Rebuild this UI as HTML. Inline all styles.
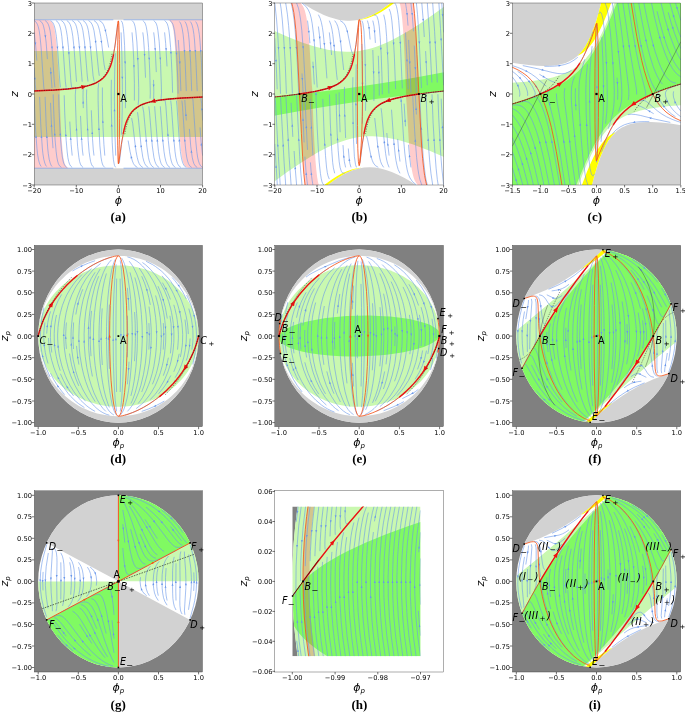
<!DOCTYPE html>
<html><head><meta charset="utf-8"><title>Phase portraits</title>
<style>html,body{margin:0;padding:0;background:#fff}svg{display:block}text{font-family:"DejaVu Sans","Liberation Sans",sans-serif;fill:#000}</style>
</head><body>
<svg width="685" height="713" viewBox="0 0 685 713">
<rect width="685" height="713" fill="#fff"/>
<g id="panel_a">
<clipPath id="clip_a"><rect x="34.2" y="3" width="168.4" height="182"/></clipPath>
<rect x="34.2" y="3" width="168.4" height="182" fill="#fff"/>
<g clip-path="url(#clip_a)">
<path d="M32.9 186.8L204.3 186.8 204.3 168.3 32.5 168.3 32.5 186.8 32.9 186.8ZM32.9 19.7L204.3 19.7 204.3 1.2 32.5 1.2 32.5 19.7 32.9 19.7Z" fill="#d2d2d2" fill-rule="evenodd"/>
<path d="M32.9 136.9L204.3 136.9 204.3 51.1 32.5 51.1 32.5 136.9 32.9 136.9Z" fill="#c9f8b0" fill-rule="evenodd"/>
<path d="M197.1 168.3L189.4 168.1 187.5 167.7 186.1 167.1 184.8 165.8 183.8 164 182.9 161.5 182.1 158 181.1 151.5 180.2 142.6 177.6 105.6 177.3 101.4 176.9 99.3 177 90.9 176.4 71.9 175.4 52.2 174.3 38.3 173.4 30.3 172.2 25.1 171.6 23.4 170.9 22.1 169.9 21 168.6 20.3 168.6 19.7 206.8 19.7 206.8 168.3Z" fill="#ff0000" fill-opacity="0.2"/>
<path d="M39.7 19.7L47.4 19.9 49.3 20.3 50.7 20.9 52 22.2 53 24 53.9 26.5 54.7 30 55.7 36.5 56.6 45.4 59.2 82.4 59.5 86.6 59.9 88.7 59.8 97.1 60.4 116.1 61.4 135.8 62.5 149.7 63.4 157.7 64.6 162.9 65.2 164.6 65.9 165.9 66.9 167 68.2 167.7 68.2 168.3 30 168.3 30 19.7Z" fill="#ff0000" fill-opacity="0.2"/>
<path d="M202.6 167.4L200.6 165.8 199.4 163.7 198.5 161.1 197.6 157.2 196.8 151.6 195.7 140.3 193 100.5 192.8 99.1 192.3 98.2 191.3 97.8 183.9 97.9 180.5 98.5 176.4 98.5 171.4 99.1 167.8 99.2 165.3 99.7 162.4 99.8 160.5 100.3 158 100.5 153.6 101.3 147.9 102.6 144 103.9 142.7 104.5 141 105.1 137.2 107.4 133.7 110 131.2 113 128.7 116.8 126.2 122.6 125.1 125.9 124.1 130 122 140.9 119.3 163.4M202.6 155.6L201.3 144.4 200 127.4M202.6 120.4L201.6 103.4 200.9 97.9 200.7 97.4 199.9 97.2 194.9 97.4M195.6 21.5L196.6 23 197.4 24.9 198.4 28.7 199.3 34.3 199.9 40 201.5 62.7 202.6 91.1M34.2 20.6L36.2 22.2 37.4 24.3 38.3 26.9 39.2 30.8 40 36.4 41.1 47.7 43.8 87.5 44 88.9 44.5 89.8 45.5 90.2 52.9 90.1 56.3 89.5 60.4 89.5 65.4 88.9 69 88.8 71.5 88.3 74.4 88.2 76.3 87.7 78.8 87.5 83.2 86.7 88.9 85.4 92.8 84.1 94.1 83.5 95.8 82.9 99.6 80.6 103.1 78 105.6 75 108.1 71.2 110.6 65.4 111.7 62.1 112.7 58 114.8 47.1 117.5 24.6M34.2 32.4L35.5 43.6 36.8 60.6M34.2 67.6L35.2 84.6 35.9 90.1 36.1 90.6 36.9 90.8 41.9 90.6M41.2 166.5L40.2 165 39.4 163.1 38.4 159.3 37.5 153.7 36.9 148 35.3 125.3 34.2 96.9M197.2 167.4L195.1 165.8 193.9 163.7 193.1 161.1 192.2 157.2 190.7 145.9 189.4 128.9M190.2 21.5L191.2 22.9 192 24.9 193 28.7 193.9 34.3 194.5 40 196 62.7 197.2 91.1M39.6 20.6L41.7 22.2 42.9 24.3 43.7 26.9 44.6 30.8 46.1 42.1 47.4 59.1M46.6 166.5L45.6 165.1 44.8 163.1 43.8 159.3 42.9 153.7 42.3 148 40.8 125.3 39.6 96.9M191.7 167.4L189.7 165.8 188.5 163.7 187.6 161.1 186.7 157.2 185.9 151.6 184.8 140.3 182.5 106.2 181.9 100.6M184.8 21.5L185.8 22.9 186.6 24.9 187.6 28.7 188.5 34.3 189.1 40 190.6 62.7 191.7 91.1M45.1 20.6L47.1 22.2 48.3 24.3 49.2 26.9 50.1 30.8 50.9 36.4 52 47.7 54.3 81.8 54.9 87.4M52 166.5L51 165.1 50.2 163.1 49.2 159.3 48.3 153.7 47.7 148 46.2 125.3 45.1 96.9M61.4 167.4L59.4 165.7 58.4 163.7 57.6 161 56.8 156.9 56.1 151.2 55.1 139.9 54.5 128.5 53.5 105.8 53.2 94.4M66.8 167.4L64.9 165.7 63.9 163.7 63.1 161 62.3 156.8 61.6 151.2 60.6 139.9 59.9 128.5 58.9 105.8 58.7 94.4M72.2 167.4L70.6 166 69.5 164.1 68.7 161.5 67.9 157.7 67.2 152 66.2 140.7 65.5 129.4 64.7 112.3 64.2 95.3M83.1 167.4L81.5 166 80.4 164.1 79.6 161.5 78.9 157.6 77.6 146.3 76.2 123.6 75.4 100.9 75.3 95.2 75.7 89.5 76.1 88.6 76.6 88.2M94 167.4L92.4 166 91.4 164.1 90.6 161.5 89.9 157.5 89.1 151.9 88.2 140.5 87.1 117.8 86.6 100.8 86.5 95.1 86.7 89.4M104.8 167.4L103.3 165.9 102.4 164 101.7 161.3 101 157.2 99.9 145.9 98.7 123.1 98.1 100.4 98.1 89 98.5 84.6 98.7 83.1M115.7 167.4L114.5 165.4 114 163.2 113.4 159.3 112.9 153.7 112.2 142.3 111.3 108.2 111.2 91.2 111.4 79.8M137.4 167.4L135 165.8 133.5 163.7 132.4 161 131.3 157.2 130.1 151.7 128.1 140.5M142.8 167.4L140.6 165.8 139.2 163.7 138.2 161.1 137.2 157.3 136.1 151.7 135.3 146.1 132.7 123.5 131.6 118M148.3 167.4L146.1 165.8 144.8 163.7 143.8 161.1 142.8 157.3 141.1 146.1 138.3 117.8 137.5 112.2M153.7 167.4L151.6 165.8 150.3 163.7 149.3 161.1 148.4 157.3 146.8 146 143.7 112.1 142.6 106.5M159.1 167.4L157 165.8 155.8 163.7 154.8 161.1 153.9 157.3 152.3 146 149.5 112 148.8 106.4M164.6 167.4L162.5 165.8 161.2 163.7 160.3 161.1 159.4 157.2 158.5 151.6 157.3 140.3 154.6 106.3M170 167.4L167.9 165.8 166.7 163.7 165.8 161.1 164.9 157.2 164 151.6 162.8 140.3 160.3 106.3M175.4 167.4L173.4 165.8 172.2 163.7 171.3 161.1 170.4 157.2 169.5 151.6 168.3 140.3 165.9 106.3 165.3 101.5 164.8 100.2 164.3 99.9M180.9 167.4L178.8 165.8 177.6 163.7 176.7 161.1 175.8 157.2 175 151.6 173.4 134.6 171.4 106.3 170.7 100.6M186.3 167.4L184.2 165.8 183.1 163.7 182.2 161.1 181.3 157.2 180.4 151.6 179.3 140.3 177 106.2 176.4 100.6M186.3 120.4L184.8 100M179.4 21.5L180.4 22.9 181.2 24.8 182.2 28.7 183.1 34.3 183.7 40 185.2 62.7 186.3 91.1M170 20.6L171.9 22.3 172.9 24.3 173.7 27 174.5 31.2 175.2 36.8 176.2 48.1 176.9 59.5 177.9 82.2 178.1 93.6M164.6 20.6L166.2 22 167.3 23.9 168.1 26.5 168.9 30.3 169.6 36 170.6 47.3 171.3 58.6 172.1 75.7 172.6 92.7M153.7 20.6L155.3 22 156.4 23.9 157.2 26.5 157.9 30.4 159.2 41.7 160.6 64.4 161.4 87.1 161.5 92.8 161.1 98.5 160.7 99.4 160.2 99.8M142.8 20.6L144.4 22 145.4 23.9 146.2 26.5 146.9 30.5 147.7 36.1 148.6 47.5 149.7 70.2 150.2 87.2 150.3 92.9 150.1 98.6M132 20.6L133.5 22.1 134.4 24 135.1 26.7 135.8 30.8 136.9 42.1 138.1 64.9 138.7 87.6 138.7 99 138.3 103.4 138.1 104.9M121.1 20.6L122.3 22.6 122.8 24.8 123.4 28.7 123.9 34.3 124.6 45.7 125.5 79.8 125.6 96.8 125.4 108.2M99.4 20.6L101.8 22.2 103.3 24.3 104.4 27 105.5 30.8 106.7 36.3 108.7 47.5M94 20.6L96.2 22.2 97.6 24.3 98.6 26.9 99.6 30.7 100.7 36.3 101.5 41.9 104.1 64.5 105.2 70M88.5 20.6L90.7 22.2 92 24.3 93 26.9 94 30.7 95.7 41.9 98.5 70.2 99.3 75.8M83.1 20.6L85.2 22.2 86.5 24.3 87.5 26.9 88.4 30.7 90 42 93.1 75.9 94.2 81.5M77.7 20.6L79.8 22.2 81 24.3 82 26.9 82.9 30.7 84.5 42 87.3 76 88 81.6M72.2 20.6L74.3 22.2 75.6 24.3 76.5 26.9 77.4 30.8 78.3 36.4 79.5 47.7 82.2 81.7M66.8 20.6L68.9 22.2 70.1 24.3 71 26.9 71.9 30.8 72.8 36.4 74 47.7 76.5 81.7M61.4 20.6L63.4 22.2 64.6 24.3 65.5 26.9 66.4 30.8 67.3 36.4 68.5 47.7 70.9 81.7 71.5 86.5 72 87.8 72.5 88.1M55.9 20.6L58 22.2 59.2 24.3 60.1 26.9 61 30.8 61.8 36.4 63.4 53.4 65.4 81.7 66.1 87.4M50.5 20.6L52.6 22.2 53.7 24.3 54.6 26.9 55.5 30.8 56.4 36.4 57.5 47.7 59.8 81.8 60.4 87.4M50.5 67.6L52 88M53 148.2L51.8 131.2 50.5 102.8M178.3 40L179.8 62.7 180.9 91.1M72.2 155.6L71.1 144.3 69.8 121.6M83.1 155.6L82.4 150 81.6 138.7 80.5 115.9M94 155.6L93.3 150 92.5 138.7 91.3 110.3M104.8 155.6L103.9 144.3 103 127.3 102.4 104.5 102.4 87.5M115.7 155.6L114.9 132.9 114.4 98.8 114.6 76 114.9 64.7 115.4 53.3M164.6 32.4L165.7 43.7 167 66.4M153.7 32.4L154.4 38 155.2 49.3 156.3 72.1M142.8 32.4L143.5 38 144.3 49.3 145.5 77.7M132 32.4L132.9 43.7 133.8 60.7 134.4 83.5 134.4 100.5M121.1 32.4L121.9 55.1 122.4 89.2 122.2 112 121.9 123.3 121.4 134.7M153.5 79.9L153.8 91.3 153.7 96.9 153.4 99.9M83.3 108.1L83 96.7 83.1 91.1 83.4 88.1" fill="none" stroke="#6a97ea" stroke-width="0.6" stroke-linejoin="round"/>
<path d="M168.4 99.2L170.7 98L170.9 100ZM201.2 143.1L202.3 145.4L200.4 145.5ZM201.8 107.8L203 110.1L201 110.2ZM200.9 52.6L199.7 50.3L201.7 50.1ZM68.4 88.8L66.1 90L65.9 88ZM35.6 44.9L34.5 42.6L36.4 42.5ZM35 80.2L33.8 77.9L35.8 77.8ZM35.9 135.4L37.1 137.7L35.1 137.9ZM191.2 150.3L192.5 152.6L190.5 152.8ZM195.5 52.6L194.3 50.3L196.3 50.1ZM45.6 37.7L44.3 35.4L46.3 35.2ZM41.3 135.4L42.5 137.7L40.5 137.9ZM184.7 139L185.8 141.3L183.9 141.4ZM190.1 52.6L188.9 50.3L190.9 50.1ZM52.1 49L51 46.7L52.9 46.6ZM46.7 135.4L47.9 137.7L45.9 137.9ZM54.7 132.9L55.8 135.3L53.8 135.4ZM60.2 132.9L61.3 135.2L59.3 135.3ZM65.7 133.7L66.9 136.1L64.9 136.2ZM76.4 128L77.5 130.3L75.6 130.4ZM87.5 127.9L88.6 130.2L86.7 130.3ZM98.9 127.5L100 129.9L98 130ZM111.6 124L112.7 126.4L110.7 126.4ZM131 155.9L132.5 158.1L130.5 158.5ZM135.2 144.8L136.5 147.1L134.5 147.3ZM141 144.8L142.2 147.1L140.3 147.3ZM146.1 139.1L147.3 141.4L145.3 141.6ZM151.7 139L152.9 141.4L150.9 141.5ZM157.2 139L158.4 141.4L156.4 141.5ZM162.7 139L163.9 141.3L161.9 141.5ZM167.8 133.3L169 135.7L167 135.8ZM173.7 139L174.9 141.3L172.9 141.5ZM179.2 139L180.4 141.3L178.4 141.5ZM185.9 113.4L187 115.8L185 115.9ZM184.6 52.6L183.5 50.3L185.5 50.1ZM176.6 55.1L175.5 52.8L177.5 52.7ZM171.1 54.3L169.9 51.9L171.9 51.8ZM160.4 60L159.3 57.7L161.2 57.6ZM149.3 60.1L148.2 57.8L150.1 57.7ZM137.9 60.5L136.8 58.1L138.8 58ZM125.2 64L124.1 61.6L126.1 61.6ZM105.8 32.1L104.3 29.9L106.3 29.5ZM101.6 43.2L100.3 40.9L102.3 40.7ZM95.8 43.2L94.6 40.9L96.5 40.7ZM90.7 48.9L89.5 46.6L91.5 46.4ZM85.1 49L83.9 46.6L85.9 46.5ZM79.6 49L78.4 46.6L80.4 46.5ZM74.1 49L72.9 46.7L74.9 46.5ZM69 54.7L67.8 52.3L69.8 52.2ZM63.1 49L61.9 46.7L63.9 46.5ZM57.6 49L56.4 46.7L58.4 46.5ZM50.9 74.6L49.8 72.2L51.8 72.1ZM51.4 124.2L52.5 126.6L50.5 126.7ZM179.9 64L178.7 61.6L180.7 61.5ZM70.6 137.4L71.7 139.7L69.7 139.8ZM81.5 137.3L82.6 139.7L80.7 139.8ZM92.1 131.7L93.2 134L91.3 134.1ZM102.8 120.3L103.8 122.7L101.9 122.7ZM114.5 108.8L115.5 111.3L113.5 111.3ZM166.2 50.6L165.1 48.3L167.1 48.2ZM155.3 50.7L154.2 48.3L156.1 48.2ZM144.7 56.3L143.6 54L145.5 53.9ZM134 67.7L133 65.3L134.9 65.3ZM122.3 79.2L121.3 76.7L123.3 76.7ZM153.7 86.9L152.6 84.5L154.6 84.4ZM83.1 101.1L84.2 103.5L82.2 103.6Z" fill="#6a97ea"/>
<path d="M-134.2 93L-41.3 92.4 -8.6 92 17.5 91.5 38.2 90.8 54.7 90 67.8 89 78.3 87.7 82.7 86.9 86.6 86.1 90.1 85.1 93.3 84 96.1 82.8 98.6 81.4 100.9 79.9 102.9 78.2 104.8 76.3 106.4 74.1 107.9 71.7 109.2 69 110.5 66 111.6 62.6 112.6 58.8 113.5 54.6" fill="none" stroke="#ee1111" stroke-width="1.4" stroke-linecap="round"/>
<path d="M113.5 54.6L114.5 48.8 115.4 43 117.8 23.4 118.1 21.5 118.4 20.9" fill="none" stroke="#f4561e" stroke-width="0.85"/>
<path d="M86.8 86.1L81.9 89.4L81 85Z" fill="#ee1111"/>
<path d="M371 95L278.1 95.6 245.4 96 219.3 96.5 198.6 97.2 182.1 98 169 99 158.5 100.3 154.1 101.1 150.2 101.9 146.7 102.9 143.5 104 140.7 105.2 138.2 106.6 135.9 108.1 133.9 109.8 132 111.7 130.4 113.9 128.9 116.3 127.6 119 126.3 122 125.2 125.4 124.2 129.2 123.3 133.4" fill="none" stroke="#ee1111" stroke-width="1.4" stroke-linecap="round"/>
<path d="M123.3 133.4L121.3 144.5 119 161.5 118.7 163.2 118.4 163.8" fill="none" stroke="#f4561e" stroke-width="0.85"/>
<path d="M150 101.9L154.9 98.6L155.8 103Z" fill="#ee1111"/>
<path d="M34.2 91L46.7 90.4 57.3 89.8 66.3 89.1 74.1 88.2 80.8 87.2 86.3 86.1 91 84.7 95.3 83 98.8 81 101.5 78.9 103.9 76.4 105 74.9 106.2 73 108.2 69 109.7 64.5 110.9 59.9 112.1 53.6" fill="none" stroke="#111" stroke-width="0.45" stroke-dasharray="1.2 1.2"/>
<path d="M202.6 97L190.1 97.6 179.5 98.2 170.5 98.9 162.7 99.8 156 100.8 150.5 101.9 145.8 103.3 141.5 105 138 107 135.3 109.1 132.9 111.6 131.8 113.1 130.6 115 128.6 119 127.1 123.5 125.9 128.1 124.7 134.4" fill="none" stroke="#111" stroke-width="0.45" stroke-dasharray="1.2 1.2"/>
<path d="M118.4 20.9L118.7 22 118.9 25.4 119.3 39.4 119.6 63.6 119.7 94 119.6 118.8 119.4 139.4 118.9 157 118.6 162 118.4 163.8" fill="none" stroke="#f4561e" stroke-width="0.85"/>
<path d="M118.4 163.8L118.2 162.6 118 159.2 117.7 145.2 117.5 94 117.7 45.2 118.1 27.5 118.2 22.6 118.4 20.9" fill="none" stroke="#f4561e" stroke-width="0.85"/>
<path d="M34.2 19.8L113.3 19.8" fill="none" stroke="#6a97ea" stroke-width="0.6"/>
<path d="M123.5 19.8L202.6 19.8" fill="none" stroke="#6a97ea" stroke-width="0.6"/>
<path d="M34.2 168.2L113.3 168.2" fill="none" stroke="#6a97ea" stroke-width="0.6"/>
<path d="M123.5 168.2L202.6 168.2" fill="none" stroke="#6a97ea" stroke-width="0.6"/>
</g>
<rect x="34.2" y="3" width="168.4" height="182" fill="none" stroke="#333" stroke-width="0.4"/>
<text x="34.2" y="192.7" font-size="6.7" text-anchor="middle">−20</text>
<text x="76.3" y="192.7" font-size="6.7" text-anchor="middle">−10</text>
<text x="118.4" y="192.7" font-size="6.7" text-anchor="middle">0</text>
<text x="160.5" y="192.7" font-size="6.7" text-anchor="middle">10</text>
<text x="202.6" y="192.7" font-size="6.7" text-anchor="middle">20</text>
<text x="32" y="187.5" font-size="6.7" text-anchor="end">−3</text>
<text x="32" y="157.2" font-size="6.7" text-anchor="end">−2</text>
<text x="32" y="126.8" font-size="6.7" text-anchor="end">−1</text>
<text x="32" y="96.5" font-size="6.7" text-anchor="end">0</text>
<text x="32" y="66.2" font-size="6.7" text-anchor="end">1</text>
<text x="32" y="35.8" font-size="6.7" text-anchor="end">2</text>
<text x="32" y="5.5" font-size="6.7" text-anchor="end">3</text>
<path d="M34.2 185v2.4M76.3 185v2.4M118.4 185v2.4M160.5 185v2.4M202.6 185v2.4M34.2 185h-2.4M34.2 154.7h-2.4M34.2 124.3h-2.4M34.2 94h-2.4M34.2 63.7h-2.4M34.2 33.3h-2.4M34.2 3h-2.4" stroke="#000" stroke-width="0.55" fill="none"/>
<rect x="117.3" y="92.9" width="2.2" height="2.2" fill="#000"/>
<text x="120.2" y="101.7" font-size="9.6" text-anchor="start">A</text>
</g>
<text x="118.4" y="204" font-size="11" font-style="italic" text-anchor="middle">ϕ</text>
<text transform="translate(17.5 94) rotate(-90)" font-size="11" font-style="italic" text-anchor="middle">z</text>
<g id="panel_b">
<clipPath id="clip_b"><rect x="274.8" y="3" width="168.8" height="182"/></clipPath>
<rect x="274.8" y="3" width="168.8" height="182" fill="#fff"/>
<g clip-path="url(#clip_b)">
<path d="M325.9 186.8L418.6 186.8 411.5 182.1 404.6 178.1 398 174.7 391.8 171.9 385.9 169.9 380.4 168.4 374.9 167.5 369.4 167.2 363.9 167.5 358.7 168.4 353.5 169.9 348 172.1 342.5 174.9 336.6 178.5 329.7 183.5 325.6 186.8 325.9 186.8ZM344.2 20.6L347.3 20.8 350.1 20.8 353.2 20.6 355.9 20.3 359 19.7 361.8 19.1 364.9 18.1 367.7 17.1 373.5 14.4 379.7 10.9 385.9 6.6 392.8 1.2 299.8 1.2 306.2 5.4 312.4 9.2 318.3 12.3 323.8 14.9 329 17 334.2 18.6 339.4 19.9 344.2 20.6Z" fill="#d2d2d2" fill-rule="evenodd"/>
<path d="M322.1 186.8L325.6 186.8 330.7 182.7 335.9 178.9 341.1 175.7 345.9 173 349.4 171.5 352.8 170.1 356.3 169 359.6 168.2 358.7 168.1 357.6 168.2 354.9 168.8 351.8 169.6 347 171.3 341.8 173.6 336.9 176.2 331.8 179.5 325.6 183.9 321.9 186.8 322.1 186.8ZM360.1 168L361.6 167.8 360.4 167.8 359.9 167.8 360.1 168ZM357 20.2L358.5 20.2 358 20 357 20.2ZM359 19.9L360.1 19.9 362.1 19.6 367.3 18.2 371.8 16.6 376.6 14.4 381.5 11.8 386.3 8.8 391.5 5.1 396.5 1.2 392.8 1.2 388.4 4.8 383.9 8.1 379.7 10.9 375.6 13.3 371.4 15.5 367.7 17.1 363.2 18.7 358.8 19.8 359 19.9Z" fill="#ffff00" fill-rule="evenodd"/>
<path d="M273.5 182L287.6 171.8 300.7 162.9 312.1 155.8 317.6 152.6 322.8 149.8 327.6 147.3 332.5 145.1 337.3 143.1 341.8 141.4 346.3 140 350.7 138.8 354.9 137.8 359.4 137.1 363.9 136.6 368 136.3 372.5 136.3 377 136.5 381.5 136.9 386.3 137.5 391.1 138.4 395.9 139.4 401.1 140.8 406.6 142.4 412.5 144.3 418.4 146.4 430.8 151.3 445.3 157.6 445.3 5.8 430.8 16.2 418 24.9 406.3 32.2 395.9 38 391.1 40.5 386.3 42.7 381.5 44.8 377 46.5 372.5 47.9 368 49.2 363.9 50.1 359.4 50.9 355.2 51.4 350.7 51.7 346.3 51.7 341.8 51.6 337.3 51.2 332.5 50.5 327.6 49.7 322.8 48.6 317.6 47.3 312.1 45.7 300.7 41.9 287.6 36.7 273.1 30.4 273.1 182.2 273.5 182Z" fill="#c9f8b0" fill-rule="evenodd"/>
<path d="M273.5 115.9L297.3 111.5 318.7 107.7 339 104.4 358.7 101.4 377.7 98.8 398.7 96.2 421.8 93.7 445.3 91.3 445.3 72 421.1 76.5 400.1 80.2 379.7 83.6 359.7 86.6 340.7 89.2 319.7 91.8 296.6 94.3 273.1 96.7 273.1 116 273.5 115.9Z" fill="#80fa62" fill-rule="evenodd"/>
<path d="M427.1 186.5L425.6 180.7 424.2 173 423.1 163.2 422 150.6 420.2 120.5 416 34.3 414.6 14.7 413.2 1.5 399 1.5 400.2 4.9 401.2 10.4 402.1 18.2 403 28.6 404 44.4 405 65.4 405.9 88.7 406 97 406.5 102.4 408.7 139.4 410.3 158.8 411.8 169.8 412.7 173.9 413.6 177.4 414.6 180.2 415.9 182.5 417.3 184.6 419.1 186.5Z" fill="#ff0000" fill-opacity="0.2"/>
<path d="M291.3 1.5L292.8 7.3 294.2 15 295.3 24.8 296.4 37.4 298.2 67.5 302.4 153.7 303.8 173.3 305.2 186.5 319.4 186.5 318.2 183.1 317.2 177.6 316.3 169.8 315.4 159.4 314.4 143.6 313.4 122.6 312.5 99.3 312.4 91 311.9 85.6 309.7 48.6 308.1 29.2 306.6 18.2 305.7 14.1 304.8 10.6 303.8 7.8 302.5 5.5 301.1 3.4 299.3 1.5Z" fill="#ff0000" fill-opacity="0.2"/>
<path d="M280.2 185L278.4 156.6 275.7 105.5 274.8 94.9M285.7 185L284.1 162.3 280.6 98.4 280.3 96.9 280.1 96.7 279.5 96.6 277.7 96.6M291.1 185L289.1 156.6 286 98.4 285.8 96.1 285.3 96 283.1 96.1M296.6 185L295.2 168 294.1 151M302 185L300.9 173.7 299.7 156.7 296.6 95.4 296.3 94.8 293 94.8 292.2 95.2 291.5 95 288.6 95.1M307.5 185L306.2 173.7 304.9 156.7M312.9 185L312 179.4 311.3 173.8 310.4 162.4M323.8 185L322.6 183.4 321.9 181.5 321.2 178.3 320.4 173.4 319.2 162.1 318.1 145 317.2 128 316.1 99.6 316 92.4 316.7 91.3 321.1 90.3 321.8 90 322.9 89.9 323.9 89.5 325.3 89.3 326.3 88.8 327.2 88.7 329.4 88 335.7 85.4 339.4 83.3 343.3 80.1 345.1 78.2 348.2 73.3 350.6 68.5 351.8 64.9 354 56.3 355.9 45.1 358.7 22.6M416.4 185L412.3 181.4 410 178 408.4 174.3 407.2 169.9 406.2 164.4 404.8 153.1 403.8 141.8 401.2 100.5 401 99.1 400.6 97.7 400.2 97.4 397.9 98 397.1 98 389.7 100.1 387.6 101 386.3 101.3 380.2 104.4 377.3 106.3 373.9 109.4 372.8 110.8 370.4 114.2 368.2 118.6 367.1 121.5 364.9 129.2 362.9 140.2 360.1 162.7M421.8 185L419.9 179.7 418.8 174.5 417.9 168.9 416.6 157.6 414.9 134.9 412.7 95.6 412.2 95.3 409.7 95.4 407.6 96.1 406 96.1 405 96.4 404 96.1 402.9 96.4M427.3 185L426 179.5 425.1 173.9 423.2 156.9 421.3 128.6 419.7 94.1 420.7 94.2 421.7 93.6 425.3 93.5 426.3 93 429.8 93 431.3 92.4 434.1 92.4 437.6 91.8 440.2 91.7 443.4 91.2 443.6 91M432.7 185L431 173.8 429.8 162.5 428.9 151.2 427.2 122.8 426 94.4M438.2 185L437.3 179.4 436.1 168.1 434.8 151.1 433.1 122.7 432 94.3M443.6 185L441.8 168.1 440.5 151 438.7 117 437.9 94.2M443.6 149.8L442.1 121.4 441.2 98.7M438.9 3L440.5 28.4 443.6 85.2M441.8 3L443.6 32.4M432.7 3L434.6 31.4 437.3 82.5M427.3 3L429.3 31.4 431.9 82.5M421.8 3L423.2 20 424.3 37M416.4 3L417.5 14.3 418.7 31.3 421.5 88.1M410.9 3L412.2 14.3 413.5 31.3M405.5 3L406.4 8.6 407.1 14.2 408 25.6M394.6 3L395.8 4.6 396.5 6.5 397.2 9.7 398 14.6 398.7 20.3 399.6 31.6 400.6 48.6 402.3 88.4M302 3L306.1 6.6 308.4 10 310 13.7 311.2 18.1 312.2 23.6 313.6 34.9 314.6 46.2 317.2 87.5M296.6 3L298.5 8.3 299.6 13.5 300.5 19.1 301.8 30.4 303.5 53.1 305.7 92.4 306.2 92.7 308.7 92.6 310.8 91.9 312.4 91.9 313.4 91.6 314.4 91.9 315.5 91.6M291.1 3L292.4 8.5 294.1 19.7 295.2 31.1 296 42.4 297.4 65.1 298.7 93.5 298.7 93.9 298.1 93.7 297.4 93.9M285.7 3L287.4 14.2 288.6 25.5 289.5 36.8 291.2 65.2 292.4 93.6M280.2 3L281.1 8.6 282.3 19.9 283.6 36.9 285.3 65.3 286.4 93.7M274.8 3L276.6 19.9 277.9 37 279.7 71 280.5 93.8M274.8 38.2L276.3 66.6 277.2 89.3M277.3 185L274.8 143.9M329.3 179.1L328 175.8 327.3 172.6 326.5 167 325.5 155.7 324.1 133 322.8 98.9M389.1 8.9L390.4 12.2 391.1 15.4 391.9 21 392.9 32.3 394.3 55 395.6 89.1M334.7 173.3L333.4 167.8 332.7 162.7 331.8 151.4 330.3 123 329.5 94.5M400 173.3L398.2 169.6 397.1 165.8 396 160.6 395.2 155 393.5 138 391.5 109.7M383.7 14.7L385 20.2 385.7 25.3 386.6 36.6 388.1 65 388.9 93.5M318.4 14.7L320.2 18.4 321.3 22.2 322.4 27.4 323.2 33 324.9 50 326.9 78.3M344.6 173.1L343.4 173.1 342.4 172.7 341.5 171.7 340.9 170.1 340.1 167.4 339.2 161.8 338.2 150.5 337.2 133.4 336.4 110.7 336.1 93.7M345.6 167.4L344.4 161.9 343.8 156.5 343 145.1M351 167.4L349.9 163.5 349.3 159.8 348.3 148.5M356.5 167.4L355.5 164.7 354.4 156.8 353.5 139.7 352.8 105.6 352.7 88.6 352.9 77.2M378.3 167.4L375.4 165.6 373.4 163 372.2 160.2 371 156.3 367.6 139.7 366.5 135.9M383.7 167.4L381.8 164.5 380.6 161.5 379.6 157.4 377.8 146.2 374.7 118M389.1 167.4L387.5 163.2 386.5 159 385.6 153.4 384.3 142.1 381.8 113.8 381.1 108.2M410.9 167.4L409.5 156.1 408.5 144.8M425.6 51.1L427.3 85.2M373.8 14.9L375 14.9 376 15.3 376.9 16.3 377.5 17.9 378.3 20.6 379.2 26.2 380.2 37.5 381.2 54.6 382 77.3 382.3 94.3M372.8 20.6L374 26.1 374.6 31.5 375.4 42.9M367.4 20.6L368.5 24.5 369.1 28.2 370.1 39.5M361.9 20.6L362.9 23.3 364 31.2 364.9 48.3 365.6 82.4 365.7 99.4 365.5 110.8M340.1 20.6L343 22.4 345 25 346.2 27.8 347.4 31.7 350.8 48.3 351.9 52.1 352.6 53.3 353.2 53.4 353.7 52.9M334.7 20.6L336.6 23.5 337.8 26.5 338.8 30.6 340.6 41.8 343.7 70M329.3 20.6L330.9 24.8 331.9 29 332.8 34.6 334.1 45.9 336.6 74.2 337.3 79.8M307.5 20.6L308.9 31.9 309.9 43.2M292.8 136.9L291.1 102.8M400 161.5L398.6 150.2 397.7 138.9M318.4 26.5L319.8 37.8 320.7 49.1M312.9 155.6L311.7 132.9 310.2 98.8M389.1 155.6L387.8 144.4 386.8 133M416.4 114.5L415.3 95.1 415.1 94.8 413.7 94.8M414.3 45.6L416.4 92.6M405.5 32.4L406.7 55.1 408.2 89.2M329.3 32.4L330.6 43.6 331.6 55M302 73.5L303.1 92.9 303.3 93.2 304.7 93.2M304.1 142.4L302 95.4M307.5 149.8L306 121.4 304.9 94.1M408.6 39.9L410 68.3 411 92.6M356.5 143.9L356 121.2 355.8 98.4 355.9 81.3 356.2 64.3M405.5 126.3L404.1 103.6M361.9 44.1L362.4 66.8 362.6 89.6 362.5 106.7 362.2 123.7M312.9 61.7L314.3 84.4M345.6 138L344.6 109.6 344.4 98.2 344.5 86.9M372.8 50L373.8 78.4 374 89.8 373.9 101.1M340.1 132.2L339.3 109.4 339.1 92.4M378.3 55.8L379.1 78.6 379.3 95.6" fill="none" stroke="#6a97ea" stroke-width="0.6" stroke-linejoin="round"/>
<path d="M277.7 144L278.8 146.3L276.9 146.4ZM283.1 144L284.2 146.3L282.2 146.4ZM288.1 138.3L289.3 140.7L287.3 140.8ZM295.1 166.7L296.2 169L294.3 169.2ZM298.7 138.3L299.8 140.7L297.8 140.8ZM306.1 172.4L307.3 174.7L305.3 174.9ZM311.2 172.4L312.4 174.8L310.5 174.9ZM316 92.6L316.9 95L315 95ZM401 99.2L402.2 101.5L400.3 101.7ZM415.2 139.3L416.3 141.6L414.3 141.7ZM421.2 127.3L422.4 129.6L420.4 129.7ZM428.1 138.5L429.2 140.8L427.2 141ZM434 138.4L435.1 140.8L433.1 140.9ZM439.8 138.4L440.9 140.7L438.9 140.8ZM442.3 125.7L443.4 128.1L441.4 128.2ZM441.2 41.1L440.1 38.7L442.1 38.6ZM442.7 16.6L441.5 14.3L443.5 14.2ZM435.3 44L434.2 41.7L436.2 41.6ZM430 44L428.8 41.7L430.8 41.6ZM423.3 21.3L422.2 19L424.1 18.8ZM419.4 44L418.3 41.6L420.3 41.5ZM412.3 15.6L411.1 13.3L413.1 13.1ZM407.2 15.6L406 13.2L407.9 13.1ZM400.4 44.3L399.3 41.9L401.3 41.8ZM314.2 41.9L313 39.5L315 39.4ZM303.2 48.7L302.1 46.4L304.1 46.3ZM296.5 49.4L295.4 47L297.3 46.9ZM290.3 49.5L289.2 47.2L291.2 47ZM284.4 49.6L283.3 47.2L285.3 47.1ZM278.6 49.6L277.5 47.3L279.5 47.2ZM276.1 62.3L275 59.9L277 59.8ZM276 165.3L277.1 167.7L275.1 167.8ZM324.7 143L325.8 145.4L323.8 145.5ZM393.7 45L392.6 42.6L394.6 42.5ZM330.7 133L331.8 135.4L329.9 135.5ZM393.9 142.4L395.1 144.7L393.1 144.9ZM387.7 55L386.6 52.6L388.5 52.5ZM324.5 45.6L323.3 43.3L325.3 43.1ZM337.5 137.8L338.6 140.2L336.6 140.3ZM343.7 155.1L344.9 157.5L342.9 157.6ZM349.2 158.5L350.4 160.8L348.4 161ZM353 121.4L354 123.8L352.1 123.8ZM370.7 155L372.2 157.2L370.3 157.6ZM377.6 144.9L378.9 147.2L376.9 147.4ZM384.1 140.8L385.4 143.1L383.4 143.3ZM409.4 154.8L410.6 157.1L408.6 157.3ZM426.2 63.8L425.1 61.4L427.1 61.3ZM380.9 50.2L379.8 47.8L381.8 47.7ZM374.7 32.9L373.5 30.5L375.5 30.4ZM369.2 29.5L368 27.2L370 27ZM365.4 66.6L364.4 64.2L366.3 64.2ZM347.7 33L346.2 30.8L348.1 30.4ZM340.8 43.1L339.5 40.8L341.5 40.6ZM334.3 47.2L333 44.9L335 44.7ZM309 33.2L307.8 30.9L309.8 30.7ZM292.2 124.2L293.3 126.6L291.3 126.7ZM398.5 148.9L399.7 151.2L397.8 151.4ZM319.9 39.1L318.7 36.8L320.6 36.6ZM311.3 125.9L312.4 128.3L310.4 128.4ZM387.7 143L388.9 145.4L386.9 145.5ZM416 107.6L417.1 109.9L415.2 110ZM415.4 69.7L414.3 67.3L416.3 67.2ZM407.1 62.1L406 59.7L408 59.6ZM330.7 45L329.5 42.6L331.5 42.5ZM302.4 80.4L301.3 78.1L303.2 78ZM303 118.3L304.1 120.7L302.1 120.8ZM306.2 125.7L307.3 128.1L305.4 128.2ZM409.8 64L408.7 61.6L410.7 61.5ZM355.9 102.8L356.9 105.2L354.9 105.2ZM405.1 119.3L406.2 121.7L404.2 121.8ZM362.5 85.2L361.5 82.8L363.5 82.8ZM313.3 68.7L312.2 66.3L314.2 66.2ZM344.7 114L345.8 116.4L343.8 116.4ZM373.7 74L372.6 71.6L374.6 71.6ZM339.5 113.8L340.5 116.2L338.6 116.2ZM378.9 74.2L377.9 71.8L379.8 71.8Z" fill="#6a97ea"/>
<path d="M299.5 94.1L301.4 133.7 302.6 156.8 303.9 174.4 305.2 186.5" fill="none" stroke="#f4561e" stroke-width="0.85"/>
<path d="M299.5 93.9L297.5 54.9 296.7 41 295.8 29.6 294.8 20.2 293.8 12.5 292.6 6.4 291.3 1.5" fill="none" stroke="#f4561e" stroke-width="0.85"/>
<path d="M299.5 94L286.5 95.7 270.6 97.4" fill="none" stroke="#c81e14" stroke-width="0.85"/>
<path d="M418.9 93.9L417 54.3 415.8 31.2 414.5 13.6 413.2 1.5" fill="none" stroke="#f4561e" stroke-width="0.85"/>
<path d="M418.9 94.1L420.9 133.1 421.7 147 422.6 158.4 423.6 167.8 424.6 175.5 425.8 181.6 427.1 186.5" fill="none" stroke="#f4561e" stroke-width="0.85"/>
<path d="M418.9 94L431.9 92.3 447.8 90.6" fill="none" stroke="#c81e14" stroke-width="0.85"/>
<path d="M299.5 94L307.4 92.8 314.2 91.6 320.2 90.3 325.4 89 329.9 87.6 333.8 86 337.3 84.3 340.3 82.4 342.9 80.2 345.3 77.8 347.3 75.1 349.1 72 350.7 68.4 352.1 64.4 353.3 59.8 354.4 54.5" fill="none" stroke="#ee1111" stroke-width="1.4" stroke-linecap="round"/>
<path d="M354.4 54.5L356 44.6 358.5 23.2 358.9 20.6 359.2 19.7" fill="none" stroke="#f4561e" stroke-width="0.85"/>
<path d="M333.3 86.3L328.9 90.3L327.4 86.1Z" fill="#ee1111"/>
<path d="M418.9 94L411 95.2 404.2 96.4 398.2 97.7 393 99 388.5 100.4 384.6 102 381.1 103.7 378.1 105.6 375.5 107.8 373.1 110.2 371.1 112.9 369.3 116 367.7 119.6 366.3 123.6 365.1 128.2 364 133.5" fill="none" stroke="#ee1111" stroke-width="1.4" stroke-linecap="round"/>
<path d="M364 133.5L362.1 144.9 359.8 163.1 359.5 164.9 359.2 165.6" fill="none" stroke="#f4561e" stroke-width="0.85"/>
<path d="M385.1 101.7L389.5 97.7L391 101.9Z" fill="#ee1111"/>
<path d="M274.8 97L287.4 95.6 297.9 94.2 307 92.9 314.8 91.4 321.5 90 327 88.4 331.7 86.7 336 84.7 339.5 82.4 342.3 80.1 344.6 77.5 345.8 75.9 347 73.9 348.9 69.8 350.5 65.2 351.7 60.5 352.9 54" fill="none" stroke="#111" stroke-width="0.45" stroke-dasharray="1.2 1.2"/>
<path d="M443.6 91L431 92.4 420.5 93.8 411.4 95.1 403.6 96.6 396.9 98 391.4 99.6 386.7 101.3 382.4 103.3 378.9 105.6 376.1 107.9 373.8 110.5 372.6 112.1 371.4 114.1 369.5 118.2 367.9 122.8 366.7 127.5 365.5 134" fill="none" stroke="#111" stroke-width="0.45" stroke-dasharray="1.2 1.2"/>
<path d="M359.2 19.7L359.6 19.8 360 20.3 360.6 22.6 361.1 27.2 361.5 34.4 361.9 45.7 362.2 60.4 362.5 94 362.3 116.4 361.7 135.2 361.1 145.9 360.2 157.5 359.6 163.6 359.4 165.1 359.2 165.6" fill="none" stroke="#f4561e" stroke-width="0.85"/>
<path d="M359.2 165.6L359 165.4 358.8 164.7 358.4 161.8 357.8 148.8 357.5 125.3 357.3 94 357.4 69.2 357.8 48 358.5 27.6 358.9 21.7 359.2 19.7" fill="none" stroke="#f4561e" stroke-width="0.85"/>
</g>
<rect x="274.8" y="3" width="168.8" height="182" fill="none" stroke="#333" stroke-width="0.4"/>
<text x="274.8" y="192.7" font-size="6.7" text-anchor="middle">−20</text>
<text x="317" y="192.7" font-size="6.7" text-anchor="middle">−10</text>
<text x="359.2" y="192.7" font-size="6.7" text-anchor="middle">0</text>
<text x="401.4" y="192.7" font-size="6.7" text-anchor="middle">10</text>
<text x="443.6" y="192.7" font-size="6.7" text-anchor="middle">20</text>
<text x="272.6" y="187.5" font-size="6.7" text-anchor="end">−3</text>
<text x="272.6" y="157.2" font-size="6.7" text-anchor="end">−2</text>
<text x="272.6" y="126.8" font-size="6.7" text-anchor="end">−1</text>
<text x="272.6" y="96.5" font-size="6.7" text-anchor="end">0</text>
<text x="272.6" y="66.2" font-size="6.7" text-anchor="end">1</text>
<text x="272.6" y="35.8" font-size="6.7" text-anchor="end">2</text>
<text x="272.6" y="5.5" font-size="6.7" text-anchor="end">3</text>
<path d="M274.8 185v2.4M317 185v2.4M359.2 185v2.4M401.4 185v2.4M443.6 185v2.4M274.8 185h-2.4M274.8 154.7h-2.4M274.8 124.3h-2.4M274.8 94h-2.4M274.8 63.7h-2.4M274.8 33.3h-2.4M274.8 3h-2.4" stroke="#000" stroke-width="0.55" fill="none"/>
<rect x="358.1" y="92.9" width="2.2" height="2.2" fill="#000"/>
<text x="361" y="101.7" font-size="9.6" text-anchor="start">A</text>
<rect x="298.6" y="93.1" width="1.8" height="1.8" fill="#000"/>
<rect x="418" y="93.1" width="1.8" height="1.8" fill="#000"/>
<text x="301.2" y="102.2" font-size="9.6" font-style="italic" text-anchor="start">B<tspan dx="0.3" dy="3" font-size="8.16" font-style="normal">−</tspan></text>
<text x="420.6" y="102.2" font-size="9.6" font-style="italic" text-anchor="start">B<tspan dx="1.6" dy="2" font-size="6.912" font-style="normal">+</tspan></text>
</g>
<text x="359.2" y="204" font-size="11" font-style="italic" text-anchor="middle">ϕ</text>
<text transform="translate(258 94) rotate(-90)" font-size="11" font-style="italic" text-anchor="middle">z</text>
<g id="panel_c">
<clipPath id="clip_c"><rect x="512.3" y="3" width="168.5" height="182"/></clipPath>
<rect x="512.3" y="3" width="168.5" height="182" fill="#fff"/>
<g clip-path="url(#clip_c)">
<path d="M591.6 186.8L682.5 186.8 682.5 125.4 670.4 123.6 660.1 122.6 650.8 122.1 642.9 122.2 639.4 122.5 636 123 632.9 123.5 629.8 124.3 627 125.2 624.3 126.4 621.9 127.6 619.5 129.1 617.3 130.6 615.2 132.5 613.3 134.4 611.2 136.8 609.4 139.2 607.5 142.2 605.7 145.3 604 148.5 600.9 155.9 597.6 164.9 594.3 176 592.2 183.8 591.6 186.8ZM543.7 65.9L549.9 65.8 555.7 65.2 560.9 64.3 565.7 62.9 569.9 61.1 573.6 58.9 577.1 56.2 580.5 52.9 583.4 49.2 586.3 44.7 589.1 39.5 591.6 33.9 594.1 27.2 596.6 19.4 599.1 10.8 601.6 1.2 510.6 1.2 510.6 62.6 520.3 64 528.9 65 536.8 65.7 543.7 65.9Z" fill="#d2d2d2" fill-rule="evenodd"/>
<path d="M581.6 186.8L591.5 186.8 594.3 176 597.1 166.6 599.8 158.6 602.6 151.7 605.4 145.9 608.4 140.6 611.7 136.2 613.3 134.4 615.2 132.5 614.6 132.5 611.2 134.5 608.8 136.3 606.4 138.4 604.3 140.6 602 143.3 599.9 146.3 597.9 149.2 595.7 153.1 593.6 157 589.5 165.8 586.7 172.4 584 179.5 581.3 186.8 581.6 186.8ZM578.1 55.5L578.5 55.5 578.8 55.2 579.8 54.8 582.6 53 585 51.1 587.1 49.2 589.1 47 591.2 44.5 593.3 41.7 595.2 38.8 599.1 31.7 603.3 23 607.4 13 611.8 1.2 601.6 1.2 598.9 11.6 596.2 20.9 593.5 28.7 590.7 35.8 587.9 41.7 585 46.8 582 51 580.1 53.3 577.9 55.5 578.1 55.5Z" fill="#ffff00" fill-rule="evenodd"/>
<path d="M511 186.8L577.9 186.8 582.9 173.6 587.6 162.6 592 153.3 596.4 145.1 598.5 141.4 600.9 137.9 603.1 134.7 605.3 131.9 607.7 129.1 610.2 126.6 612.6 124.4 615 122.4 617.7 120.4 620.5 118.6 623.2 117.1 626.3 115.5 629.4 114.2 632.9 112.9 636.7 111.7 640.5 110.6 649.1 108.8 658.7 107.3 669.7 106.1 682.5 105.2 682.5 1.2 615.2 1.2 610.2 14.4 605.5 25.4 601.1 34.7 596.7 42.9 594.6 46.6 592.2 50.1 590 53.3 587.8 56.1 585.4 58.9 582.9 61.4 580.5 63.6 578.1 65.6 575.4 67.6 572.6 69.4 569.9 70.9 566.8 72.5 563.7 73.8 560.2 75.1 556.4 76.3 552.6 77.4 544 79.2 534.4 80.7 523.4 81.9 510.6 82.8 510.6 186.8 511 186.8Z" fill="#c9f8b0" fill-rule="evenodd"/>
<path d="M511 186.8L575.6 186.8 581 173.4 586 161.8 590.7 151.8 595.3 143.1 599.9 135.5 604.6 128.6 609.5 122.6 614.6 117.1 620.1 112.2 623.2 109.8 626.3 107.6 633.2 103.3 640.6 99.4 649.1 95.5 658.7 91.7 669.7 87.8 682.5 83.7 682.5 1.2 617.5 1.2 612.1 14.6 607.1 26.2 602.4 36.2 597.8 44.9 593.2 52.5 588.5 59.4 583.6 65.4 578.5 70.9 573 75.8 569.9 78.2 566.8 80.4 559.9 84.7 552.5 88.6 544 92.5 534.4 96.3 523.4 100.2 510.6 104.3 510.6 186.8 511 186.8Z" fill="#80fa62" fill-rule="evenodd"/>
<path d="M517.6 185L512.3 167.7M522.8 185L518.4 169.2 514.9 158.8 512.3 151.8M528.1 185L523.9 169.1 520.7 158.6 517 148.3 515 143.3 512.3 137.6M533.4 185L530.8 174.3 528 163.7 524.8 153.2 523.1 148.1 519.1 137.9 516.8 133 512.3 125.1M538.6 185L535 168.9 532.2 158.3 529.1 147.8 525.4 137.5 523.3 132.5 521 127.6 518.3 122.9 515.2 118.5 512.3 114.9M543.9 185L540.5 168.9 536.6 152.9 533.5 142.4 529.9 132 527.8 127 525.5 122.1 522.7 117.5 519.5 113.3 516.7 110.8 512.3 108.4M549.2 185L544.8 163.4 541.1 147.4 538.1 136.8 536.5 131.6 534.6 126.5 532.6 121.4 530.2 116.5 527.5 111.9 524.8 108.7 522.4 106.7 519.9 105.5 517.2 104.9 512.3 105M554.4 185L549.4 158 545.8 141.9 543 131.3 541.4 126 537.7 115.8 535.4 110.8 532.7 106.2 530.6 103.8 528.6 102.3 526.6 101.6 524.5 101.4 522.2 101.6 519.3 102.2M559.7 185L555 157.9 551.9 141.7 548.1 125.7 545.1 115.1 543.3 110 541.3 104.9 538.8 100.1 537.8 98.7 536.8 97.6 535.6 97.1 534.2 97.1 531 97.9M565 185L560.7 157.8 556.9 136.1 553.5 120 548.1 98.7 547.5 95.4 547.4 93.8 547.7 92.3 548.7 91 549.8 90.1 558.7 84.5 562.9 81.4 567 78.1 570.8 74.5 574.4 70.5 577.6 66.3 580.5 61.8 583.1 57 585.5 52.1 589.5 42 592.9 31.6M570.2 185L563 136 557.4 103.5 556.6 98 556.4 93.5M575.5 185L572.4 163.2 564.8 103.1 564.3 97.6 564.3 92.1 564.8 88.1M580.8 185L579 174.1 576.4 152.3 572.9 119.4 571.5 102.9 571.3 97.4 571.3 91.9 571.7 86.4 572.9 81.1 574.6 76.5M680.8 122.4L675.9 120.8 671.1 118.9 666.4 116.7 661.9 114.1 657.7 111.1 646.7 101.7 645 100.8 643.1 100.4 641.2 100.6 639.2 101.2 636.8 102.4 633.6 104.2 629.7 107 625.6 110.3 621.8 114 618.3 118 615.1 122.3 612.2 126.8 609.7 131.6 607.3 136.5 605.3 141.5 601.6 151.8M680.8 116.8L676.7 113.5 672.9 109.8 669.7 105.5 667.1 100.8 665.8 96.9 665.4 94.2 665.6 92.2 666.4 90.7 667.7 89.4 669.2 88.4 671.4 87.3 680.8 84M680.8 111.1L677.6 106.8 675.1 102 673.5 97.1 673.2 93.9 673.6 91.4M651.5 3L654.4 16.7 658.4 32.7 661.5 43.2 665.1 53.5 667.2 58.5 669.5 63.4 672.2 68.1 674.9 71.8 677.6 74.6 680.8 76.9M657.1 11.3L659.7 22 662.6 32.5 665.9 43 667.7 48.1 669.8 53.2 672 58.1 674.6 62.9 677.4 67.2 680.8 71.3M661 3L665.1 19.3 669.8 35.1 673.6 45.3 675.7 50.3 678.1 55.2 680.8 59.9M668.2 12.4L671.2 23 674.6 33.4 678.5 43.6 680.8 48.5M669.9 3L672.2 11.2 675.3 21.7 678.8 32 680.8 37.1M675.5 3L680.8 20.3M643.9 3L647.1 19.2 650.7 35.3 655 51.2 658.5 61.5 660.5 66.6 662.9 71.5 665.6 76.1 668.3 79.3 670.7 81.3 673.2 82.5 675.9 83.1M638.7 3L641.6 19.2 644.9 35.4 647.3 46.1 650.1 56.7 653.4 67.1 655.4 72.2 657.7 77.2 660.4 81.8 662.5 84.2M633.4 3L638.1 30.1 641.2 46.3 645 62.3 648 72.9 649.8 78 651.8 83.1 654.3 87.9 655.3 89.3 656.3 90.4 657.5 90.9 658.9 90.9 662.1 90.1M628.1 3L632.4 30.2 636.2 51.9 639.6 68 645 89.3 645.6 92.6 645.7 94.2 645.4 95.7M622.9 3L630.1 52 635.7 84.5 636.5 90 636.7 94.5M617.6 3L620.7 24.8 628.3 84.9 628.8 90.4 628.8 95.9 628.3 99.9M612.3 3L614.1 13.9 616.7 35.7 620.2 68.6 621.6 85.1 621.8 90.6 621.8 96.1 621.4 101.6 620.2 106.9 618.5 111.5M512.3 65.6L517.2 67.2 522 69.1 526.7 71.3 531.2 73.9 535.4 76.9 546.4 86.3M512.3 71.3L516.4 74.5 520.2 78.2 523.4 82.5 526 87.2 527.3 91.1 527.7 93.8 527.5 95.8M512.3 76.9L515.5 81.2 518 86 519.6 90.9 519.9 94.1 519.5 96.6M587.9 185L586 179.3 585 173.9 582.9 157.5 581.4 141.1 580.2 124.6 579.2 108.1 578.8 97 579 86 579.5 80.5 580.4 75.1 581.6 69.8 584.8 59.3M675.5 116.8L671.3 113.8 667.3 110.3 663.8 106.3 660.8 101.8 658.5 96.9 658 95.4 657.9 93.9 658.2 92.8 659 92 660 91.3M605.2 3L607.1 8.7 608.1 14.1 610.2 30.5 611.7 46.9 612.9 63.4 613.9 79.9 614.3 91 614.1 102 613.6 107.5 612.7 112.9 611.5 118.2 608.3 128.7M517.6 71.3L521.8 74.2 525.8 77.7 529.3 81.7 532.3 86.2 534.6 91.1 535.1 92.6 535.2 94.1 534.9 95.2 534.1 96 533.1 96.7M594.4 174.1L593.3 175.5 592.6 175.7 591.9 175 591.3 173.6 590 168.3 588.8 157.8 587.5 141.4 586.2 113.8 585.8 91.8 586.1 80.7 586.4 75.2 587.5 64.3M670.3 122.4L655.2 119.2 640.3 115.4 635.3 114.5 631.2 114.2 627.8 114.7M598.7 13.9L599.8 12.5 600.5 12.3 601.2 13 601.8 14.4 603.1 19.7 604.3 30.2 605.6 46.6 606.9 74.2 607.3 96.2 607 107.3 606.7 112.8 605.6 123.7M522.8 65.6L537.9 68.8 552.8 72.6 557.8 73.5 561.9 73.8 565.3 73.3 568.6 72 571.6 70.2M596.4 27.6L596.6 24.9 596.8 32.5 597 87.5 596.8 152.6 596.7 160.7 596.5 162.2 596.4 160.7M659.7 105.4L656.6 101 652.7 94.4 652.1 94.3 647.3 96.6M533.4 82.6L536.5 87 540.4 93.6 541 93.7 545.8 91.4M591.3 150.9L590 123.3 589.7 106.8 589.6 90.2 589.7 79.2 590.2 68.2 591 57.2 592.1 46.2M653.7 113.7L644.7 108.4 640.9 106.5 638.3 105.8M601.8 37.1L603.1 64.7 603.4 81.2 603.5 97.8 603.4 108.8 602.9 119.8 602.1 130.8 601 141.8M539.4 74.3L548.4 79.6 552.2 81.5 554.8 82.2M649.3 121.7L644.2 121.6 639.1 121.8 634.1 122.3 629.1 123.3 624.5 124.7 620.2 126.9 616 130 612.3 133.8M544.4 66.3L549.5 66.3 554.6 66.1 559.7 65.6 564.7 64.5 569.5 62.8 574 60.2 577.8 57.2M617.1 77.7L617.7 88.7 617.8 94.2 617.6 99.7M576 110.3L575.4 99.3 575.3 93.8 575.5 88.3" fill="none" stroke="#6a97ea" stroke-width="0.6" stroke-linejoin="round"/>
<path d="M515.7 178.5L517.3 180.5L515.4 181.1ZM518 167.9L519.6 169.9L517.8 170.5ZM521.9 162.6L523.6 164.6L521.7 165.2ZM526.1 157.2L527.7 159.2L525.8 159.8ZM530.3 151.8L532 153.8L530.1 154.4ZM534.7 146.3L536.3 148.4L534.5 148.9ZM539.3 140.8L540.9 142.9L539 143.4ZM545.5 140.6L547 142.7L545.1 143.2ZM551.6 140.4L553.1 142.6L551.1 143ZM549.2 102.7L550.8 104.8L548.9 105.3ZM563.6 140.1L565 142.4L563 142.7ZM569.5 140L570.8 142.3L568.8 142.6ZM574.5 134.5L575.7 136.8L573.7 137ZM632.6 105L634 102.8L635.1 104.4ZM666.7 99.6L668.4 101.5L666.5 102.2ZM674.7 100.8L676.3 102.8L674.4 103.4ZM660.3 39.2L658.6 37.2L660.5 36.6ZM664.6 39L662.9 37L664.8 36.4ZM668.6 31.1L666.9 29.1L668.8 28.5ZM673.3 29.5L671.6 27.5L673.4 26.8ZM674.1 17.7L672.4 15.7L674.3 15.1ZM677.4 9.5L675.8 7.5L677.7 6.9ZM653.8 47.2L652.2 45.1L654.1 44.6ZM646.4 42.1L644.8 39.9L646.8 39.5ZM641.5 47.6L640 45.4L642 45ZM635.5 47.8L634 45.6L636 45.2ZM629.5 47.9L628.1 45.6L630.1 45.3ZM623.6 48L622.3 45.7L624.3 45.4ZM618.6 53.5L617.4 51.2L619.4 51ZM527.8 71.9L525.2 71.6L526.2 69.9ZM521 79.2L518.7 77.9L520.3 76.7ZM518.4 87.2L516.8 85.2L518.7 84.6ZM580.1 123.2L581.2 125.6L579.3 125.7ZM663.1 105.2L665.3 106.6L663.6 107.7ZM613 64.8L611.9 62.4L613.8 62.3ZM530 82.8L527.8 81.4L529.5 80.3ZM586.6 123.5L587.7 125.9L585.7 126ZM649 117.7L651.6 117.3L651.1 119.3ZM606.5 64.5L605.4 62.1L607.4 62ZM544.1 70.3L541.5 70.7L542 68.7ZM597 88.8L596 86.4L598 86.4ZM655.9 99.9L658 101.5L656.3 102.5ZM537.2 88.1L535.1 86.5L536.8 85.5ZM589.6 100L590.6 102.4L588.6 102.4ZM648.1 110.4L650.7 110.8L649.6 112.5ZM603.5 88L602.5 85.6L604.5 85.6ZM545 77.6L542.4 77.2L543.5 75.5ZM632.8 122.6L635 121.1L635.3 123.1ZM561 65.3L558.8 66.8L558.4 64.8ZM617.5 84.5L616.4 82.1L618.4 82ZM575.6 103.5L576.7 105.9L574.7 106Z" fill="#6a97ea"/>
<path d="M540.4 94L543.4 100.8 546.1 108.5 548.8 117.4 551.4 127.5 553.8 138.7 556.3 151.5 558.8 166.1 562.4 188" fill="none" stroke="#f4561e" stroke-width="0.85"/>
<path d="M540.4 94L537.5 88.6 534.3 83.8 530.9 79.7 527.1 76 522.9 72.9 518.2 70 512.9 67.5 506.7 65.1" fill="none" stroke="#f4561e" stroke-width="0.85"/>
<path d="M540.4 94L533.3 96.9 525.4 99.8 516.6 102.7 506.7 105.8" fill="none" stroke="#c81e14" stroke-width="0.85"/>
<path d="M652.7 94L649.7 87.2 647 79.5 644.3 70.6 641.7 60.5 639.3 49.3 636.8 36.5 634.3 21.9 630.7 0" fill="none" stroke="#f4561e" stroke-width="0.85"/>
<path d="M652.7 94L655.6 99.4 658.8 104.2 662.2 108.3 666 112 670.2 115.1 674.9 118 680.2 120.5 686.4 122.9" fill="none" stroke="#f4561e" stroke-width="0.85"/>
<path d="M652.7 94L659.8 91.1 667.7 88.2 676.5 85.3 686.4 82.2" fill="none" stroke="#c81e14" stroke-width="0.85"/>
<path d="M540.4 94L547.4 90.8 553.6 87.6 559.2 84.2 564.1 80.6 568.6 76.8 572.6 72.8 576.3 68.3 579.7 63.4" fill="none" stroke="#ee1111" stroke-width="1.4" stroke-linecap="round"/>
<path d="M579.7 63.4L581.8 59.8 583.6 56.4 588.6 45.4 591.9 37.1 596.5 23.6" fill="none" stroke="#f4561e" stroke-width="0.85"/>
<path d="M562.5 81.9L559.2 86.9L556.7 83.2Z" fill="#ee1111"/>
<path d="M652.7 94L645.7 97.2 639.5 100.4 633.9 103.8 629 107.4 624.5 111.2 620.5 115.2 616.8 119.7 613.4 124.6" fill="none" stroke="#ee1111" stroke-width="1.4" stroke-linecap="round"/>
<path d="M613.4 124.6L610.1 130.4 607.2 136.6 605.4 139.9 603.6 143.6 600.8 150.1 596.6 160.5" fill="none" stroke="#f4561e" stroke-width="0.85"/>
<path d="M630.6 106.1L633.9 101.1L636.4 104.8Z" fill="#ee1111"/>
<path d="M512.3 103.8L521.7 101.3 529.7 98.7 536.3 96 542 93.1 544.8 91.4 547.1 89.7 549.5 87.8 551.4 86.1 553.3 84.1 555.2 81.9 557 79.4 558.9 76.5" fill="none" stroke="#111" stroke-width="0.5" stroke-dasharray="1.5 1"/>
<path d="M512.3 146.2L546.6 80.3" fill="none" stroke="#333" stroke-width="0.4"/>
<path d="M680.8 84.2L671.4 86.7 663.4 89.3 656.8 92 651.1 94.9 648.3 96.6 646 98.3 643.6 100.2 641.7 101.9 639.8 103.9 637.9 106.1 636.1 108.6 634.2 111.5" fill="none" stroke="#111" stroke-width="0.5" stroke-dasharray="1.5 1"/>
<path d="M680.8 41.8L646.5 107.7" fill="none" stroke="#333" stroke-width="0.4"/>
<path d="M596.6 23.3L596.8 23.1 597 23.5 597.3 26.6 598 40.8 598.4 63.9 598.5 94 598.4 117.7 598.1 137.7 597.4 153.4 597 158.4 596.6 160.7" fill="none" stroke="#f4561e" stroke-width="0.85"/>
<path d="M596.5 160.7L596.4 160.9 596.2 160.3 595.9 157.2 595.3 143.4 595 122.6 594.9 94 595 68.4 595.3 47.3 595.9 30.8 596.2 25.7 596.5 23.3" fill="none" stroke="#f4561e" stroke-width="0.85"/>
</g>
<rect x="512.3" y="3" width="168.5" height="182" fill="none" stroke="#333" stroke-width="0.4"/>
<text x="512.3" y="192.7" font-size="6.7" text-anchor="middle">−1.5</text>
<text x="540.4" y="192.7" font-size="6.7" text-anchor="middle">−1.0</text>
<text x="568.5" y="192.7" font-size="6.7" text-anchor="middle">−0.5</text>
<text x="596.5" y="192.7" font-size="6.7" text-anchor="middle">0.0</text>
<text x="624.6" y="192.7" font-size="6.7" text-anchor="middle">0.5</text>
<text x="652.7" y="192.7" font-size="6.7" text-anchor="middle">1.0</text>
<text x="680.8" y="192.7" font-size="6.7" text-anchor="middle">1.5</text>
<text x="510.1" y="187.5" font-size="6.7" text-anchor="end">−3</text>
<text x="510.1" y="157.2" font-size="6.7" text-anchor="end">−2</text>
<text x="510.1" y="126.8" font-size="6.7" text-anchor="end">−1</text>
<text x="510.1" y="96.5" font-size="6.7" text-anchor="end">0</text>
<text x="510.1" y="66.2" font-size="6.7" text-anchor="end">1</text>
<text x="510.1" y="35.8" font-size="6.7" text-anchor="end">2</text>
<text x="510.1" y="5.5" font-size="6.7" text-anchor="end">3</text>
<path d="M512.3 185v2.4M540.4 185v2.4M568.5 185v2.4M596.5 185v2.4M624.6 185v2.4M652.7 185v2.4M680.8 185v2.4M512.3 185h-2.4M512.3 154.7h-2.4M512.3 124.3h-2.4M512.3 94h-2.4M512.3 63.7h-2.4M512.3 33.3h-2.4M512.3 3h-2.4" stroke="#000" stroke-width="0.55" fill="none"/>
<rect x="595.4" y="92.9" width="2.2" height="2.2" fill="#000"/>
<text x="598.3" y="101.7" font-size="9.6" text-anchor="start">A</text>
<rect x="539.5" y="93.1" width="1.8" height="1.8" fill="#000"/>
<rect x="651.8" y="93.1" width="1.8" height="1.8" fill="#000"/>
<text x="542.1" y="102.2" font-size="9.6" font-style="italic" text-anchor="start">B<tspan dx="0.3" dy="3" font-size="8.16" font-style="normal">−</tspan></text>
<text x="654.4" y="102.2" font-size="9.6" font-style="italic" text-anchor="start">B<tspan dx="1.6" dy="2" font-size="6.912" font-style="normal">+</tspan></text>
</g>
<text x="596.5" y="204" font-size="11" font-style="italic" text-anchor="middle">ϕ</text>
<text transform="translate(495.5 94) rotate(-90)" font-size="11" font-style="italic" text-anchor="middle">z</text>
<g id="panel_d">
<clipPath id="clip_d"><rect x="34.2" y="245.3" width="168.4" height="181.5"/></clipPath>
<rect x="34.2" y="245.3" width="168.4" height="181.5" fill="#fff"/>
<g clip-path="url(#clip_d)">
<rect x="34.2" y="245.3" width="168.4" height="181.5" fill="#808080"/>
<clipPath id="disk_d"><ellipse cx="118.4" cy="336.1" rx="80.2" ry="86.6"/></clipPath>
<ellipse cx="118.4" cy="336.1" rx="80.2" ry="86.6" fill="#fff"/>
<path d="M32.9 428.6L204.3 428.6 204.3 243.5 32.5 243.5 32.5 428.6 32.9 428.6ZM112.5 416L108.6 415.6 104.8 415.1 101 414.3 97.2 413.4 93.4 412.2 89.7 410.9 85.9 409.3 82.4 407.7 79 405.9 75.5 403.8 72.1 401.5 69.1 399.3 66 396.7 63.1 394.1 60.4 391.4 57.6 388.4 55.2 385.4 52.9 382.2 50.6 378.9 48.6 375.6 46.8 372.2 45.1 368.5 43.5 364.8 42.2 361.1 41.1 357.4 40.1 353.3 39.4 349.6 38.8 345.5 38.4 341.4 38.2 337.7 38.2 333.6 38.4 329.9 38.9 325.8 39.4 322.1 40.3 318.1 41.2 314.3 42.3 310.6 43.7 306.9 45.2 303.2 46.8 299.9 48.7 296.4 50.8 293 52.9 289.9 55.3 286.5 57.8 283.6 60.5 280.6 63.2 277.9 66.2 275.1 69.3 272.6 72.4 270.3 75.9 268.1 79.2 266.1 82.7 264.3 86.2 262.6 89.7 261.2 93.4 259.9 97.2 258.7 101 257.8 104.8 257 108.7 256.5 112.7 256.1 116.5 255.9 120.6 255.9 124.4 256.1 128.2 256.5 132.3 257.1 136.1 257.9 139.9 258.8 143.7 260 147.5 261.3 150.9 262.8 154.7 264.6 158.2 266.4 161.3 268.3 164.7 270.6 167.8 272.9 170.8 275.4 173.7 278 176.4 280.7 179.2 283.7 181.6 286.7 183.9 289.9 186.2 293.2 188.2 296.5 190 299.9 191.7 303.6 193.3 307.3 194.6 311 195.7 314.7 196.7 318.8 197.4 322.5 198 326.6 198.4 330.7 198.6 334.4 198.6 338.5 198.4 342.2 197.9 346.3 197.4 350 196.5 354 195.6 357.8 194.5 361.5 193.1 365.2 191.6 368.9 190 372.2 188.1 375.7 186 379.1 183.9 382.2 181.6 385.4 179 388.5 176.4 391.4 173.7 394.1 170.8 396.7 167.8 399.2 164.7 401.5 161.3 403.8 158.2 405.7 154.7 407.5 150.9 409.3 147.4 410.8 143.7 412.1 139.9 413.3 136.1 414.2 132.3 415 128.2 415.6 124.3 416 120.3 416.2 116.5 416.2 112.5 416Z" fill="#d2d2d2" fill-rule="evenodd" clip-path="url(#disk_d)"/>
<path d="M116.5 406.7L120.6 406.7 124.4 406.6 128.2 406.2 132 405.7 135.8 405.1 139.6 404.2 143.4 403.2 147.1 402.1 150.6 400.8 154.2 399.3 157.5 397.8 161 396 164.2 394.1 167.5 392 170.6 389.8 173.3 387.6 176.1 385.2 178.7 382.6 181.2 380 183.4 377.4 185.7 374.4 187.8 371.5 189.6 368.5 191.3 365.5 192.7 362.6 194.2 359.2 195.4 355.9 196.4 352.6 197.2 349.2 197.9 345.5 198.3 341.8 198.5 338.8 198.6 335.1 198.4 331.6 198.1 328.4 197.6 325.1 196.9 321.8 196 318.3 195 315.1 193.6 311.5 192.2 308.4 190.5 305.1 188.7 302.1 186.8 299.1 184.6 296.2 182.3 293.3 179.8 290.6 177.2 288 174.4 285.4 171.6 283.1 168.5 280.8 165.4 278.8 162.3 276.9 158.8 275 155.4 273.3 152 271.8 148.5 270.5 144.7 269.3 140.9 268.2 137.2 267.3 133.4 266.6 129.6 266 125.8 265.6 121.7 265.4 117.5 265.4 113.8 265.5 109.9 265.7 105.8 266.2 102 266.8 98.3 267.6 94.5 268.6 90.7 269.7 87.1 270.9 83.5 272.4 80 274 76.6 275.7 73.5 277.5 70.3 279.5 67.1 281.7 64.2 284 61.4 286.3 58.7 288.9 55.9 291.7 53.7 294.3 51.3 297.3 49.3 300.2 47.4 303.2 45.6 306.4 44.1 309.5 42.6 312.9 41.4 316.2 40.4 319.5 39.6 322.9 38.9 326.6 38.5 330.3 38.3 333.3 38.2 337 38.4 340.5 38.7 343.7 39.2 347 40 350.7 40.8 354 41.9 357.4 43.3 360.7 44.8 364.1 46.3 367 48.3 370.4 50.3 373.3 52.5 376.3 54.9 379.2 57.3 381.9 60 384.5 62.8 387 65.6 389.3 68.7 391.5 71.8 393.6 75.2 395.6 78.6 397.5 82.1 399.1 85.5 400.5 89.3 401.9 93.1 403.1 96.9 404.2 100.7 405 104.5 405.7 108.6 406.2 112.4 406.6 116.5 406.7Z" fill="#c9f8b0" fill-rule="evenodd" clip-path="url(#disk_d)"/>
<path d="M192.8 364.4L194.4 357 195.1 353.3 195.4 349.6 195.3 348.4 195 348.2 189.3 360.3 185.7 366.8 183.7 369.9 177.2 378.8 172.4 384.3 167.4 389.6 162 394.4 156.4 398.9 147.5 405 141.3 408.5 134.9 411.6 128.3 414.1 124.9 415.1M186.6 295.1L188.2 298.4 191.1 305.3 193.4 312.5 195 319.8 196.1 327.3 196.5 334.8 196.2 342.4 195.4 345.7M44 307.7L42.4 315.1 41.7 318.8 41.4 322.5 41.5 323.7 41.8 323.9 47.5 311.8 51.1 305.3 53.1 302.2 59.6 293.3 64.4 287.8 69.4 282.5 74.8 277.7 80.4 273.2 89.3 267.1 95.5 263.6 101.9 260.5 108.5 258 111.9 257M50.2 377L48.6 373.7 45.7 366.8 43.4 359.6 41.8 352.3 40.7 344.8 40.3 337.3 40.6 329.7 41.4 326.4M109.4 415.2L106.1 414.2 102.9 412.7 99.8 410.8 97 408.6 94.3 406.1 91.9 403.4 89.6 400.6 87.5 397.6 83.7 391.2 82 387.9 79 381 77.7 377.5 75.5 370.3 73.1 359.3 72 351.8 71.3 344.3 71 336.8 71.2 329.2 72.3 317.9 73.6 310.5 74.4 306.8 76.4 299.6 77.6 296 80.4 289.1 82 285.7 85.7 279.3 87.8 276.3 92.4 270.6 95 268.1 100.6 263.5M116.6 415.2L114.6 412.2 113.4 408.9 112.3 405.3 110.8 397.9 109.6 390.5 108.3 379.2 107.4 367.9 106.9 356.6 106.5 341.5 106.5 326.3 106.9 315 107.7 299.9 108.8 288.6 110.3 277.4 111.7 270 113.7 262.8 115.2 259.4M121.6 258L122.7 259.8 124.2 263.2 126.4 270.4 127.9 277.8 129.6 289 130.8 300.2 131.8 315.3 132.2 326.7 132.2 341.8 131.8 356.9 131.1 368.2 130 379.5 128.5 390.7 127.1 398.1 125.2 405.4 124 409 122.4 412.3 120.2 415.2M188.8 308.6L190.7 315.8 191.5 319.5 192.6 327 192.9 330.7 193 338.3 192.8 342.1 191.9 349.6M127.4 256.9L130.7 257.9 133.9 259.4 137 261.3 139.8 263.5 142.5 266 144.9 268.7 147.2 271.5 149.3 274.5 153.1 280.9 154.8 284.2 157.8 291.1 159.1 294.6 161.3 301.8 163.7 312.8 164.8 320.3 165.5 327.8 165.8 335.3 165.6 342.9 164.5 354.2 163.2 361.6 162.4 365.3 160.4 372.5 159.2 376.1 156.4 383 154.8 386.4 151.1 392.8 149 395.8 144.4 401.5 141.8 404 136.2 408.6M48 363.5L46.1 356.3 45.3 352.6 44.2 345.1 43.9 341.4 43.8 333.8 44 330 44.9 322.5M95.1 411.4L92 409.6 89 407.6 86.2 405.4 80.9 400.5 76.2 394.9 74 391.9 70.1 385.6 66.8 379 65.3 375.5 62.7 368.5 61.6 364.9 59.8 357.6 59.1 353.9 58.1 346.4 57.7 338.9 57.6 335.1 58 327.5 58.4 323.8 59.6 316.3 60.4 312.7 62.4 305.4 65.1 298.5 66.7 295.1 70.4 288.6 74.6 282.6 77 279.8 82 274.6M105.9 411.4L103.3 408.8 101 405.9 99 402.8 97.2 399.6 94 392.9 91.4 385.8 89.2 378.6 86.8 367.6 85.2 356.4 84.3 345.1 84.1 333.8 84.6 322.4 85.8 311.2 87.8 300 90.7 289.1 93.2 282.1 96.4 275.3 100.2 269M113.9 415L112.1 413.8 109.4 411.4 107.3 408.4 105.5 405.1 102.5 398.3 101.3 394.8 99.2 387.6 96.8 376.5 95.1 365.3 94 354 93.4 338.9 93.7 323.8 94.5 312.5 95.9 301.3 97.9 290.1 99.8 282.8 100.9 279.3 103.5 272.2 105.1 268.9 106.9 265.6 109 262.6 111.4 259.9M116.6 411.4L115.2 400.1 114.2 385 113.4 362.4 113.2 339.7 113.3 317 113.9 294.3 115 275.4 116.1 264.2M120.2 260.5L120.8 264.2 121.6 271.7 122.8 290.5 123.6 313.2 123.8 335.9 123.6 358.6 122.8 381.3 121.6 400.1 120.8 407.6 120.2 411.4M129.2 261.2L131.4 264.1 133.4 267.2 136.7 273.9 139.3 280.9 142.3 291.8 144.5 302.9 146 314.1 146.8 325.4 147 333 147 340.5 146.5 351.9 145.4 363.1 143.5 374.3 140.9 385.3 138.6 392.4 135.7 399.3 134 402.6 132 405.7 129.8 408.7 127.4 411.4M164.3 401.1L161.2 402.9 154.9 406.2 148.3 409 141.7 411.4M190.1 338.5L189.5 346 189 349.7 187.4 357.1 186.2 360.7M146.1 261.3L152.4 264.5 155.4 266.4 161.1 270.8 163.8 273.3 168.7 278.7 170.9 281.6 175 287.7 176.9 291 180.2 297.6 181.6 301.1 184.1 308.1 186 315.4 187.4 322.8 188.1 330.3 188.3 334.1M72.5 271L75.6 269.2 81.9 265.9 88.5 263.1 95.1 260.7M46.7 333.6L47.3 326.1 47.8 322.4 49.4 315 50.6 311.4M84.4 407.6L78.5 403.6 75.7 401.3 70.5 396.2 68.1 393.4 63.8 387.5 61.8 384.4 58.2 377.8 55.2 371 53.9 367.5 51.7 360.3 50 353 49.4 349.3 48.7 341.8 48.5 338M109.4 407.5L108 404 105.7 396.9 103.9 389.6 102.5 382.2 101.4 374.7 100.2 363.5 99.6 355.9 99.1 344.6 99 333.2 99.2 325.7 99.7 314.4 100.3 306.8 101.7 295.6 102.9 288.1 104.4 280.7 106.4 273.5M185 319.6L185.9 327.1 186.4 334.7 186.2 342.2 185.3 349.7 183.9 357.1 181.7 364.3 178.8 371.2 175.2 377.6M172.1 277.5L174.5 280.1 179 286 182.9 292.2 186.3 298.9M142.4 262.5L145.3 264.6 148 267 150.6 269.5 155.3 275.1 159.5 281.2 161.3 284.4 164.7 291 167.5 298 168.7 301.5 170.7 308.8 171.5 312.4 172.8 319.9 173.3 323.6 173.9 331.2 173.9 338.7 173.8 342.5 173.1 350 172.6 353.7 171.1 361.1 170.2 364.8 167.9 371.9 165 378.8 163.3 382.1 159.5 388.5 155.1 394.4 150.1 399.7M51.8 352.5L50.9 345 50.4 337.4 50.6 329.9 51.5 322.4 52.9 315 55.1 307.8 58 300.9 61.6 294.5M64.7 394.6L62.3 392 57.8 386.1 53.9 379.9 50.5 373.2M134.8 277.5L136.8 284.8 138.4 292.1 139.7 299.6 140.7 307.1 141.4 314.6 142.1 325.9 142.3 337.2 142.1 344.8 141.5 356.1 140.8 363.6 139.8 371.1 138.6 378.6 137 385.9 135 393.2 132.5 400.2 130.9 403.6M139.2 268L143.2 274.3 146.4 280.9 149.2 287.9 152.3 298.7 154 306.1 155.6 317.3 156.3 324.8 156.7 336.1 156.3 347.4 155.6 355 153.9 366.2 152.2 373.5 150.1 380.7 148.8 384.2 145.9 391.1 142.4 397.6 140.3 400.7 138.1 403.6M162 275.8L166.5 281.6 168.5 284.7 172.1 291.2 173.7 294.5 176.6 301.4 177.8 305 179.8 312.2 180.6 315.9 181.9 323.3 182.5 330.9 182.7 334.6 182.5 342.2 182.2 346 181.1 353.4 180.3 357.1M85.5 401.2L80.9 395.4 78.9 392.3 75.2 385.9 72.1 379.1 70.7 375.7 68.3 368.5 66.5 361.3 65.7 357.6 64.6 350.1 64.2 346.3 63.8 338.8 63.8 331.2 64.4 323.7 64.9 320 66.2 312.5 68.1 305.2 69.2 301.7 71.9 294.7 75.2 288 77.1 284.9 81.4 278.8 86.2 273.4 91.5 268.5M60.2 370.7L57.9 363.5 56.2 356.2 54.9 348.8 54.3 341.2 54.2 333.7 54.6 326.1 55.7 318.7 56.5 315M179.2 353.8L177.5 361.2 176.5 364.8 173.8 371.8M173.8 304.8L174.8 308.4 176.5 315.7 177.1 319.4 178 326.9 178.4 334.5 178.4 338.3 177.9 345.8 177.5 349.6M95.2 401.7L91.4 395.3 88.3 388.5 85.7 381.5 83.6 374.3 81.9 367 80 355.8 79.3 348.3 78.8 336.9 79.2 325.6 79.8 318.1 81.6 306.9 83.2 299.5 85.4 292.3 88 285.3 91.2 278.6 95.1 272.3M73.6 395.9L71.3 393 67.1 387 63.5 380.5 60.4 373.7M130 272.4L132.8 283.4 134.1 290.8 135.2 298.3 136.6 313.3 137.1 320.9 137.4 332.2 137.3 343.6 137.1 351.1 136 366.2 135.2 373.7 134.1 381.2 132.7 388.6 130.9 395.9M141.7 276.2L144.6 283.1 146.9 290.2 148.8 297.5 150.3 304.9M92.4 376.5L90.4 365.3 89.5 357.8 88.8 350.3 88.5 342.8 88.4 335.2 88.7 323.9 89.3 316.3 90.2 308.8 92.1 297.7 94.8 286.7 97.3 279.6 98.7 276.2M116.6 392L116.1 365.6 115.9 335.3 116.1 305.1 116.7 278.6M120.1 278.6L120.7 305.1 120.9 335.3 120.7 365.6 120.2 392M149 306.6L150.4 317.8 151.2 329.1 151.2 340.5 150.6 351.8 149.4 363 147.3 374.2 144.3 385 141.7 392M169.9 315.8L171 323.3 171.6 334.6 171.5 342.2 171.2 345.9 170.4 353.4M162.4 282.6L166 289.1 167.6 292.4 170.4 299.4M66.4 348.9L65.8 341.4 65.7 333.8 66.1 326.3 66.4 322.5M170.8 375.5L167.3 382.1 165.3 385.2 163.2 388.2 158.5 393.8M168.4 357.7L166.8 365 165.8 368.6 163.3 375.7M158 286.2L160.9 293.1 163.3 300.2 165.3 307.4 167.3 318.5M78.8 385.9L75.9 379 73.5 371.9 71.5 364.7 69.5 353.6M129 361.7L128.4 373 127.4 384.3M155.6 295.5L158.4 306.5 160.2 317.6 161.2 328.9 161.3 340.3 160.6 351.6 158.9 362.8 157.2 370.1 156.2 373.7 153.8 380.9 152.4 384.3M163.3 323.1L163.7 330.7 163.8 338.2 163.2 349.6M127.4 287.8L128.3 299.1 129 310.4M73.5 349L73.1 341.4 73 333.9 73.6 322.5M75.8 314.5L77.2 307.1 79 299.8 81.4 292.7 82.8 289.2M78.9 364.6L77.7 357.2 76.5 345.9M109.4 368.9L108.8 353.8 108.6 338.6 108.8 319.7 109.4 304.6M148.9 323.1L149.2 330.7 149.3 338.2 148.9 349.6M102.3 365L101.4 349.9 101.1 334.8 101.5 319.7 102.2 308.4M91 356.2L90.3 344.9 90.1 333.6 90.5 322.2 91.5 310.9M134.6 312L135.2 323.4 135.4 338.5 135.1 349.8 134.5 361.2M127.4 315.7L127.7 338.4 127.4 357.3" fill="none" stroke="#6a97ea" stroke-width="0.6" stroke-linejoin="round"/>
<path d="M174 382.6L174.8 380.1L176.3 381.4ZM194.5 317.4L193.1 315.3L195 314.9ZM62.8 289.5L62 292L60.5 290.7ZM42.3 354.7L43.7 356.8L41.8 357.2ZM71.2 343L72.3 345.4L70.4 345.5ZM106.5 336.4L107.4 338.8L105.5 338.8ZM132.2 335.5L131.3 333.1L133.2 333.1ZM192.7 328.3L191.5 326L193.5 325.8ZM165.6 329.1L164.5 326.7L166.4 326.6ZM44.1 343.8L45.3 346.1L43.3 346.3ZM58 345.1L59.2 347.4L57.2 347.6ZM84.1 340L85.1 342.4L83.2 342.4ZM93.4 337.6L94.4 340L92.4 340ZM113.2 338.4L114.2 340.8L112.2 340.8ZM123.8 337.2L122.8 334.8L124.8 334.8ZM147 334.3L146 331.9L148 331.9ZM153.7 406.7L155.5 404.8L156.3 406.6ZM189.3 347.3L188.7 344.8L190.6 345ZM177.5 292.1L175.5 290.4L177.2 289.5ZM83.1 265.4L81.3 267.3L80.5 265.5ZM47.5 324.8L48.1 327.3L46.2 327.1ZM57.7 376.7L59.6 378.4L57.8 379.3ZM99 339.5L100 341.9L98.1 341.9ZM185.7 347.3L185 344.8L187 345ZM179.7 287.1L177.6 285.6L179.2 284.5ZM173.7 328.7L172.6 326.3L174.6 326.2ZM51.1 324.8L51.8 327.3L49.8 327.1ZM57.1 385L59.2 386.5L57.6 387.6ZM142.3 338.6L141.3 336.1L143.3 336.1ZM156.7 333.7L155.7 331.2L157.6 331.2ZM180.1 313.5L178.6 311.4L180.6 310.9ZM63.8 333.7L64.7 336.1L62.7 336.1ZM54.4 343.7L55.6 346L53.6 346.2ZM177.1 362.4L176.9 359.8L178.8 360.4ZM178.1 328.3L176.9 325.9L178.9 325.8ZM78.9 339.4L79.9 341.8L77.9 341.8ZM66.5 385.8L68.6 387.4L66.9 388.4ZM137.4 333.5L136.4 331.1L138.4 331.1ZM147.3 291.5L145.7 289.4L147.6 288.9ZM88.6 326.3L89.5 328.8L87.5 328.7ZM115.9 337.8L116.9 340.2L114.9 340.2ZM120.9 336.7L119.9 334.2L121.9 334.2ZM150.8 349.3L150 346.8L152 347ZM171.6 335.9L170.6 333.5L172.6 333.5ZM166.5 290.3L164.6 288.5L166.4 287.6ZM65.7 336.3L66.7 338.7L64.7 338.7ZM166.6 383.2L167.1 380.6L168.7 381.7ZM166.4 366.3L166.1 363.7L168 364.2ZM163.7 301.4L162.1 299.4L164 298.8ZM73.1 370.7L74.7 372.7L72.8 373.3ZM128.5 370.6L127.7 368.1L129.7 368.2ZM161.4 337.8L160.4 335.4L162.4 335.4ZM163.8 335.8L162.8 333.4L164.8 333.4ZM128.4 300.4L127.3 298L129.3 297.9ZM73 336.3L74 338.7L72 338.7ZM78.4 302.1L78.7 304.7L76.8 304.2ZM77.5 355.9L78.8 358.1L76.8 358.4ZM108.6 337.3L109.6 339.7L107.6 339.7ZM149.3 335.8L148.3 333.4L150.3 333.4ZM101.1 337.3L102.1 339.7L100.1 339.7ZM90.1 336L91.1 338.5L89.1 338.5ZM135.4 336L134.4 333.6L136.4 333.6ZM127.7 335.9L126.7 333.5L128.7 333.5Z" fill="#6a97ea"/>
<path d="M38.2 336L39.3 331.8 40.6 327.6 42.1 323.4 43.7 319.3 45.6 315.2 47.7 311.1 49.9 307.1 52.4 303.2 54.9 299.4 57.7 295.6 60.7 291.9 63.7 288.4 66.9 285 70.3 281.7 73.7 278.6 77.3 275.5" fill="none" stroke="#ee1111" stroke-width="1.4" stroke-linecap="round"/>
<path d="M77.3 275.5L82.5 271.6 87.8 268 93.3 264.7 98.8 261.9 104.5 259.4 109.9 257.5 114.6 256.3 116.6 256 118.4 255.9" fill="none" stroke="#f4561e" stroke-width="0.85"/>
<path d="M53.3 301.7L52.2 307.6L48.4 305.2Z" fill="#ee1111"/>
<path d="M198.6 336.1L197.5 340.3 196.2 344.5 194.7 348.7 193.1 352.8 191.2 356.9 189.1 361 186.9 365 184.4 368.9 181.9 372.7 179.1 376.5 176.1 380.2 173.1 383.7 169.9 387.1 166.5 390.4 163.1 393.5 159.5 396.6" fill="none" stroke="#ee1111" stroke-width="1.4" stroke-linecap="round"/>
<path d="M159.5 396.6L154.3 400.5 149 404.1 143.5 407.4 138 410.2 132.3 412.7 126.9 414.6 122.2 415.8 120.2 416.1 118.4 416.2" fill="none" stroke="#f4561e" stroke-width="0.85"/>
<path d="M183.5 370.4L184.6 364.5L188.4 366.9Z" fill="#ee1111"/>
<path d="M38.2 336L39.3 331.8 40.5 327.6 42 323.1 43.5 319.4 47 311.5 51 303.9 55.6 296.6 58.8 292 61.2 288.9 66.4 282.7 72 276.8" fill="none" stroke="#111" stroke-width="0.45" stroke-dasharray="1.3 1.1"/>
<path d="M198.6 336.1L197.5 340.3 196.3 344.5 194.8 349 193.3 352.7 189.8 360.6 185.8 368.2 181.2 375.5 178 380.1 175.6 383.2 170.4 389.4 164.8 395.3" fill="none" stroke="#111" stroke-width="0.45" stroke-dasharray="1.3 1.1"/>
<path d="M118.4 255.9L118.8 256 119.3 256.2 120.1 257.3 120.9 259.1 121.7 261.7 122.5 265 123.3 269.1 124.6 279.1 125.7 291.3 126.5 305.2 127 320.4 127.2 336.1 127 351.7 126.5 366.6 125.7 380.3 124.6 392.5 123.3 402.4 122.6 406.4 121.8 409.8 121 412.5 120.1 414.5 119.2 415.8 118.8 416.1 118.4 416.2" fill="none" stroke="#f4561e" stroke-width="0.85"/>
<path d="M127.2 337.6L126 334.8L128.3 334.8Z" fill="#f4561e"/>
<path d="M118.4 416.2L118 416.1 117.5 415.9 116.7 414.8 115.9 413 115.1 410.4 114.3 407.1 113.5 403 112.2 393 111.1 380.8 110.3 366.9 109.8 351.7 109.6 336.1 109.8 320.4 110.3 305.5 111.1 291.8 112.2 279.6 113.5 269.7 114.2 265.7 115 262.3 115.8 259.6 116.7 257.6 117.6 256.3 118 256 118.4 255.9" fill="none" stroke="#f4561e" stroke-width="0.85"/>
<path d="M109.6 334.5L110.8 337.4L108.5 337.4Z" fill="#f4561e"/>
</g>
<rect x="34.2" y="245.3" width="168.4" height="181.5" fill="none" stroke="#333" stroke-width="0.4"/>
<text x="38.2" y="434.5" font-size="6.7" text-anchor="middle">−1.0</text>
<text x="78.3" y="434.5" font-size="6.7" text-anchor="middle">−0.5</text>
<text x="118.4" y="434.5" font-size="6.7" text-anchor="middle">0.0</text>
<text x="158.5" y="434.5" font-size="6.7" text-anchor="middle">0.5</text>
<text x="198.6" y="434.5" font-size="6.7" text-anchor="middle">1.0</text>
<text x="32" y="425.1" font-size="6.7" text-anchor="end">−1.00</text>
<text x="32" y="403.5" font-size="6.7" text-anchor="end">−0.75</text>
<text x="32" y="381.8" font-size="6.7" text-anchor="end">−0.50</text>
<text x="32" y="360.2" font-size="6.7" text-anchor="end">−0.25</text>
<text x="32" y="338.6" font-size="6.7" text-anchor="end">0.00</text>
<text x="32" y="316.9" font-size="6.7" text-anchor="end">0.25</text>
<text x="32" y="295.3" font-size="6.7" text-anchor="end">0.50</text>
<text x="32" y="273.6" font-size="6.7" text-anchor="end">0.75</text>
<text x="32" y="252" font-size="6.7" text-anchor="end">1.00</text>
<path d="M38.2 426.8v2.4M78.3 426.8v2.4M118.4 426.8v2.4M158.5 426.8v2.4M198.6 426.8v2.4M34.2 422.6h-2.4M34.2 401h-2.4M34.2 379.3h-2.4M34.2 357.7h-2.4M34.2 336.1h-2.4M34.2 314.4h-2.4M34.2 292.8h-2.4M34.2 271.1h-2.4M34.2 249.5h-2.4" stroke="#000" stroke-width="0.55" fill="none"/>
<rect x="117.5" y="335.2" width="1.8" height="1.8" fill="#000"/>
<text x="120" y="344.2" font-size="9.6" text-anchor="start">A</text>
<rect x="37.3" y="335.2" width="1.8" height="1.8" fill="#000"/>
<rect x="197.7" y="335.2" width="1.8" height="1.8" fill="#000"/>
<text x="39.6" y="344.4" font-size="9.6" font-style="italic" text-anchor="start">C<tspan dx="0.3" dy="3" font-size="8.16" font-style="normal">−</tspan></text>
<text x="200.2" y="344.4" font-size="9.6" font-style="italic" text-anchor="start">C<tspan dx="1.5" dy="2" font-size="6.912" font-style="normal">+</tspan></text>
</g>
<text x="118.4" y="445.8" font-size="11" font-style="italic" text-anchor="middle">ϕ<tspan font-size="7" dy="2">p</tspan></text>
<text transform="translate(8 336.1) rotate(-90)" font-size="11" font-style="italic" text-anchor="middle">z<tspan font-size="7" dy="2">p</tspan></text>
<g id="panel_e">
<clipPath id="clip_e"><rect x="274.8" y="245.3" width="168.8" height="181.5"/></clipPath>
<rect x="274.8" y="245.3" width="168.8" height="181.5" fill="#fff"/>
<g clip-path="url(#clip_e)">
<rect x="274.8" y="245.3" width="168.8" height="181.5" fill="#808080"/>
<clipPath id="disk_e"><ellipse cx="359.2" cy="336.1" rx="80.4" ry="86.6"/></clipPath>
<ellipse cx="359.2" cy="336.1" rx="80.4" ry="86.6" fill="#fff"/>
<path d="M273.5 428.6L445.3 428.6 445.3 243.5 273.1 243.5 273.1 428.6 273.5 428.6ZM352.9 416L349 415.6 344.9 415 341.1 414.3 337.3 413.3 333.5 412.2 329.7 410.8 326.2 409.3 322.5 407.6 319 405.7 315.6 403.6 312.1 401.3 309 399 305.9 396.4 303.1 393.9 300.4 391.1 297.7 388.2 295.2 385.1 292.9 381.9 290.7 378.5 288.7 375.2 286.9 371.8 285.2 368.1 283.7 364.4 282.4 360.7 281.3 357 280.3 352.9 279.7 349.2 279.1 345.1 278.8 341.4 278.6 337.3 278.7 333.6 278.9 329.6 279.3 325.8 280 321.8 280.8 317.7 281.8 314 283 310.3 284.4 306.6 285.9 303.1 287.6 299.5 289.5 296.2 291.5 292.8 293.8 289.5 296.2 286.3 298.6 283.4 301.4 280.4 304.3 277.6 307.3 275 310.4 272.5 313.5 270.2 316.9 268 320.4 266 323.8 264.2 327.6 262.4 331.4 260.9 334.9 259.7 338.7 258.6 342.5 257.7 346.3 257 350.4 256.4 354.2 256.1 358.3 255.9 362.5 255.9 366.3 256.2 370.4 256.6 374.2 257.2 378 258 381.8 259 385.6 260.2 389 261.4 392.8 263 396.3 264.7 399.7 266.6 403.2 268.7 406.3 270.8 409.5 273.2 412.5 275.7 415.4 278.4 418.3 281.3 421 284.3 423.4 287.3 425.6 290.3 427.7 293.6 429.8 297 431.5 300.3 433.2 304 434.7 307.7 436 311.4 437.1 315.1 438.1 319.2 438.7 322.9 439.3 327 439.6 330.7 439.8 334.8 439.7 338.5 439.5 342.5 439.1 346.3 438.4 350.3 437.6 354.4 436.6 358.1 435.4 361.8 434 365.5 432.5 369 430.8 372.6 428.9 375.9 426.9 379.3 424.6 382.6 422.2 385.8 419.8 388.7 417 391.7 414.1 394.5 411.2 397.1 408 399.6 404.9 401.9 401.5 404.1 398.3 406 394.7 407.8 391.1 409.5 387.7 410.9 383.9 412.3 380.1 413.4 376.3 414.3 372.5 415.1 368.7 415.6 364.8 416 360.8 416.2 357 416.2 352.9 416Z" fill="#d2d2d2" fill-rule="evenodd" clip-path="url(#disk_e)"/>
<path d="M353.2 416L353.8 416 353.2 416ZM364.2 416L364.8 416 364.2 416ZM349.4 415.7L349.1 415.6 349.4 415.7ZM368.3 415.7L368.6 415.6 368.3 415.7ZM346.6 415.3L346.4 415.3 346.6 415.3ZM371.1 415.3L371.3 415.3 371.1 415.3ZM344.5 414.9L344.2 414.9 344.5 414.9ZM342.5 414.5L342.3 414.5 342.5 414.5ZM375.2 414.5L375.2 414.5ZM340.7 414.2L340.9 414.1 340.7 414.2ZM377 414.2L377 414.1 377 414.2ZM339.4 413.8L339.1 413.8 339.4 413.8ZM338 413.4L337.9 413.4 338 413.4ZM336.6 413.1L336.4 413 336.6 413.1ZM335.2 412.7L335.1 412.7 335.2 412.7ZM334.2 412.3L334.1 412.3 334.2 412.3ZM331.8 411.6L331.8 411.6ZM385.9 411.6L385.9 411.6ZM330.7 411.2L330.7 411.2ZM387 411.2L387 411.2ZM329 410.5L328.9 410.4 329 410.5ZM328 410.1L327.9 410.1 328 410.1ZM326.2 409.4L326.2 409.3 326.2 409.4ZM323.8 408.2L323.8 408.2 323.8 408.2ZM323.1 407.9L323.1 407.8 323 407.8 323.1 407.9ZM322.5 407.5L322.5 407.5ZM319 405.6L319 405.6ZM318.3 405.3L318.3 405.2 318.2 405.2 318.3 405.3ZM317.6 404.9L317.5 404.9 317.6 404.9ZM316.9 404.5L316.9 404.5ZM315.9 403.8L315.9 403.8ZM315.2 403.4L315.2 403.4ZM314.2 402.7L314.2 402.7ZM313.5 402.3L313.5 402.3ZM312.4 401.6L312.4 401.6ZM311.4 400.8L311.4 400.8ZM310.4 400.1L310.4 400.1ZM310 399.7L310 399.7ZM309 399L308.9 398.9 309 399ZM307.6 397.9L307.5 397.8 307.6 397.9ZM306.2 396.7L306.2 396.7ZM305.9 396.4L305.9 396.3 305.8 396.3 305.9 396.4ZM304.2 394.9L304.2 394.9ZM303.8 394.5L303.8 394.4 303.8 394.5ZM303.5 394.2L303.5 394.2ZM296.6 386.8L296.6 386.7 296.6 386.8ZM296.2 386.4L296.2 386.4ZM294.5 384.1L294.5 384.1 294.5 384.1ZM293.5 382.6L293.5 382.6ZM293.1 382.2L293.1 382.2ZM292.4 381.2L292.4 381.2ZM291.4 379.7L291.4 379.7ZM290.7 378.6L290.7 378.5 290.7 378.6ZM290 377.5L290 377.4 290 377.5ZM289.3 376.3L289.3 376.3ZM288.3 374.5L288.3 374.5ZM287.9 373.7L287.9 373.7ZM286.6 371.1L286.6 371.1ZM286.2 370.4L286.2 370.4ZM285.9 369.6L285.9 369.6ZM285.5 368.9L285.5 368.9ZM284.2 365.6L284.2 365.5 284.2 365.6ZM283.5 363.8L283.5 363.7 283.5 363.8ZM282.4 360.8L282.4 360.8ZM282.1 359.7L282.1 359.6 282.1 359.7ZM281.7 358.5L281.7 358.5ZM281 356L281 355.9 281 356ZM280.7 354.4L280.7 354.4ZM280.4 353L280.4 352.9 280.4 353ZM279.7 349.3L279.7 349.3ZM279.3 347L279.3 347ZM439.1 325.1L439.1 325.1ZM438.7 322.9L438.7 322.9ZM438 319.2L438 319.1 438 319.2ZM437.7 317.7L437.7 317.7ZM437.4 316.2L437.4 316.1 437.4 316.2ZM436.7 313.6L436.7 313.6ZM436.3 312.5L436.3 312.4 436.3 312.5ZM436 311.4L436 311.4ZM434.9 308.4L434.9 308.3 434.9 308.4ZM434.2 306.6L434.2 306.5 434.2 306.6ZM432.9 303.2L432.9 303.2ZM432.5 302.5L432.5 302.5ZM432.2 301.7L432.2 301.7ZM431.8 301L431.8 301ZM430.5 298.4L430.5 298.4ZM430.1 297.7L430.1 297.7ZM429.1 295.8L429.1 295.8ZM428.4 294.7L428.4 294.6 428.4 294.7ZM427.7 293.6L427.7 293.5 427.7 293.6ZM427 292.5L427 292.5ZM426 291L426 291ZM425.3 289.9L425.3 289.9ZM424.9 289.5L424.9 289.5ZM423.9 288L423.9 288 423.9 288ZM422.2 285.8L422.2 285.8ZM421.8 285.4L421.8 285.3 421.8 285.4ZM414.9 278L414.9 278ZM414.6 277.7L414.6 277.6 414.6 277.7ZM414.2 277.3L414.2 277.3ZM412.5 275.8L412.6 275.8 412.5 275.7 412.5 275.8ZM412.2 275.4L412.2 275.4ZM410.8 274.3L410.8 274.2 410.8 274.3ZM409.4 273.2L409.4 273.1 409.4 273.2ZM408.4 272.4L408.4 272.4ZM408 272.1L408 272.1ZM407 271.3L407 271.3ZM406 270.6L406 270.6ZM404.9 269.8L404.9 269.8ZM404.2 269.5L404.2 269.5ZM403.2 268.7L403.2 268.7ZM402.5 268.4L402.5 268.4ZM401.5 267.6L401.5 267.6ZM400.8 267.3L400.9 267.2 400.8 267.3ZM400.1 266.9L400.2 266.9 400.1 266.8 400.1 266.9ZM399.4 266.5L399.4 266.5ZM395.9 264.6L395.9 264.6ZM395.3 264.3L395.4 264.3 395.3 264.2 395.3 264.3ZM394.6 263.9L394.6 263.9 394.6 263.9ZM392.2 262.8L392.2 262.8 392.2 262.8ZM390.4 262.1L390.5 262 390.4 262.1ZM389.4 261.7L389.5 261.7 389.4 261.7ZM331.4 260.9L331.4 260.9ZM387.7 260.9L387.7 260.9ZM332.5 260.6L332.5 260.6ZM386.6 260.6L386.6 260.6ZM384.2 259.8L384.3 259.8 384.2 259.8ZM383.2 259.5L383.3 259.4 383.2 259.5ZM381.8 259.1L382 259.1 381.8 259.1ZM380.4 258.7L380.5 258.7 380.4 258.7ZM379 258.3L379.3 258.3 379 258.3ZM341.4 258L341.4 258 341.4 258ZM377.7 258L377.5 258 377.7 258ZM343.2 257.6L343.2 257.6ZM375.9 257.6L376.1 257.6 375.9 257.6ZM373.9 257.2L374.2 257.2 373.9 257.2ZM347.3 256.9L347.1 256.8 347.3 256.9ZM371.8 256.9L372 256.8 371.8 256.9ZM350.1 256.5L349.8 256.5 350.1 256.5ZM369 256.5L369.3 256.5 369 256.5ZM353.9 256.1L354.3 256.1 353.9 256.1ZM364.9 256.1L365.5 256.1 364.9 256.1Z" fill="#ffff00" fill-rule="evenodd" clip-path="url(#disk_e)"/>
<path d="M353.5 406.7L361.1 406.8 368.7 406.3 372.5 405.8 376.3 405.1 380.1 404.3 383.9 403.3 387.7 402.1 391.1 400.8 394.6 399.4 398 397.8 401.5 396 404.6 394.3 407.7 392.3 410.8 390.1 413.7 387.8 416.3 385.6 419.1 383 421.6 380.4 423.9 377.8 426.3 374.8 428.4 371.9 430.1 369.2 431.8 366.2 433.5 362.9 434.9 359.7 436.1 356.6 437.2 353.3 438.1 350 438.8 346.6 439.3 343.3 439.6 339.6 439.8 336.2 439.7 332.9 439.4 328.8 439 325.8 438.4 322.5 436.8 316.6 435.7 313.2 434.5 310.3 432.9 306.9 431.3 304 429.5 301 427.5 298 425.3 295.1 423.1 292.5 420.7 289.9 418.1 287.3 415.3 284.8 412.5 282.6 409.4 280.3 406.5 278.4 403.4 276.5 400.1 274.7 396.8 273.2 393.4 271.7 389.7 270.3 386.3 269.2 379 267.3 375.2 266.5 371.4 266 367.7 265.6 363.5 265.3 359.4 265.2 355.2 265.3 351.1 265.6 347.1 266.1 343.2 266.8 339.2 267.6 335.2 268.6 331.4 269.8 327.6 271.1 323.8 272.7 320.4 274.3 316.8 276.1 313.5 278.1 310.1 280.2 306.9 282.5 303.8 285 301.1 287.4 298.3 290.1 295.8 292.8 293.3 295.8 291 298.8 289 301.7 287.2 304.7 285.5 308 283.9 311.4 282.6 314.7 281.4 318.2 280.4 321.8 279.7 325.2 279.1 328.8 278.8 332.5 278.6 335.9 278.7 339.2 279 343.3 279.5 347 280.1 350.3 281 353.7 282 357 283.3 360.4 284.8 363.7 286.5 367 288.3 370.2 290.4 373.3 292.5 376.3 294.8 379.1 297.3 381.9 300 384.5 302.8 387.1 305.9 389.5 309 391.8 312.1 393.8 315.6 395.9 319 397.7 322.5 399.3 326.2 400.9 330 402.3 333.8 403.4 337.6 404.4 341.4 405.3 345.6 405.9 349.4 406.4 353.5 406.7Z" fill="#c9f8b0" fill-rule="evenodd" clip-path="url(#disk_e)"/>
<path d="M340.4 356.3L349.7 356.5 359 356.5 368.3 356.1 377.8 355.5 386.6 354.7 395.3 353.6 403.5 352.2 411.1 350.6 417.8 348.8 423.6 347 429 344.8 433.2 342.5 436.3 340.3 437.4 339.2 438.6 337.7 439.2 336.6 439.5 335.5 439.6 334.4 439.4 332.9 439 331.8 438 330.3 436.7 329 435 327.7 432.9 326.4 430.4 325.1 427.8 324 424.7 322.9 417.7 320.9 409.4 319.1 400.4 317.7 390.1 316.6 379.4 315.9 368.7 315.6 357.6 315.7 346.6 316.1 336.3 317 325.9 318.1 316.2 319.7 307.3 321.5 299.4 323.6 292.9 325.8 290 327 287.1 328.4 285.2 329.6 283 331 281.7 332.2 280.3 333.6 279.4 335.1 278.9 336.6 278.8 338.1 279.1 339.6 279.9 341.1 280.8 342.2 282.4 343.7 283.9 344.8 286.2 346.1 288.8 347.4 291.6 348.5 294.8 349.6 301.8 351.5 310.4 353.3 319.7 354.6 329.7 355.6 340.4 356.3Z" fill="#80fa62" fill-rule="evenodd" clip-path="url(#disk_e)"/>
<path d="M436.1 358.2L437.5 350.5 438.3 342.6 438.2 341.4 437.6 341.9 436.2 346.5M416.3 280.2L421 286.3 425.1 292.9 428.5 299.8 431.3 307.1 433.5 314.6 435 322.4 435.9 330.2 436.1 338.1M282.3 313.9L280.9 321.6 280.1 329.5 280.2 330.7 280.8 330.2 282.2 325.6M302.1 391.9L297.4 385.8 293.3 379.2 289.9 372.3 287.1 365 284.9 357.5 283.4 349.7 282.5 341.9 282.3 334M349.8 414.7L346.5 413.1 343.4 411 340.5 408.5 337.9 405.8 335.6 402.8 331.4 396.3 329.6 392.8 326.4 385.7 325.1 382 322.7 374.6 320.9 366.9 319.4 359.2 318.1 347.5 317.7 339.6 317.8 331.7 318.2 323.8 319 316 321.1 304.4 323.1 296.8 324.3 293 327.2 285.8 328.8 282.2 332.7 275.5 334.9 272.4 337.2 269.4 339.8 266.6 342.6 264 345.6 261.7 348.7 259.7 352 258 355.5 256.8M353.6 414.7L350.6 412.4 348.1 409.5 346 406.3 344.2 402.9 342.6 399.3 339.9 392 338.8 388.2 336.9 380.6 334.8 369 333.4 357.3 332.6 345.4 332.5 333.6 332.9 321.8 333.9 310 335.6 298.3 338.2 286.8 340.5 279.3 343.4 272.1 345.1 268.6 347.2 265.3M357.3 414.7L355.7 411.2 354.6 407.4 353.1 399.7 352 391.9 350.8 380.1 350 368.3 349.5 356.5 349.2 344.7 349.2 328.9 349.5 317.1 350 305.2 350.7 293.4 351.9 281.7 352.9 273.9 354.4 266.1 355.4 262.3M362.3 259.1L363.7 262.7 365.6 270.3 366.9 278.1 368.3 289.8 369.3 301.6 369.9 313.4 370.3 325.2 370.4 341 370.1 352.9 369.7 364.7 368.9 376.5 367.7 388.3 366.6 396.1 365.1 403.8 364.1 407.6 362.9 411.3 361.1 414.7M366.5 257.1L369.2 258.2 372.4 260.1 375.2 262.6 377.8 265.4 380.1 268.4 384.1 275 385.9 278.5 388.9 285.7 390.2 289.4 392.4 296.9 394.9 308.4 396.4 320.1 397 328 397.2 335.9 397 343.8 396.4 351.6 394.9 363.4 392.3 374.9 390 382.4 388.7 386 385.5 393.1 383.6 396.5 381.6 399.8 379.3 402.9 376.8 405.8 374.1 408.5 371.2 410.9 368.1 413 364.8 414.7M430.6 369.9L432.3 362.3 432.7 358.4 432.3 357.9 431.8 358.2 424.6 369.7 420.1 375.9 415.3 381.9 412.7 384.7 407.4 390.1 401.8 395.2 398.8 397.5 392.8 402 386.4 406 383.2 407.8 376.5 411.1M432 318.8L433.1 326.6 433.5 330.5 433.6 338.4 433 346.3 432.3 350.2 431.5 354 430.3 357.7M306 277.1L309 274.9 312.2 273 318.9 269.6 325.6 266.4 332.4 263.5 339.3 260.7 346.3 258.4 349.8 257.4M287.8 302.2L286.1 309.8 285.7 313.7 286.1 314.2 286.6 313.9 288.2 311.7 291.7 305.7 296 299.3 300.7 293.2 305.7 287.4 311 282 316.6 276.9 322.6 272.3 328.8 268.1M286.4 353.3L285.3 345.5 284.9 341.6 284.8 333.7 285.4 325.8 286.1 321.9 286.9 318.1 288.1 314.4M334.5 412.1L331.1 410.7 327.7 409 324.5 407.1 321.5 405 315.7 400.1 310.5 394.5 305.9 388.4 301.9 381.8 298.4 374.8 295.5 367.6 293.3 360.1 291.6 352.4 291 348.5 290.3 340.6 290.3 332.7 290.9 324.9 292.3 317.1 294.4 309.6 297.4 302.4M338.6 410.7L335.5 408.5 332.7 406 330 403.2 325.2 397.3 321.1 390.8 319.3 387.4 316 380.3 313.3 372.9 312.2 369.2 310.3 361.6 309.6 357.7 308.4 349.9 308.1 346 307.7 338.1 307.8 330.2 308.1 326.3 308.9 318.5 309.6 314.6 311.3 306.9 312.4 303.1 314.9 295.7 318.1 288.6 320 285.2 324.2 278.8 329.1 272.9 334.6 267.7M403.9 401.6L400.6 403.4 393.9 406.6 383.6 410.7M394.3 264.8L397.4 266.8 400.4 269.1 403.3 271.6 406 274.2 411 280 413.3 283.1 417.5 289.6 421 296.5 424 303.7 426.4 311.1 428.1 318.8 429.3 326.6 429.6 330.5 429.7 338.4 429.5 342.3 428.6 350.2 427.8 354M376.8 258.5L380.3 259.8 383.6 261.4 386.8 263.4 389.8 265.6 392.7 268.1 395.4 270.7 397.9 273.5 402.6 279.6 406.7 286.2 408.5 289.6 411.7 296.7 413.1 300.4 415.4 307.8 416.4 311.6 417.9 319.4 418.8 327.2 419.1 331.1 419.1 339 419 343 418.1 350.8 417.5 354.7 415.8 362.3 413.3 369.8 411.9 373.4 408.5 380.4 404.3 386.9 402 390 397 395.7M368.6 261.4L370.7 264.6 372.5 268.1 374.1 271.6 376.6 279 378.7 286.6 380.3 294.3 382.1 306 383.2 317.8 383.8 329.6 383.8 341.4 383.3 353.2 382.2 365 381.1 372.8 379.7 380.5 377.9 388.2 375.5 395.7 372.5 402.9M361.1 261.4L362.4 273.2 363.4 288.9 364 308.6 364.3 332.3 364.2 356 363.7 375.7 362.6 395.4 361.5 407.2M298.2 380L296.4 376.6 293.3 369.4 292 365.8 289.8 358.2M349.8 406.6L347.2 399.3 345.1 391.7 343.6 384 342.3 376.2 341.4 368.4 340.4 356.6 339.9 344.8 339.8 332.9 340.1 321.1 340.9 309.3 342.1 297.6 343.3 289.8 344.9 282.1 346.9 274.5 349.5 267.1 351.2 263.6M357.3 406.6L356.5 394.8 355.7 375.1 355.4 355.4 355.2 331.7 355.5 308.1 356 288.3 356.8 272.6 357.9 260.8M382.2 264.6L384.8 267.3 387.3 270.1 391.8 276.4 395.6 283.1 397.3 286.7 400.2 293.9 402.6 301.4 403.6 305.2 405.2 312.9 406.7 324.6 407.2 336.4 406.6 348.2 405.7 356 405 359.9 403.3 367.6 402.2 371.3 399.6 378.7 396.4 385.8 394.5 389.2 390.3 395.7 388 398.7 385.4 401.5 382.7 404.2 379.8 406.6M426.5 350.6L424.8 358.2 422.4 365.7 419.1 372.7 415.1 379.3M421.1 307.2L423.1 314.8 424.4 322.5 424.9 326.4 425.4 334.3 425.4 338.3 424.8 346.1M294 353.3L292.9 345.5 292.5 337.6 292.7 329.8 293.6 321.9M326.4 405.1L320.9 399.9 316.1 394 311.8 387.5 309.9 384.2 306.5 377.2 303.7 369.9 301.5 362.4 299.8 354.7 298.7 346.9 298.4 343 298.1 335.1 298.3 331.1 298.9 323.3 300.2 315.5 302.2 307.9 304.8 300.6 306.4 297 310 290.2 314.4 283.8 319.4 278M367.7 266.2L370 273.7 371.7 281.4 373.1 289.1 374.1 296.9 374.9 304.8 375.8 316.6 376.2 328.4 376.3 340.3 375.9 352.1 375.2 363.9 374 375.7 372.9 383.5 371.5 391.2 369.7 398.8 367.2 406.3 365.6 409.8M403 286.9L406.2 293.9 408.9 301.3 411 308.9 412.5 316.6 413.6 324.4 414.1 332.2 414.2 336.2 413.9 344.1 413.1 351.9 411.7 359.6 409.7 367.2 407.1 374.6 403.8 381.7 399.9 388.4 395.4 394.5 392.8 397.4 387.3 402.6M422.6 350.5L421.1 358.2 420.1 362 417.5 369.4M419.4 314.8L420.7 322.5 421.4 330.4 421.6 338.3 421.1 346.1M296.5 317.7L298.3 310.1 300.9 302.7 304.3 295.7 306.2 292.3M340.4 402L337 395 334.2 387.7 332 380.2 330.2 372.5 328.8 364.8 327.4 353.1 326.9 345.2 326.7 333.4 327.2 321.5 328 313.7 329.1 305.9 330.6 298.2 332.5 290.6 335 283.1 338 276 339.8 272.5 341.8 269.2M418.4 389.3L415.5 391.6 412.3 393.5 402.3 398.6M408.9 284.3L410.9 287.6 414.4 294.5 415.9 298.1 418.6 305.5M379.8 273.5L381.4 277.1 384.2 284.4 386.4 291.9 388.2 299.6 389.6 307.3 390.6 315.1 391.3 323 391.7 330.9 391.7 338.7 391.5 346.6 390.9 354.5 389.9 362.3 388.6 370.1 386.9 377.8 384.7 385.3 383.4 389M347 383.4L345.7 371.7 344.6 355.9 344.1 340.2 344.2 324.4 345 308.6 346 296.8 347.6 285.1 349.8 273.5M300.9 349.5L300.3 341.6 300.1 333.7 300.6 325.8 301.1 321.9M303 325.5L304.1 317.7 304.8 313.9 306.7 306.3 309.3 298.9 310.8 295.3 314.4 288.4M306.6 357.5L305.4 349.7 304.8 341.8 304.7 333.9 304.8 330M318.8 394.2L314.7 387.6 311.2 380.7 308.2 373.5 306.9 369.8 304.8 362.3M325.5 393.9L323.6 390.5 320.2 383.5 318.8 379.8 316.3 372.4 315.2 368.7 313.5 361 311.8 349.3 311.2 337.5 311.6 325.7 312.4 317.8 313 313.9 314.7 306.2 315.7 302.5M384.6 371.5L383 379.2 381 386.8 378.5 394.2 375.3 401.3M409.4 314.9L410.5 322.7 410.9 326.7 411.2 334.6 411 342.4 410.8 346.4 409.8 354.2M391.1 281.6L392.7 285.1 395.5 292.5 396.7 296.2 398.7 303.8 400.8 315.4 401.7 323.2 402.2 331.1 402.2 339 401.9 346.8 400.5 358.6 399 366.3 398.1 370.1 395.9 377.6 394.5 381.3M334 393.7L332.4 390.1 329.8 382.8 326.8 371.4M353.6 386.5L352.4 362.8M361 283.9L361.5 307.6 361.6 335.2 361.5 362.8 361.1 386.5M352.4 309.3L352.9 297.4 353.6 285.6M383.6 293.7L385.1 301.4 386.2 309.2 387.1 317.1 387.8 328.9 387.8 340.7 387.5 348.6 386.9 356.5 386 364.3M394.9 326.4L395.1 338.2 394.8 346.1M323.9 364.8L322.8 357 322 349.1 321.5 341.3 321.5 333.4 321.8 325.5 322.5 317.6 324.3 306M372.5 303.3L373.4 319.1 373.7 338.8 373.3 354.6 372.3 370.3M337.3 313.5L338.6 301.8 339.8 294M380 307.2L381.2 323 381.5 338.8 380.9 354.5 379.8 366.3M334.8 349.5L334.5 341.7 334.4 333.8 334.8 321.9M357.3 358.2L357.3 314.8" fill="none" stroke="#6a97ea" stroke-width="0.6" stroke-linejoin="round"/>
<path d="M437.7 349.2L438.4 351.7L436.4 351.5ZM431.7 308.4L430.1 306.4L431.9 305.8ZM280.7 322.9L280 320.4L282 320.6ZM286.7 363.7L288.3 365.7L286.5 366.3ZM317.7 334.3L318.7 336.7L316.7 336.7ZM332.5 340.2L333.5 342.6L331.5 342.6ZM349.2 339.4L350.2 341.8L348.2 341.8ZM370.4 334.5L369.4 332L371.4 332ZM397.2 337.2L396.2 334.8L398.2 334.8ZM414.4 382.8L415.3 380.4L416.7 381.7ZM433.6 335.8L432.6 333.4L434.6 333.4ZM326.8 265.9L325 267.8L324.2 266ZM299.1 295.1L298.4 297.7L296.8 296.4ZM284.8 336.3L285.8 338.7L283.8 338.7ZM295.1 366.3L296.8 368.3L294.9 368.9ZM307.8 340.7L308.8 343.1L306.9 343.2ZM396.1 405.6L397.9 403.7L398.7 405.5ZM424.4 304.9L422.7 303L424.6 302.3ZM418.1 320.7L416.8 318.4L418.7 318.1ZM383.8 330.9L382.8 328.5L384.8 328.5ZM364.3 333.6L363.3 331.2L365.3 331.2ZM292.9 368.2L294.6 370.1L292.8 370.8ZM339.7 335.6L340.7 338L338.7 338ZM355.2 334.3L356.2 336.8L354.3 336.8ZM407.2 333.8L406.2 331.4L408.1 331.3ZM423.3 363.2L423.2 360.6L425 361.3ZM425 327.8L423.8 325.4L425.8 325.3ZM292.5 336.3L293.5 338.8L291.5 338.7ZM298.3 341.7L299.4 344L297.4 344.1ZM376.3 337.6L375.3 335.2L377.3 335.2ZM413.8 345.4L413 342.9L415 343.1ZM420.7 359.5L420.4 356.9L422.3 357.4ZM421.5 331.7L420.4 329.3L422.4 329.2ZM300 305.1L300.1 307.7L298.2 307ZM326.7 336L327.6 338.4L325.7 338.4ZM411.1 394L412.8 392.1L413.7 393.9ZM414.9 295.8L413.1 293.9L414.9 293.1ZM391.7 332.2L390.7 329.8L392.6 329.7ZM344.1 330.9L345.1 333.4L343.1 333.4ZM300.1 336.3L301.1 338.8L299.1 338.8ZM306 308.8L306.4 311.4L304.4 310.8ZM305 344.4L306.1 346.8L304.1 346.9ZM310.6 379.5L312.5 381.4L310.7 382.1ZM311.7 348L312.9 350.3L310.9 350.5ZM381.7 384.3L381.4 381.7L383.3 382.2ZM411.2 335.9L410.2 333.5L412.2 333.5ZM402.2 332.4L401.2 330L403.1 330ZM329.5 381.5L331.1 383.5L329.2 384.1ZM352.8 373.3L353.9 375.7L351.9 375.8ZM361.6 336.5L360.6 334.1L362.6 334.1ZM352.7 300.1L353.6 302.5L351.6 302.4ZM387.8 330.2L386.7 327.8L388.7 327.7ZM395.1 335.6L394.1 333.2L396.1 333.2ZM321.5 336L322.5 338.4L320.5 338.4ZM373.7 336.2L372.7 333.8L374.7 333.8ZM338.2 304.4L338.9 306.9L337 306.6ZM381.5 336.1L380.5 333.7L382.5 333.7ZM334.4 336.4L335.4 338.8L333.4 338.8ZM357.2 337.2L358.2 339.6L356.3 339.6Z" fill="#6a97ea"/>
<path d="M279 336.1L279.2 341 279.5 345.3 280 349.5 280.7 353.7" fill="none" stroke="#f4561e" stroke-width="0.85"/>
<path d="M439.4 336L439.2 331.1 438.9 326.8 438.4 322.6 437.7 318.4" fill="none" stroke="#f4561e" stroke-width="0.85"/>
<path d="M279 336L279.1 332.3 279.3 328.1 279.8 323.8 280.4 319.6 279.7 323.5" fill="none" stroke="#f4561e" stroke-width="0.85"/>
<path d="M439.4 336.1L439.3 339.8 439.1 344 438.6 348.3 438 352.5 438.7 348.6" fill="none" stroke="#f4561e" stroke-width="0.85"/>
<path d="M279 336L280.1 331.8 281.4 327.6 282.9 323.4 284.7 319.2 286.6 315.1 288.7 311 291 306.9 293.4 303 296.1 299.1 298.9 295.3 301.8 291.7 304.9 288.2 308.3 284.6 311.7 281.3 315.4 278 318.8 275.1" fill="none" stroke="#ee1111" stroke-width="1.4" stroke-linecap="round"/>
<path d="M318.8 275.1L323.8 271.4 329.3 267.7 334.8 264.5 340 261.8 345.5 259.4 351 257.4 355.4 256.3 357.4 256 359.1 255.9" fill="none" stroke="#f4561e" stroke-width="0.85"/>
<path d="M295.1 300.5L294 306.3L290.2 303.9Z" fill="#ee1111"/>
<path d="M439.4 336.1L438.3 340.3 437 344.5 435.5 348.7 433.7 352.9 431.8 357 429.7 361.1 427.4 365.2 425 369.1 422.3 373 419.5 376.8 416.6 380.4 413.5 383.9 410.1 387.5 406.7 390.8 403 394.1 399.6 397" fill="none" stroke="#ee1111" stroke-width="1.4" stroke-linecap="round"/>
<path d="M399.6 397L394.6 400.7 389.1 404.4 383.6 407.6 378.4 410.3 372.9 412.7 367.4 414.7 363 415.8 361 416.1 359.3 416.2" fill="none" stroke="#f4561e" stroke-width="0.85"/>
<path d="M423.3 371.6L424.4 365.8L428.2 368.2Z" fill="#ee1111"/>
<path d="M278.8 336.9L279.9 332.4 281.1 328.4 282.5 324 283.9 320.2 287.4 312.2 291.5 304.5 296 297.2 299.2 292.5 301.6 289.3 306.9 283 312.5 277.1" fill="none" stroke="#111" stroke-width="0.45" stroke-dasharray="1.3 1.1"/>
<path d="M439.6 335.2L438.5 339.7 437.3 343.7 435.9 348.1 434.5 351.9 431 359.9 426.9 367.6 422.4 374.9 419.2 379.6 416.8 382.8 411.5 389.1 405.9 395" fill="none" stroke="#111" stroke-width="0.45" stroke-dasharray="1.3 1.1"/>
<path d="M359.2 255.9L359.7 256 360.1 256.2 360.9 257.3 361.7 259.1 362.5 261.7 363.3 265 364.1 269.1 365.4 279.1 366.5 291.3 367.3 305.3 367.8 320.3 368 336.1 367.8 351.7 367.3 366.6 366.5 380.3 365.4 392.5 364.1 402.4 363.4 406.4 362.6 409.8 361.8 412.5 360.9 414.5 360 415.8 359.6 416.1 359.2 416.2" fill="none" stroke="#f4561e" stroke-width="0.85"/>
<path d="M368 337.6L366.8 334.8L369.2 334.8Z" fill="#f4561e"/>
<path d="M359.2 416.2L358.7 416.1 358.3 415.9 357.5 414.8 356.7 413 355.9 410.4 355.1 407.1 354.3 403 353 393 351.9 380.8 351.1 366.8 350.6 351.8 350.4 336.1 350.6 320.4 351.1 305.5 351.9 291.8 353 279.6 354.3 269.7 355 265.7 355.8 262.3 356.6 259.6 357.5 257.6 358.4 256.3 358.8 256 359.2 255.9" fill="none" stroke="#f4561e" stroke-width="0.85"/>
<path d="M350.4 334.5L351.6 337.4L349.2 337.4Z" fill="#f4561e"/>
</g>
<rect x="274.8" y="245.3" width="168.8" height="181.5" fill="none" stroke="#333" stroke-width="0.4"/>
<text x="278.8" y="434.5" font-size="6.7" text-anchor="middle">−1.0</text>
<text x="319" y="434.5" font-size="6.7" text-anchor="middle">−0.5</text>
<text x="359.2" y="434.5" font-size="6.7" text-anchor="middle">0.0</text>
<text x="399.4" y="434.5" font-size="6.7" text-anchor="middle">0.5</text>
<text x="439.6" y="434.5" font-size="6.7" text-anchor="middle">1.0</text>
<text x="272.6" y="425.1" font-size="6.7" text-anchor="end">−1.00</text>
<text x="272.6" y="403.5" font-size="6.7" text-anchor="end">−0.75</text>
<text x="272.6" y="381.8" font-size="6.7" text-anchor="end">−0.50</text>
<text x="272.6" y="360.2" font-size="6.7" text-anchor="end">−0.25</text>
<text x="272.6" y="338.6" font-size="6.7" text-anchor="end">0.00</text>
<text x="272.6" y="316.9" font-size="6.7" text-anchor="end">0.25</text>
<text x="272.6" y="295.3" font-size="6.7" text-anchor="end">0.50</text>
<text x="272.6" y="273.6" font-size="6.7" text-anchor="end">0.75</text>
<text x="272.6" y="252" font-size="6.7" text-anchor="end">1.00</text>
<path d="M278.8 426.8v2.4M319 426.8v2.4M359.2 426.8v2.4M399.4 426.8v2.4M439.6 426.8v2.4M274.8 422.6h-2.4M274.8 401h-2.4M274.8 379.3h-2.4M274.8 357.7h-2.4M274.8 336.1h-2.4M274.8 314.4h-2.4M274.8 292.8h-2.4M274.8 271.1h-2.4M274.8 249.5h-2.4" stroke="#000" stroke-width="0.55" fill="none"/>
<rect x="358.3" y="335.2" width="1.8" height="1.8" fill="#000"/>
<text x="354.4" y="333.4" font-size="9.6" text-anchor="start">A</text>
<rect x="278.9" y="322.8" width="1.5" height="1.5" fill="#000"/>
<rect x="279.7" y="352.8" width="1.5" height="1.5" fill="#000"/>
<rect x="277.9" y="334.9" width="2.2" height="2.2" fill="#000"/>
<text x="274.4" y="320.6" font-size="9.6" font-style="italic" text-anchor="start">D<tspan dx="0.3" dy="3" font-size="8.16" font-style="normal">−</tspan></text>
<text x="281.8" y="332.1" font-size="9.6" font-style="italic" text-anchor="start">B<tspan dx="0.3" dy="3" font-size="8.16" font-style="normal">−</tspan></text>
<text x="280.9" y="344.1" font-size="9.6" font-style="italic" text-anchor="start">F<tspan dx="0.3" dy="3" font-size="8.16" font-style="normal">−</tspan></text>
<text x="282" y="361.7" font-size="9.6" font-style="italic" text-anchor="start">E<tspan dx="0.3" dy="3" font-size="8.16" font-style="normal">−</tspan></text>
<rect x="438" y="347.8" width="1.5" height="1.5" fill="#000"/>
<rect x="437.2" y="317.8" width="1.5" height="1.5" fill="#000"/>
<rect x="438.3" y="334.9" width="2.2" height="2.2" fill="#000"/>
<text x="439.4" y="315.7" font-size="9.6" font-style="italic" text-anchor="start">E<tspan dx="1.8" dy="2" font-size="6.912" font-style="normal">+</tspan></text>
<text x="441.3" y="332.7" font-size="9.6" font-style="italic" text-anchor="start">F<tspan dx="1.8" dy="2" font-size="6.912" font-style="normal">+</tspan></text>
<text x="440.7" y="344.1" font-size="9.6" font-style="italic" text-anchor="start">B<tspan dx="1.8" dy="2" font-size="6.912" font-style="normal">+</tspan></text>
<text x="440" y="356.1" font-size="9.6" font-style="italic" text-anchor="start">D<tspan dx="1.8" dy="2" font-size="6.912" font-style="normal">+</tspan></text>
</g>
<text x="359.2" y="445.8" font-size="11" font-style="italic" text-anchor="middle">ϕ<tspan font-size="7" dy="2">p</tspan></text>
<text transform="translate(247 336.1) rotate(-90)" font-size="11" font-style="italic" text-anchor="middle">z<tspan font-size="7" dy="2">p</tspan></text>
<g id="panel_f">
<clipPath id="clip_f"><rect x="512.3" y="245.3" width="168.5" height="181.5"/></clipPath>
<rect x="512.3" y="245.3" width="168.5" height="181.5" fill="#fff"/>
<g clip-path="url(#clip_f)">
<rect x="512.3" y="245.3" width="168.5" height="181.5" fill="#808080"/>
<clipPath id="disk_f"><ellipse cx="596.5" cy="336.1" rx="80.2" ry="86.6"/></clipPath>
<ellipse cx="596.5" cy="336.1" rx="80.2" ry="86.6" fill="#fff"/>
<path d="M584.3 428.6L682.5 428.6 682.5 369.5 674.9 371.6 667.7 374 660.8 376.4 653.9 379.1 647.4 382 640.8 385.1 634.6 388.4 628.8 391.8 622.9 395.5 617 399.5 611.2 403.8 605.7 408.2 599.5 413.6 593.6 419 586 426.5 584 428.6 584.3 428.6ZM511 302.5L518.5 300.3 525.8 298 532.7 295.6 539.5 292.8 546.1 290 552.3 287 558.5 283.7 564.3 280.3 570.2 276.6 576.1 272.6 581.6 268.6 587.1 264.2 592.6 259.5 598.1 254.4 603.6 249.1 609.1 243.5 510.6 243.5 510.6 302.6 511 302.5Z" fill="#d2d2d2" fill-rule="evenodd" clip-path="url(#disk_f)"/>
<path d="M578.8 428.6L584 428.6 590.9 421.6 597.8 415.1 604.6 409.1 611.7 403.4 611.5 403.3 611 403.4 610.8 403.6 610.5 403.7 610.2 404 609.8 404 605.3 406.6 600.5 409.8 595.7 413.3 590.9 417.2 586 421.4 579.8 427.3 578.5 428.6 578.8 428.6ZM611.9 403.3L612.2 403 611.8 403 611.9 403.3ZM612.6 402.8L612.7 402.6 612.5 402.6 612.6 402.8ZM580.5 269.5L580.5 269.3 580.4 269.5 580.5 269.5ZM580.9 269.1L581.3 269.1 581.2 268.8 580.9 269.1ZM581.6 268.8L581.9 268.8 582.3 268.5 582.6 268.4 582.9 268.1 583.3 268.1 588.8 264.8 593.3 261.8 597.8 258.5 601.9 255.2 606 251.7 610.2 247.8 614.6 243.5 609.1 243.5 602.6 250.1 596 256.4 588.8 262.7 581.4 268.7 581.6 268.8Z" fill="#ffff00" fill-rule="evenodd" clip-path="url(#disk_f)"/>
<path d="M511 428.6L576.7 428.6 602.9 404.6 628.8 381.7 655.3 359.1 682.5 336.6 682.5 243.5 616.4 243.5 590.2 267.5 564.3 290.4 537.8 313 510.6 335.5 510.6 428.6 511 428.6Z" fill="#c9f8b0" fill-rule="evenodd" clip-path="url(#disk_f)"/>
<path d="M511 428.6L575.1 428.6 582.3 422.5 589.5 415.8 596.7 408.6 604 401.1 613.6 390.3 622.9 379.1 631.9 367.5 640.5 355.6 648.7 343.3 656.3 331.1 663.2 319.1 669.4 307.2 673.2 299.4 676.6 291.7 679.8 283.9 682.5 276.5 682.5 243.5 618 243.5 610.8 249.6 603.6 256.3 596.4 263.5 589.1 271 579.5 281.8 570.2 293 561.2 304.6 552.6 316.6 544.4 328.8 536.8 341.1 529.6 353.7 523.4 365.5 519.6 373.3 516.2 381.1 513.2 388.5 510.6 395.6 510.6 428.6 511 428.6Z" fill="#80fa62" fill-rule="evenodd" clip-path="url(#disk_f)"/>
<path d="M588.3 421.5L584.6 420.8 581 419.8 573.9 417.1 567.1 413.7 563.9 411.7 557.7 407.2 554.7 404.7 549.1 399.3 546.5 396.5 541.6 390.4 539.3 387.2 535 380.6 526.5 365.3 525.7 364.4 524.9 364.2 523.8 365.2 522.6 367.6M588.9 418.6L585.7 416.5 582.8 414 580.1 411.1 577.6 408.1 575.4 404.9 573.3 401.6 569.5 394.6 567.9 391 564.9 383.5 561.4 372.1 559.6 364.2 558.2 356.3 556.9 344.3 556.6 336.2 556.7 332.2 557.3 324.2 558.7 316.3 559.7 312.4 561 308.6 564.2 301.3 566 297.8 570 290.9 576.5 281.1 585.9 268.5 593.3 259.5M668.8 372.1L671.2 364.5 673.1 356.7 674.5 348.7 675.2 340.7 675.2 332.7 674.6 324.6 673.4 316.7 671 306.2M604.8 250.6L608.5 251.3 612.1 252.3 615.7 253.6 622.6 256.6 629.2 260.4 632.4 262.6 638.4 267.4 641.2 270 646.6 275.6 649.1 278.6 653.8 284.9 658.1 291.5 666.6 306.8M604.2 253.6L607.4 255.6 610.3 258.1 613 261 615.5 264 617.7 267.2 619.8 270.5 623.6 277.5 625.2 281.1 628.2 288.6 631.7 300 633.5 307.9 634.9 315.8 636.2 327.8 636.5 335.9 636.4 339.9 635.8 347.9 634.4 355.8 633.4 359.7 632.1 363.5 628.9 370.8 627.1 374.3 623.1 381.2 616.6 391 607.2 403.6 599.8 412.6M524.3 300L521.9 307.6 520 315.4 518.6 323.4 517.9 331.4 517.9 339.4 518.5 347.5 519.7 355.4 521.5 363.3M576.9 416.3L570.4 412.3 564.4 407.5 558.8 402.1 556.2 399.2 551.3 393.1 547 386.6 543 379.7 539.4 372.6 533 358.1 531.9 356.3 531 355.4 530.2 355.3 529.4 355.7 527.8 357.7 525.2 362.5M590.9 416.7L588.9 414.4 586.8 411.1 584.9 407.6 582 400.2 579.6 392.6 577.7 384.8 575.5 372.9 573.9 360.9 573 348.9 572.7 336.8 573 324.7 573.9 312.6 575 304.6 576.5 296.7 578.5 289 581.1 281.4 584.3 274.1M592.7 414.4L591.2 410.7 589.1 403 587.6 395.1 585.9 383.1 584.8 371.1 584 359 583.6 346.9 583.5 330.8 583.8 318.7 584.4 306.6 585.5 294.6 586.5 286.6 587.8 278.7 589.7 270.9 590.9 267 592.3 263.3 594.1 259.8M596.8 258.8L597.3 295 597.4 355.5 597 403.9 596.8 412.8 596.6 414.4 596.3 412.9M668.6 360.6L669.9 352.7 670.4 348.7 670.7 344.7 671 336.6 670.8 328.6 669.3 312.5 669.2 309.6M616.2 255.8L622.7 259.8 628.7 264.6 634.3 270 636.9 272.9 641.8 279 646.1 285.5 650.1 292.4 653.7 299.5 660.1 314 661.2 315.8 662.1 316.7 662.9 316.8 663.7 316.4 665.3 314.4 666.5 312.4M602.2 255.4L604.2 257.7 606.3 261 608.2 264.5 611.1 271.9 613.5 279.5 615.4 287.3 617.6 299.2 619.2 311.2 620.1 323.2 620.4 335.3 620.1 347.4 619.2 359.5 618.1 367.5 616.6 375.4 614.6 383.1 612 390.7 608.8 398M600.4 257.7L601.9 261.4 604 269.1 605.5 277 607.2 289 608.3 301 609.1 313.1 609.5 325.2 609.6 341.3 609.3 353.4 608.7 365.5 607.6 377.5 606.6 385.5 605.3 393.4 603.4 401.2 602.2 405.1 600.8 408.8 599 412.3M524.5 311.5L523.2 319.4 522.7 323.4 522.1 331.4 522.1 335.5 522.3 343.5 523.4 355.6M573.6 410.3L568.2 404.7 563.4 398.5 559.1 391.9 555.4 384.9 552.1 377.7 548 366.4 544.8 354.8 543.3 346.9 542.3 338.9 542.3 334.9 542.5 333.1 543.2 331.2 544.2 329.2 547.6 323.3 558.1 306.6M664.6 372.1L664.8 368.9 667.3 353M665.5 348.4L665.9 336.3 665.7 320.2M661.5 288L665.5 294.8 669.6 303 670.2 304.1 670.5 304.2M619.5 261.8L624.9 267.4 629.7 273.6 634 280.2 637.7 287.2 641 294.4 645.1 305.7 648.3 317.3 649.8 325.2 650.8 333.2 650.8 337.2 650.6 339 649.9 340.9 648.9 342.9 645.5 348.8 635 365.5M528.5 300L528.3 303.2 525.8 319.1M527.6 323.7L527.2 335.8 527.4 351.9M592.7 406.2L591.3 394.2 590.1 378.1 589.2 358 588.9 337.8 589.1 317.6 589.9 297.5 591.1 281.4 592.6 269.4M661.7 373.2L661.2 370.1 663 347 663.4 322.9M645.9 279.8L650.4 286.3 654.5 293 661.7 307.2M600.4 265.9L601.8 277.9 603 294 603.9 314.1 604.2 334.3 604 354.5 603.2 374.6 602 390.7 600.5 402.7M531.4 298.9L531.9 302 530.1 325.1 529.7 349.2M547.2 392.3L542.7 385.8 538.6 379.1 531.4 364.9M549.7 404.6L544 399.4 541.3 396.5 536.3 390.5M562.1 402.1L559.6 399 555 392.7 552.8 389.4 548.9 382.5 545.4 375.4 542.3 368 537.1 352.9 535.6 349.3 534.8 348.2 534.1 348 533.4 348.3M577.4 402.1L575.7 398.5 572.7 391.1 571.4 387.3 569.1 379.6 566.5 367.9 564.7 355.9 563.7 343.9 563.6 331.8 564 323.7 564.5 319.7 565.7 311.8 566.5 307.8M644.6 382.8L634.2 387.4 627.5 391 624.2 393 617.9 397.3 608.9 404.6M657.8 373.2L657 369.3 656.9 365.8 657 349.7 656.9 333.6 657.3 331 657.9 329 658.9 326.9M647.1 295.6L651.6 306.7 656.4 320.9 657.8 323.7 658.8 324.3 659.5 324M632.1 259.3L638.6 263.4 644.6 268.2 650.3 273.5 652.9 276.3 657.8 282.4M631 270.1L633.5 273.1 638.1 279.4 640.3 282.7 644.2 289.6M615.7 270.1L617.4 273.6 620.4 281 621.7 284.8 624 292.5 626.6 304.2 628.4 316.2 629.4 328.2 629.5 340.3 629.1 348.4 628.6 352.4 627.4 360.3 626.6 364.3M548.5 289.3L558.9 284.7 565.6 281.1 568.9 279.1 575.2 274.8 584.2 267.5M535.3 298.9L536.1 302.8 536.2 306.3 536.1 322.4 536.2 338.5 535.8 341.1 535.2 343.1 534.2 345.2M654 377.3L651.1 376.6 648.8 374.8 647.1 372.6 645.1 369.3 642.7 366.3 641.2 365.5 639.5 365.5 638.1 366.1 636.5 367.2 634.5 369.1 631.9 372 627.1 378.1M657.6 376.2L656.1 375.7 654.9 374.7 654 373.2 652.8 369.4 650.8 353.6 649.9 349.7 649.3 348.3 648.5 347.5M654.2 360.7L653.5 348.6 653.1 344.6 652.5 340.6M539.1 294.8L542 295.5 544.3 297.3 546 299.5 548 302.8 550.4 305.8 551.9 306.6 553.6 306.6 555 306 556.6 304.9 558.6 303 561.2 300.1 566 294M535.5 295.9L537 296.4 538.2 297.4 539.1 298.9 540.3 302.7 542.3 318.5 543.2 322.4 543.8 323.8 544.6 324.6M538.9 311.4L539.6 323.5 540 327.5 540.6 331.5M562.1 389.7L558.8 382.4 556 375 553.6 367.3 550.9 355.6 549.6 347.6 549.2 343.6 548.9 335.6 549 331.5 549.5 327.5 550.4 323.6M646.3 377.3L639.5 374 637.4 373.7 635.2 374.1 633.2 375.1 630.9 376.7M642.4 308.4L644.2 316.2 645.6 324.1 646.4 332.1 646.5 336.2 646.3 340.2M631 282.4L632.7 286 635.8 293.4 638.4 300.9 640.5 308.7M546.8 294.8L553.6 298.1 555.7 298.4 557.9 298 559.9 297 562.2 295.4M548.1 352L547 344 546.7 340 546.6 335.9 546.8 331.9M582 389.5L579.9 377.6 578.5 365.6 577.6 353.5 577.1 337.4 577.3 325.3 578 313.3 579.3 301.2 581.4 289.4M592.7 385.6L591.9 361.4 591.7 333.1 592 308.9 592.8 284.8M600.3 284.8L601.2 308.9 601.4 337.2 601.2 361.4 600.4 385.6M641.4 381.2L637.7 381.7 634.1 382.4 630.5 383.7 627.2 385.6 624.1 387.8M642.6 320.4L643.5 328.4 643.9 336.5 643.7 340.5 643.3 344.5 642.5 348.4M611.1 282.6L613.2 294.5 614.6 306.5 615.5 318.6 616 334.7 615.8 346.8 615.1 358.8 613.8 370.9 611.7 382.7M551.7 290.9L555.4 290.4 559 289.7 562.6 288.4 565.9 286.6 569 284.3M638.2 312.6L639.9 324.5 640.5 332.6 640.6 336.6 640.1 344.6 639.5 348.6 638.7 352.6 637.5 356.4M554.9 359.5L553.2 347.6 552.6 339.5 552.5 335.5 553 327.5 553.6 323.5 554.4 319.6 555.6 315.7M622.1 301.5L623.8 313.4 624.8 325.5 625.1 337.6 624.6 349.7 623.2 361.7 621.6 369.6 619.5 377.3 616.8 384.8M571 370.6L569.3 358.7 568.3 346.6 568 334.5 568.5 322.4 569.9 310.4 571.5 302.5 573.6 294.8 576.3 287.3M581.2 369.1L580.1 353 579.7 336.8 580.1 320.7 581.2 304.6M612.1 304.6L613.2 320.7 613.5 336.8 613.1 353 611.9 369.1M627 324.1L627.4 336.2 627.2 344.3M566.1 348L565.7 335.9 565.9 327.8" fill="none" stroke="#6a97ea" stroke-width="0.6" stroke-linejoin="round"/>
<path d="M548.2 398.3L550.6 399.5L549.1 400.8ZM556.7 339L557.7 341.4L555.7 341.4ZM675.2 339.4L676.2 341.8L674.2 341.8ZM642.2 271L639.7 270L641.1 268.6ZM636.4 333.1L635.4 330.7L637.4 330.7ZM517.9 332.7L516.9 330.3L518.9 330.3ZM546.3 385.4L548.4 387L546.7 388ZM573 347.5L574.1 349.9L572.1 350ZM583.5 337.6L584.5 340L582.5 340ZM597.5 336.7L596.5 334.3L598.4 334.3ZM671 335.3L672.1 337.7L670.1 337.7ZM644.7 283.3L642.6 281.8L644.2 280.8ZM620.1 324.6L619 322.2L621 322.1ZM609.6 334.5L608.6 332.1L610.6 332.1ZM522.1 332.8L521.2 330.3L523.1 330.4ZM546.5 361.3L548.1 363.4L546.1 363.9ZM665.7 363.6L666.3 366.2L664.3 365.8ZM665.9 335L666.9 337.4L664.9 337.4ZM666.1 296L664.1 294.3L665.9 293.4ZM646.6 310.8L645 308.7L647 308.2ZM527.4 308.5L526.8 305.9L528.8 306.3ZM527.2 337.1L526.2 334.7L528.2 334.7ZM588.9 340.5L590 342.9L588 342.9ZM662.9 349.8L663.7 352.2L661.7 352.1ZM655.1 294.2L653.1 292.5L654.8 291.6ZM604.2 331.6L603.1 329.2L605.1 329.2ZM530.2 322.3L529.4 319.9L531.4 320ZM538 377.9L540 379.6L538.3 380.5ZM543.1 398.4L545.5 399.5L544 400.8ZM546.5 377.8L548.5 379.6L546.7 380.4ZM564.6 354.6L565.8 356.9L563.8 357.1ZM626.4 391.7L627.9 389.6L628.9 391.3ZM657 352.4L658 354.8L656 354.8ZM653.4 311.7L651.7 309.7L653.5 309.1ZM645.6 269.1L643.1 268.2L644.5 266.7ZM638.9 280.5L636.7 279L638.4 277.9ZM628.5 317.5L627.3 315.2L629.3 315ZM566.7 280.4L565.2 282.5L564.2 280.8ZM536.1 319.7L535.1 317.3L537.1 317.3ZM639.9 365.5L642.3 364.5L642.3 366.5ZM652.1 364.3L653.4 366.6L651.4 366.8ZM653.7 351.3L654.8 353.7L652.9 353.8ZM553.2 306.6L550.8 307.6L550.8 305.6ZM541 307.8L539.7 305.5L541.7 305.3ZM539.4 320.8L538.3 318.4L540.2 318.3ZM551.4 358.2L552.8 360.4L550.9 360.8ZM638.2 373.8L640.8 373.2L640.5 375.1ZM645.8 325.4L644.5 323.1L646.5 322.9ZM636.2 294.6L634.5 292.7L636.3 292ZM554.9 298.3L552.3 298.9L552.6 297ZM546.9 342.7L548.1 345L546.1 345.2ZM577.1 340.1L578.1 342.5L576.2 342.6ZM591.7 335.8L592.7 338.3L590.7 338.3ZM601.4 334.5L600.5 332L602.4 332ZM632.8 382.9L634.7 381.1L635.4 383ZM643.8 333.7L642.8 331.3L644.8 331.3ZM616 332L615 329.6L616.9 329.5ZM560.3 289.2L558.4 291L557.7 289.1ZM640.5 333.9L639.5 331.5L641.5 331.5ZM552.6 338.2L553.6 340.6L551.6 340.6ZM624.9 342.9L624 340.5L626 340.6ZM568.2 329.2L569.1 331.6L567.1 331.5ZM579.7 339.6L580.8 342L578.8 342ZM613.5 334.1L612.5 331.7L614.5 331.7ZM627.4 333.5L626.3 331.1L628.3 331.1ZM565.7 338.6L566.8 341L564.8 341Z" fill="#6a97ea"/>
<path d="M539.8 336.1L540.9 343.5 542.3 351.1 544.1 358.4 546.2 365.5 548.5 372.1 551.4 379.2 554.4 385.4 557.8 391.6 561.5 397.3 565.3 402.3 569.4 406.9 573.3 410.8 577.7 414.3 582.3 417.3 584.5 418.5 586.8 419.5 588.8 420.2 590.2 420.5" fill="none" stroke="#f4561e" stroke-width="0.85"/>
<path d="M653.3 336L652.2 328.6 650.8 321 649 313.7 646.9 306.6 644.6 300 641.7 292.9 638.7 286.7 635.3 280.5 631.6 274.8 627.8 269.8 623.7 265.2 619.8 261.3 615.4 257.8 610.8 254.8 608.6 253.6 606.3 252.6 604.3 251.9 602.9 251.6" fill="none" stroke="#f4561e" stroke-width="0.85"/>
<path d="M539.8 336L539.1 329.7 538.7 323.7 538 304 537.6 300.9 537 298.7 536.3 297.6 535.5 296.7 534.4 296.2 533.3 296.1 531.9 296.2 530.2 296.6 524.2 298.5" fill="none" stroke="#f4561e" stroke-width="0.85"/>
<path d="M653.3 336.1L654 342.4 654.4 348.4 655.1 368.1 655.5 371.2 656.1 373.4 656.8 374.5 657.6 375.4 658.7 375.9 659.8 376 661.2 375.9 662.9 375.5 668.9 373.6" fill="none" stroke="#f4561e" stroke-width="0.85"/>
<path d="M539.8 336.1L531.2 351.3 522.1 368.2" fill="none" stroke="#d83a14" stroke-width="0.75"/>
<path d="M653.3 336L661.9 320.8 671 303.9" fill="none" stroke="#d83a14" stroke-width="0.75"/>
<path d="M539.8 336L545.6 326.4 551.5 316.9 557.4 307.7 563.4 298.7 569.7 289.8 575.8 281.4 582 273.3 587.8 265.9" fill="none" stroke="#ee1111" stroke-width="1.4" stroke-linecap="round"/>
<path d="M587.8 265.9L593.3 259.4 596.5 255.9" fill="none" stroke="#f4561e" stroke-width="0.85"/>
<path d="M558 306.8L556.9 312.7L553.1 310.2Z" fill="#ee1111"/>
<path d="M653.3 336.1L647.5 345.7 641.6 355.2 635.7 364.4 629.7 373.4 623.4 382.3 617.3 390.7 611.1 398.8 605.3 406.2" fill="none" stroke="#ee1111" stroke-width="1.4" stroke-linecap="round"/>
<path d="M605.3 406.2L599.8 412.7 596.6 416.2" fill="none" stroke="#f4561e" stroke-width="0.85"/>
<path d="M635.1 365.3L636.2 359.4L640 361.9Z" fill="#ee1111"/>
<path d="M519.4 359.8L521.8 358.7 524 357.5 526.1 356 528 354.4 529.7 352.7 532 349.9 535 345.3 537 341.8 539.4 336.9 542.5 330.1 552.5 306.8 560.8 289.7" fill="none" stroke="#111" stroke-width="0.45" stroke-dasharray="1.3 1.1"/>
<path d="M673.7 312.3L671.3 313.4 669.1 314.6 667 316.1 665.1 317.7 663.4 319.4 661.1 322.2 658.1 326.8 656.1 330.3 653.7 335.2 650.6 342 640.6 365.3 632.3 382.4" fill="none" stroke="#111" stroke-width="0.45" stroke-dasharray="1.3 1.1"/>
<path d="M554.9 405.4L551.6 401 548.8 396.2 546.2 390.9 544.1 385.7 542.4 380.2 540.8 373.5 539.8 367.2 539 359.8 538.8 353.7 538.9 347 539.4 339.9 540.3 332.5 541.7 324.9 543 319.8 545.1 312.3 547.7 305.1" fill="none" stroke="#333" stroke-width="0.4"/>
<path d="M638.2 266.7L641.5 271.1 644.3 275.9 646.9 281.2 649 286.4 650.7 291.9 652.3 298.6 653.3 304.9 654.1 312.3 654.3 318.4 654.2 325.1 653.7 332.2 652.8 339.6 651.4 347.2 650.1 352.3 648 359.8 645.4 367" fill="none" stroke="#333" stroke-width="0.4"/>
<path d="M596.6 255.9L596.7 255.8 596.8 256 597.1 256.9 597.6 261.2 598.1 268.6 598.5 278.8 599.1 305.1 599.4 336.1 599.1 366.5 598.5 392.1 598.1 401.9 597.7 409.2 597.1 414.1 596.8 415.6 596.6 416.2" fill="none" stroke="#f4561e" stroke-width="0.85"/>
<path d="M599.4 337.5L598.3 334.9L600.4 334.9Z" fill="#f4561e"/>
<path d="M596.5 416.2L596.4 416.2 596.3 416.1 596.1 415.1 595.6 410.8 595.2 403.3 594.9 393.2 594.3 367 594.1 336.1 594.3 305.6 594.8 279.9 595.2 270.1 595.6 262.7 596.1 257.9 596.3 256.5 596.5 255.9" fill="none" stroke="#f4561e" stroke-width="0.85"/>
<path d="M594.1 334.6L595.2 337.2L593.1 337.2Z" fill="#f4561e"/>
</g>
<rect x="512.3" y="245.3" width="168.5" height="181.5" fill="none" stroke="#333" stroke-width="0.4"/>
<text x="516.3" y="434.5" font-size="6.7" text-anchor="middle">−1.0</text>
<text x="556.4" y="434.5" font-size="6.7" text-anchor="middle">−0.5</text>
<text x="596.5" y="434.5" font-size="6.7" text-anchor="middle">0.0</text>
<text x="636.7" y="434.5" font-size="6.7" text-anchor="middle">0.5</text>
<text x="676.8" y="434.5" font-size="6.7" text-anchor="middle">1.0</text>
<text x="510.1" y="425.1" font-size="6.7" text-anchor="end">−1.00</text>
<text x="510.1" y="403.5" font-size="6.7" text-anchor="end">−0.75</text>
<text x="510.1" y="381.8" font-size="6.7" text-anchor="end">−0.50</text>
<text x="510.1" y="360.2" font-size="6.7" text-anchor="end">−0.25</text>
<text x="510.1" y="338.6" font-size="6.7" text-anchor="end">0.00</text>
<text x="510.1" y="316.9" font-size="6.7" text-anchor="end">0.25</text>
<text x="510.1" y="295.3" font-size="6.7" text-anchor="end">0.50</text>
<text x="510.1" y="273.6" font-size="6.7" text-anchor="end">0.75</text>
<text x="510.1" y="252" font-size="6.7" text-anchor="end">1.00</text>
<path d="M516.3 426.8v2.4M556.4 426.8v2.4M596.5 426.8v2.4M636.7 426.8v2.4M676.8 426.8v2.4M512.3 422.6h-2.4M512.3 401h-2.4M512.3 379.3h-2.4M512.3 357.7h-2.4M512.3 336.1h-2.4M512.3 314.4h-2.4M512.3 292.8h-2.4M512.3 271.1h-2.4M512.3 249.5h-2.4" stroke="#000" stroke-width="0.55" fill="none"/>
<rect x="595.6" y="335.2" width="1.8" height="1.8" fill="#000"/>
<text x="598.1" y="344.2" font-size="9.6" text-anchor="start">A</text>
<rect x="538.9" y="335.2" width="1.8" height="1.8" fill="#000"/>
<rect x="652.4" y="335.2" width="1.8" height="1.8" fill="#000"/>
<text x="542" y="344.2" font-size="9.6" font-style="italic" text-anchor="start">B<tspan dx="0.3" dy="3" font-size="8.16" font-style="normal">−</tspan></text>
<text x="655.5" y="344.2" font-size="9.6" font-style="italic" text-anchor="start">B<tspan dx="1.6" dy="2" font-size="6.912" font-style="normal">+</tspan></text>
<rect x="668.1" y="372.8" width="1.5" height="1.5" fill="#000"/>
<rect x="523.5" y="297.8" width="1.5" height="1.5" fill="#000"/>
<rect x="602.2" y="249" width="1.5" height="1.5" fill="#000"/>
<rect x="589.4" y="421.6" width="1.5" height="1.5" fill="#000"/>
<rect x="670.3" y="303.1" width="1.5" height="1.5" fill="#000"/>
<rect x="521.3" y="367.5" width="1.5" height="1.5" fill="#000"/>
<text x="512.5" y="306.5" font-size="9.6" font-style="italic" text-anchor="start">D<tspan dx="0.3" dy="3" font-size="8.16" font-style="normal">−</tspan></text>
<text x="670.4" y="381.6" font-size="9.6" font-style="italic" text-anchor="start">D<tspan dx="1.6" dy="2" font-size="6.912" font-style="normal">+</tspan></text>
<text x="604.8" y="257.1" font-size="9.6" font-style="italic" text-anchor="start">E<tspan dx="1.6" dy="2" font-size="6.912" font-style="normal">+</tspan></text>
<text x="592.1" y="420" font-size="9.6" font-style="italic" text-anchor="start">E<tspan dx="0.3" dy="3" font-size="8.16" font-style="normal">−</tspan></text>
<text x="672.8" y="311.3" font-size="9.6" font-style="italic" text-anchor="start">F<tspan dx="1.6" dy="2" font-size="6.912" font-style="normal">+</tspan></text>
<text x="512.6" y="375.6" font-size="9.6" font-style="italic" text-anchor="start">F<tspan dx="0.3" dy="3" font-size="8.16" font-style="normal">−</tspan></text>
</g>
<text x="596.5" y="445.8" font-size="11" font-style="italic" text-anchor="middle">ϕ<tspan font-size="7" dy="2">p</tspan></text>
<text transform="translate(484 336.1) rotate(-90)" font-size="11" font-style="italic" text-anchor="middle">z<tspan font-size="7" dy="2">p</tspan></text>
<g id="panel_g">
<clipPath id="clip_g"><rect x="34.2" y="490.8" width="168.4" height="181.2"/></clipPath>
<rect x="34.2" y="490.8" width="168.4" height="181.2" fill="#fff"/>
<g clip-path="url(#clip_g)">
<rect x="34.2" y="490.8" width="168.4" height="181.2" fill="#808080"/>
<clipPath id="disk_g"><ellipse cx="118.4" cy="581.4" rx="80.2" ry="86.1"/></clipPath>
<ellipse cx="118.4" cy="581.4" rx="80.2" ry="86.1" fill="#fff"/>
<path d="M118.6 673.8L204.3 673.8 204.3 627.5 125.1 585.1 120.3 582.6 119.3 582.3 118.9 582.3 118.7 582.7 118.5 583.8 118.4 591.2 118.4 673.8 118.6 673.8ZM117.5 580.5L117.9 580.5 118.2 579.7 118.3 575.3 118.4 489 32.5 489 32.5 535.3 110 576.8 115.8 579.9 117.5 580.5Z" fill="#d2d2d2" fill-rule="evenodd" clip-path="url(#disk_g)"/>
<path d="M32.9 673.8L118.2 673.8 118.2 583.4 118.6 583.1 118.6 582.3 118.9 582 119.3 581.6 120 581.6 120.3 581.2 120.6 581.2 204.3 581.2 204.3 489 118.6 489 118.6 579.4 118.2 579.7 118.2 580.5 117.9 580.8 117.5 581.2 116.8 581.2 116.5 581.6 116.2 581.6 32.5 581.6 32.5 673.8 32.9 673.8Z" fill="#c9f8b0" fill-rule="evenodd" clip-path="url(#disk_g)"/>
<path d="M32.9 673.8L118.2 673.8 118.2 583.4 118.6 583.1 118.6 582 119.9 580.5 120.3 580.5 120.6 580.1 121 580.1 121.3 579.7 121.7 579.7 122.4 579 122.7 579 123 578.6 123.4 578.6 123.7 578.3 124.1 578.3 124.4 577.9 124.8 577.9 125.1 577.5 125.5 577.5 125.8 577.1 126.1 577.1 126.5 576.8 126.8 576.8 127.2 576.4 127.5 576.4 127.9 576 128.2 576 128.6 575.7 128.9 575.7 129.2 575.3 129.6 575.3 129.9 574.9 130.3 574.9 130.6 574.6 131 574.5 131.3 574.2 131.7 574.2 132 573.8 132.3 573.8 132.7 573.4 133 573.4 133.4 573.1 133.7 573.1 134.1 572.7 134.4 572.7 134.8 572.3 135.1 572.3 135.4 572 135.8 572 136.1 571.6 136.5 571.6 136.8 571.2 137.2 571.2 137.5 570.8 137.9 570.8 138.2 570.5 138.5 570.5 138.9 570.1 139.2 570.1 139.6 569.7 139.9 569.7 140.3 569.4 140.6 569.4 140.9 569 141.3 569 141.6 568.6 142 568.6 142.3 568.3 142.7 568.3 143 567.9 143.4 567.9 143.7 567.5 144 567.5 144.4 567.1 144.7 567.1 145.1 566.8 145.4 566.8 145.8 566.4 146.1 566.4 146.5 566 146.8 566 147.1 565.7 147.5 565.7 147.8 565.3 148.2 565.3 148.5 564.9 148.9 564.9 149.2 564.6 149.6 564.5 149.9 564.2 150.2 564.2 150.6 563.8 150.9 563.8 151.3 563.4 151.6 563.4 152 563.1 152.3 563.1 152.7 562.7 153 562.7 153.3 562.3 153.7 562.3 154 562 154.4 562 154.7 561.6 155.1 561.6 155.4 561.2 155.8 561.2 156.1 560.9 156.4 560.8 156.8 560.5 157.1 560.5 157.5 560.1 157.8 560.1 158.2 559.7 158.5 559.7 158.8 559.4 159.2 559.4 159.5 559 159.9 559 160.2 558.6 160.6 558.6 160.9 558.3 161.3 558.3 161.6 557.9 162 557.9 162.3 557.5 162.6 557.5 163 557.1 163.3 557.1 163.7 556.8 164 556.8 164.4 556.4 164.7 556.4 165 556 165.4 556 165.7 555.7 166.1 555.7 166.4 555.3 166.8 555.3 167.1 554.9 167.5 554.9 167.8 554.6 168.2 554.5 168.5 554.2 168.8 554.2 169.2 553.8 169.5 553.8 169.9 553.4 170.2 553.4 170.6 553.1 170.9 553.1 171.2 552.7 171.6 552.7 171.9 552.3 172.3 552.3 172.6 552 173 552 173.3 551.6 173.7 551.6 174 551.2 174.4 551.2 174.7 550.9 175 550.8 175.4 550.5 175.7 550.5 176.1 550.1 176.4 550.1 176.7 549.8 177.1 549.7 177.4 549.4 177.8 549.4 178.1 549 178.5 549 178.8 548.6 179.2 548.6 179.5 548.3 179.9 548.3 180.2 547.9 180.6 547.9 180.9 547.5 181.2 547.5 181.6 547.2 181.9 547.1 182.3 546.8 182.6 546.8 182.9 546.4 183.3 546.4 183.6 546.1 184 546 184.3 545.7 184.7 545.7 185 545.3 185.4 545.3 185.7 544.9 186.1 544.9 186.4 544.6 186.8 544.5 187.1 544.2 187.4 544.2 187.8 543.8 188.1 543.8 188.4 543.5 188.8 543.4 189.1 543.1 189.5 543.1 189.8 542.7 190.2 542.7 190.5 542.4 190.9 542.3 191.2 542 191.6 542 191.9 541.6 192.3 541.6 192.6 541.3 193 541.2 193.3 540.9 193.7 540.8 194 540.5 194.3 540.5 194.6 540.1 195 540.1 195.3 539.8 195.7 539.7 196 539.4 196.4 539.4 196.7 539 197.1 539 197.4 538.7 197.8 538.6 198.1 538.3 198.5 538.2 198.8 537.9 199.2 537.9 199.5 537.6 199.9 537.5 200.2 537.2 200.6 537.1 200.8 536.8 201.3 536.8 201.5 536.5 202 536.4 202.2 536.1 202.7 536 202.9 535.8 203.3 535.7 203.6 535.4 204 535.3 204.3 535 204.3 489 118.6 489 118.6 579.4 118.2 579.7 118.2 580.8 116.9 582.3 116.5 582.3 116.2 582.7 115.8 582.7 115.5 583.1 115.1 583.1 114.4 583.8 114.1 583.8 113.8 584.2 113.4 584.2 113.1 584.5 112.7 584.5 112.4 584.9 112 584.9 111.7 585.3 111.3 585.3 111 585.7 110.7 585.7 110.3 586 110 586 109.6 586.4 109.3 586.4 108.9 586.8 108.6 586.8 108.2 587.1 107.9 587.1 107.6 587.5 107.2 587.5 106.9 587.9 106.5 587.9 106.2 588.2 105.8 588.3 105.5 588.6 105.1 588.6 104.8 589 104.5 589 104.1 589.4 103.8 589.4 103.4 589.7 103.1 589.7 102.7 590.1 102.4 590.1 102 590.5 101.7 590.5 101.4 590.8 101 590.8 100.7 591.2 100.3 591.2 100 591.6 99.6 591.6 99.3 592 98.9 592 98.6 592.3 98.3 592.3 97.9 592.7 97.6 592.7 97.2 593.1 96.9 593.1 96.5 593.4 96.2 593.4 95.9 593.8 95.5 593.8 95.2 594.2 94.8 594.2 94.5 594.5 94.1 594.5 93.8 594.9 93.4 594.9 93.1 595.3 92.8 595.3 92.4 595.7 92.1 595.7 91.7 596 91.4 596 91 596.4 90.7 596.4 90.3 596.8 90 596.8 89.7 597.1 89.3 597.1 89 597.5 88.6 597.5 88.3 597.9 87.9 597.9 87.6 598.2 87.2 598.3 86.9 598.6 86.6 598.6 86.2 599 85.9 599 85.5 599.4 85.2 599.4 84.8 599.7 84.5 599.7 84.1 600.1 83.8 600.1 83.5 600.5 83.1 600.5 82.8 600.8 82.4 600.8 82.1 601.2 81.7 601.2 81.4 601.6 81 601.6 80.7 601.9 80.4 602 80 602.3 79.7 602.3 79.3 602.7 79 602.7 78.6 603.1 78.3 603.1 78 603.4 77.6 603.4 77.3 603.8 76.9 603.8 76.6 604.2 76.2 604.2 75.9 604.5 75.5 604.5 75.2 604.9 74.8 604.9 74.5 605.3 74.2 605.3 73.8 605.7 73.5 605.7 73.1 606 72.8 606 72.4 606.4 72.1 606.4 71.8 606.8 71.4 606.8 71.1 607.1 70.7 607.1 70.4 607.5 70 607.5 69.7 607.9 69.3 607.9 69 608.2 68.6 608.3 68.3 608.6 68 608.6 67.6 609 67.3 609 66.9 609.4 66.6 609.4 66.2 609.7 65.9 609.7 65.6 610.1 65.2 610.1 64.9 610.5 64.5 610.5 64.2 610.8 63.8 610.8 63.5 611.2 63.1 611.2 62.8 611.6 62.4 611.6 62.1 611.9 61.8 612 61.4 612.3 61.1 612.3 60.7 612.7 60.4 612.7 60.1 613 59.7 613.1 59.4 613.4 59 613.4 58.7 613.8 58.3 613.8 58 614.2 57.6 614.2 57.3 614.5 56.9 614.5 56.6 614.9 56.2 614.9 55.9 615.3 55.6 615.3 55.2 615.6 54.9 615.7 54.5 616 54.2 616 53.9 616.4 53.5 616.4 53.2 616.7 52.8 616.8 52.5 617.1 52.1 617.1 51.8 617.5 51.4 617.5 51.1 617.9 50.7 617.9 50.4 618.2 50 618.3 49.7 618.6 49.4 618.6 49 619 48.7 619 48.4 619.3 48 619.4 47.7 619.7 47.3 619.7 47 620.1 46.6 620.1 46.3 620.4 45.9 620.5 45.6 620.8 45.2 620.8 44.9 621.2 44.5 621.2 44.2 621.5 43.8 621.6 43.5 621.9 43.1 622 42.8 622.3 42.5 622.3 42.2 622.7 41.8 622.7 41.5 623 41.1 623.1 40.8 623.4 40.4 623.4 40.1 623.8 39.7 623.8 39.4 624.1 39 624.2 38.7 624.5 38.3 624.6 38 624.9 37.6 624.9 37.3 625.2 36.9 625.3 36.6 625.6 36.2 625.7 36 626 35.5 626 35.3 626.3 34.8 626.4 34.6 626.7 34.1 626.8 33.9 627 33.5 627.1 33.2 627.4 32.8 627.5 32.5 627.8 32.5 673.8 32.9 673.8Z" fill="#80fa62" fill-rule="evenodd" clip-path="url(#disk_g)"/>
<path d="M108.7 666.3L104.4 665.3 100.3 664 96.2 662.5 92.3 660.6 88.4 658.6 84.6 656.3 77.5 651.1 70.8 645.2 64.7 638.7 61.8 635.2 53.8 624.3 50.9 620.8 49.9 619.9 49.1 619.4 48.3 619.4 47.7 619.7M113 666.1L109 664.5 105.1 662.5 101.4 660 97.9 657.3 91.4 651.3 88.3 648 82.5 641.2 68.9 623.1 66 619.7 63.3 617.2 61.2 615.9 59.3 615.4 57.1 615.4 55.2 615.9 53.2 616.7M114 662.5L111.8 658.4 108.2 650 105 641.4 99.2 623.9 96 615.2 94.2 611 92.1 607 90 604.4 88.2 602.8 86.3 602.1 84.2 601.9 82 602.2 79.6 603 76.5 604.3 61 612.3M190 618.6L193.7 605.2 194.7 600.7 196.1 591.6 196.6 582.3 196.3 573 195.1 563.8 193 554.8 190 544.7M193.7 590.9L194.1 581.7 193.8 572.4M128.1 496.5L132.4 497.5 136.5 498.8 140.6 500.3 144.5 502.2 148.4 504.2 152.2 506.5 159.3 511.7 166 517.6 172.1 524.1 177.7 531.2 183 538.5 185.9 542 186.9 542.9M123.8 496.7L127.8 498.3 131.7 500.3 135.4 502.8 138.9 505.5 145.4 511.5 148.5 514.8 154.3 521.6 167.9 539.7 170.8 543.1 173.5 545.6 175.6 546.9 177.5 547.4 179.7 547.4 181.6 546.9 183.6 546.1M122.8 500.3L125 504.4 128.6 512.8 131.8 521.4 137.6 538.9 140.8 547.6 142.6 551.8 144.7 555.8 146.8 558.4 148.6 560 150.5 560.7 152.6 560.9 154.8 560.6 157.2 559.8 160.3 558.5 175.8 550.5M46.8 544.2L43.1 557.6 42.1 562.1 40.7 571.2 40.2 580.5 40.5 589.8 41.7 599 43.8 608 46.5 616.8M43.1 571.9L42.7 581.1 43 590.4M105.1 657.7L102.2 654.2 97 646.8 92.2 639.1 83 623.4 80.6 619.5 78 615.9 74.9 612.7 72.6 611.2M188.5 609.8L190.6 596.1 191.3 586.8 191.4 582.2 191.4 577.5 190.8 568.2 190.2 563.6 188.8 554.5M131.7 505.1L134.6 508.6 139.8 516 144.6 523.7 153.8 539.4 156.2 543.3 158.8 546.9 161.9 550.1 164.2 551.6M48.3 553L46.2 566.7 45.5 576 45.4 580.6 45.4 585.3 46 594.6 46.6 599.2 48 608.3M90.8 655.7L84 650 77.7 643.7 71.8 636.9 60.7 622.7 57.6 619.5 56 618.3 54.4 617.6M107.5 656.8L105.1 652.9 100.7 644.9 90.8 624.3 86.6 616.2 84.1 612.4 81.7 609.5 79.5 607.9M114 652.9L106.6 611.9 104.4 602.9 102.8 598.6 101.5 596.3 100.1 595 98.6 594.4 97 594.3 95.2 594.7 90.2 596.8M184.9 614.8L184.4 611 185.8 588.7 185.9 579.5 185.6 570.2 184.5 556.3 184.4 551.6M146 507.1L152.8 512.8 159.1 519.1 165 525.9 176.1 540.1 179.2 543.3 180.8 544.5 182.4 545.2M129.3 506L131.7 509.9 136.1 517.9 146 538.5 150.2 546.6 152.7 550.4 155.1 553.3 157.3 554.9M122.8 509.9L130.2 550.9 132.4 559.9 134 564.2 135.3 566.5 136.7 567.8 138.2 568.4 139.8 568.5 141.6 568.1 146.6 566M51.9 548L52.4 551.8 51 574.1 50.9 583.3 51.2 592.6 52.3 606.5 52.4 611.2M73.1 651L66.4 645.1 63.2 641.9 57.5 635.1M182.1 614.1L181.1 612.2 180.4 610 179.9 605.4 179.8 600.8 180.1 582.2 179.8 559 180.2 554.3 180.8 551.5M161.6 510L165.1 512.7 171.7 518.7 177.7 525.4 183 532.7M54.7 548.7L55.7 550.6 56.4 552.8 56.9 557.4 57 562 56.7 580.6 57 603.8 56.6 608.5 56 611.3M91.8 643.4L79.5 624.3M176 610L174.4 606.6 173.5 603 172.9 598.6 172.7 593.9 172.5 584.6 172.6 570.7 173.2 561.4 174.2 556.9M176 600.5L175.8 591.2 176 563.3M170.5 526.6L181.6 540.8M145 519.4L157.3 538.5M60.8 552.8L62.4 556.2 63.3 559.8 63.9 564.2 64.1 568.9 64.3 578.2 64.2 592.1 63.6 601.4 62.6 605.9M60.8 562.3L61 571.6 60.8 599.5M66.3 636.2L55.2 622M114 638.6L112 620.2M122.8 524.2L124.8 542.6M167.1 605.2L164.8 601.4 163.5 597.6 162.7 593.2 162.2 588.6 162 579.3 162.2 574.6 162.7 570 163.5 565.5 165 561.2 166.6 558.4 168.6 556M167.1 600.5L166.2 595.9 165.7 591.3 165.5 586.7 165.5 577.4 166.1 568.1M69.7 557.6L72 561.4 73.3 565.2 74.1 569.6 74.6 574.2 74.8 583.5 74.6 588.2 74.1 592.8 73.3 597.3 71.8 601.6 70.2 604.4 68.2 606.8M69.7 562.3L70.6 566.9 71.1 571.5 71.3 576.1 71.3 585.4 70.7 594.7M106.2 633.6L101.5 615.7 98.6 607 96.5 602.9 94.9 600.6 93.2 599.3 91.4 598.7M130.6 529.2L135.3 547.1 138.2 555.8 140.3 559.9 141.9 562.2 143.6 563.5 145.4 564.1M158.3 600.5L155.9 596.7 154.5 592.9 153.7 588.7 153.3 584.1 153.3 579.4 153.6 574.8 154.4 570.2 155.7 566.6 157.2 563.8 159.3 561.3M158.3 595.7L157.3 591.2 156.8 586.6 156.6 582 156.7 577.3 157.1 572.7 158 568.2M78.5 562.3L80.9 566.1 82.3 569.9 83.1 574.1 83.5 578.7 83.5 583.4 83.2 588 82.4 592.6 81.1 596.2 79.6 599 77.5 601.5M78.5 567.1L79.5 571.6 80 576.2 80.2 580.8 80.1 585.5 79.7 590.1 78.8 594.6M140 534.1L145.5 546.7 147.6 550.8 149.6 553.8 151.4 555.9 153.9 557.6 155.9 558.2M96.8 628.7L91.3 616.1 89.2 612 87.2 609 85.4 606.9 82.9 605.2 80.9 604.6M114 614.8L113.2 605.5 112 596.3 111 591.8 110.3 589.9 109.4 588.7 108.4 588.1 107.2 588.1 106 588.4 98.1 592.4M149.4 595.7L147.5 592.5 146.3 589 145.6 585.1 145.5 580.5 145.9 575.9 147 571.4 148.4 568.6 150.4 566.1M122.8 548L123.6 557.3 124.8 566.5 125.8 571 126.5 572.9 127.4 574.1 128.4 574.7 129.6 574.7 130.8 574.4 138.7 570.4M87.4 567.1L89.3 570.3 90.5 573.8 91.2 577.7 91.3 582.3 90.9 586.9 89.8 591.4 88.4 594.2 86.4 596.7M146.7 595.8L144.6 594 142.8 591.8 141.4 589.3 140.6 586.2 140.1 581.6 140.5 577.2M90.1 567L92.2 568.8 94 571 95.4 573.5 96.2 576.6 96.7 581.2 96.3 585.6M118.5 581.8L118.4 581.3 118.3 581.5 118.5 580.4" fill="none" stroke="#6a97ea" stroke-width="0.6" stroke-linejoin="round"/>
<path d="M73.1 647.4L75.6 648.3L74.2 649.7ZM81.6 640.1L83.9 641.4L82.3 642.7ZM97.2 618.3L99 620.2L97.1 620.9ZM196.6 581L197.6 583.4L195.6 583.4ZM194.1 580.3L195.2 582.7L193.2 582.8ZM160.3 512.5L157.8 511.7L159.1 510.2ZM155.2 522.7L152.9 521.4L154.5 520.1ZM139.6 544.5L137.8 542.6L139.7 541.9ZM40.2 581.8L39.2 579.4L41.2 579.4ZM42.7 582.5L41.6 580.1L43.6 580ZM89.2 634.1L91.3 635.7L89.6 636.7ZM191.4 580.8L192.4 583.2L190.5 583.3ZM147.6 528.7L145.5 527.1L147.2 526.1ZM45.4 582L44.4 579.6L46.3 579.5ZM73.9 639.3L76.2 640.5L74.7 641.8ZM94.2 631.4L96.1 633.2L94.3 634ZM108.1 619.7L109.5 621.9L107.6 622.2ZM185.9 582.8L186.9 585.2L184.9 585.2ZM162.9 523.5L160.6 522.3L162.1 521ZM142.6 531.4L140.7 529.6L142.5 528.8ZM128.7 543.1L127.3 540.9L129.2 540.6ZM50.9 580L49.9 577.6L51.9 577.6ZM65.5 644.2L67.9 645.2L66.4 646.6ZM180.1 585.5L181.1 587.9L179.1 587.9ZM172.6 519.7L170.2 518.6L171.6 517.2ZM56.7 577.3L55.7 574.9L57.7 574.9ZM86.1 634.7L88.2 636.2L86.6 637.3ZM172.5 583.3L173.5 585.7L171.5 585.7ZM175.8 580.6L176.8 583L174.8 583ZM174.1 531.2L171.8 529.9L173.4 528.7ZM150.7 528.1L148.6 526.6L150.2 525.5ZM64.3 579.5L63.3 577.1L65.3 577.1ZM61 582.2L60 579.8L62 579.8ZM62.7 631.6L65 632.9L63.4 634.1ZM113.3 632.7L114.6 635L112.6 635.2ZM123.5 530.1L122.2 527.8L124.2 527.6ZM162 582.6L163 585L161.1 585ZM165.5 585.4L166.5 587.8L164.5 587.8ZM74.8 580.2L73.8 577.8L75.7 577.8ZM71.3 577.4L70.3 575L72.3 575ZM101.1 614.4L102.8 616.4L100.9 617ZM135.7 548.4L134 546.4L135.9 545.8ZM153.3 582.7L154.3 585.1L152.3 585.2ZM156.6 580.6L157.5 583.1L155.6 583ZM83.5 580.1L82.5 577.7L84.5 577.6ZM80.2 582.2L79.3 579.7L81.2 579.8ZM146.1 547.9L144.1 546.2L145.8 545.3ZM90.7 614.9L92.7 616.6L91 617.5ZM111.7 595L113.2 597.2L111.3 597.6ZM145.6 583.8L146.7 586.2L144.7 586.3ZM125.1 567.8L123.6 565.6L125.5 565.2ZM91.2 579L90.1 576.6L92.1 576.5ZM141.1 588L142.7 590.1L140.8 590.6ZM95.7 574.8L94.1 572.7L96 572.2ZM118.6 580.2L119.1 582.8L117.2 582.4Z" fill="#6a97ea"/>
<path d="M118.4 667.5L118.4 495.3" fill="none" stroke="#f4561e" stroke-width="1"/>
<path d="M46.7 619.9L190.1 542.9" fill="none" stroke="#f4561e" stroke-width="1"/>
<path d="M42.3 608.6L194.5 554.2" fill="none" stroke="#111" stroke-width="0.6" stroke-dasharray="1.6 1.1"/>
<path d="M118.4 542.4L117.3 539.7L119.5 539.7Z" fill="#f4561e"/>
<path d="M118.4 620.4L119.5 623.1L117.3 623.1Z" fill="#f4561e"/>
<path d="M150.8 564L152.6 561.8L153.6 563.7Z" fill="#f4561e"/>
<path d="M86 598.8L84.2 601L83.2 599.1Z" fill="#f4561e"/>
</g>
<rect x="34.2" y="490.8" width="168.4" height="181.2" fill="none" stroke="#333" stroke-width="0.4"/>
<text x="38.2" y="679.7" font-size="6.7" text-anchor="middle">−1.0</text>
<text x="78.3" y="679.7" font-size="6.7" text-anchor="middle">−0.5</text>
<text x="118.4" y="679.7" font-size="6.7" text-anchor="middle">0.0</text>
<text x="158.5" y="679.7" font-size="6.7" text-anchor="middle">0.5</text>
<text x="198.6" y="679.7" font-size="6.7" text-anchor="middle">1.0</text>
<text x="32" y="670" font-size="6.7" text-anchor="end">−1.00</text>
<text x="32" y="648.5" font-size="6.7" text-anchor="end">−0.75</text>
<text x="32" y="627" font-size="6.7" text-anchor="end">−0.50</text>
<text x="32" y="605.4" font-size="6.7" text-anchor="end">−0.25</text>
<text x="32" y="583.9" font-size="6.7" text-anchor="end">0.00</text>
<text x="32" y="562.4" font-size="6.7" text-anchor="end">0.25</text>
<text x="32" y="540.8" font-size="6.7" text-anchor="end">0.50</text>
<text x="32" y="519.3" font-size="6.7" text-anchor="end">0.75</text>
<text x="32" y="497.8" font-size="6.7" text-anchor="end">1.00</text>
<path d="M38.2 672v2.4M78.3 672v2.4M118.4 672v2.4M158.5 672v2.4M198.6 672v2.4M34.2 667.5h-2.4M34.2 646h-2.4M34.2 624.5h-2.4M34.2 602.9h-2.4M34.2 581.4h-2.4M34.2 559.9h-2.4M34.2 538.3h-2.4M34.2 516.8h-2.4M34.2 495.3h-2.4" stroke="#000" stroke-width="0.55" fill="none"/>
<rect x="117.1" y="580.1" width="2.6" height="2.6" fill="#000"/>
<rect x="117.6" y="494.5" width="1.6" height="1.6" fill="#000"/>
<rect x="117.6" y="666.7" width="1.6" height="1.6" fill="#000"/>
<rect x="189.3" y="542.1" width="1.6" height="1.6" fill="#000"/>
<rect x="45.9" y="619.1" width="1.6" height="1.6" fill="#000"/>
<rect x="45.9" y="542.1" width="1.6" height="1.6" fill="#000"/>
<rect x="189.3" y="619.1" width="1.6" height="1.6" fill="#000"/>
<text x="113.4" y="578.2" font-size="9.6" text-anchor="start">A</text>
<text x="107.2" y="590" font-size="9.6" font-style="italic" text-anchor="start">B<tspan dx="0.3" dy="3" font-size="8.16" font-style="normal">−</tspan></text>
<text x="120.8" y="590" font-size="9.6" font-style="italic" text-anchor="start">B<tspan dx="1.6" dy="2" font-size="6.912" font-style="normal">+</tspan></text>
<text x="119.7" y="503.3" font-size="9.6" font-style="italic" text-anchor="start">E<tspan dx="1.6" dy="2" font-size="6.912" font-style="normal">+</tspan></text>
<text x="120" y="664.7" font-size="9.6" font-style="italic" text-anchor="start">E<tspan dx="0.3" dy="3" font-size="8.16" font-style="normal">−</tspan></text>
<text x="191.1" y="550.1" font-size="9.6" font-style="italic" text-anchor="start">F<tspan dx="1.6" dy="2" font-size="6.912" font-style="normal">+</tspan></text>
<text x="48.9" y="627.7" font-size="9.6" font-style="italic" text-anchor="start">F<tspan dx="0.3" dy="3" font-size="8.16" font-style="normal">−</tspan></text>
<text x="48.7" y="550.3" font-size="9.6" font-style="italic" text-anchor="start">D<tspan dx="0.3" dy="3" font-size="8.16" font-style="normal">−</tspan></text>
<text x="190.3" y="627.7" font-size="9.6" font-style="italic" text-anchor="start">D<tspan dx="1.6" dy="2" font-size="6.912" font-style="normal">+</tspan></text>
</g>
<text x="118.4" y="691" font-size="11" font-style="italic" text-anchor="middle">ϕ<tspan font-size="7" dy="2">p</tspan></text>
<text transform="translate(8 581.4) rotate(-90)" font-size="11" font-style="italic" text-anchor="middle">z<tspan font-size="7" dy="2">p</tspan></text>
<g id="panel_h">
<clipPath id="clip_h"><rect x="274.8" y="490.8" width="168.8" height="181.2"/></clipPath>
<rect x="274.8" y="490.8" width="168.8" height="181.2" fill="#fff"/>
<g clip-path="url(#clip_h)">
<clipPath id="dom_h"><rect x="292.3" y="506.5" width="128.2" height="149.8"/></clipPath>
<g clip-path="url(#dom_h)">
<path d="M292.6 656.3L297.7 656.3 296.5 647.3 295.4 637.9 294.4 628.5 293.7 619.1 293.1 609.7 292.7 600.4 292.4 591 292.3 581.6 292.4 572.2 292.6 562.8 293.1 553.4 293.6 544.1 294.4 534.7 295.3 525.3 296.4 515.9 297.7 506.5 292.3 506.5 292.3 656.3 292.6 656.3Z" fill="#808080" fill-rule="evenodd"/>
<path d="M297.8 656.3L420.5 656.3 420.5 506.5 297.7 506.5 296.4 515.9 295.3 525.3 294.4 534.7 293.6 544.1 293.1 553.4 292.6 562.8 292.4 572.2 292.3 582 292.4 591.7 292.7 601.1 293.1 610.5 293.7 619.9 294.6 630 295.6 639.8 297 651.8 297.7 656.3 297.8 656.3Z" fill="#c9f8b0" fill-rule="evenodd"/>
<path d="M327 656L327.4 656.3 420.5 656.3 420.5 522 408.6 526 397 530.2 386.1 534.3 375.8 538.4 366 542.6 356.9 546.7 348.3 550.8 339.6 555.3 332.3 559.4 325.5 563.6 319.3 567.7 313.2 572.2 308.3 576.3 303.9 580.5 299.8 585 296.6 589.1 294.4 592.5 292.6 595.8 292.6 598.1 293.1 609.4 294.2 626.3 296.6 630 299.5 633.8 302.9 637.5 306.8 641.3 311.2 645 316.1 648.8 321.5 652.5 327 656Z" fill="#80fa62" fill-rule="evenodd"/>
<path d="M337.1 365.2L347.3 345.8 358.3 326.4 365.1 315.2 372 304.4 376.6 297.6 377.6 296.3 378 296 378 296.2 376.5 299.7 362.7 327.9 352.4 350.8 344.8 369 341 378.7 333.6 399.3 330 410.1 326.6 421.1 323.3 432.4 320.3 443.9 317.4 455.6 314.7 467.5 312.3 479.6 310.2 491.8 308.3 504.2 306.6 516.7 305.3 529.3 304.2 542.1 303.5 554.9 303.1 567.9 303 580.9 303.1 591.7 303.6 604.3 304.3 616.5 305.4 629.2 306.7 641.5 308.3 653.8 310.2 666.2 312.4 678.6 314.9 691 319.4 710.3 324.6 729.6 330.6 749 337.3 768.4 344.7 787.9 352.9 807.3 361.6 826.1 371.2 845.4 381.5 864.6 392.4 883.5 404.2 902.7 416.4 921.2 429.3 939.8 442.8 958 456.9 975.9 471 992.8 484.1 1007.6 497.5 1021.7 512.5 1036.4 529.6 1052.3 548.9 1069.5 569.2 1086.8 590.5 1104.3 612.2 1121.4 634.1 1138.1 656.5 1154.5 679.4 1170.7 703.4 1187.1 727.6 1203.1 752.7 1219.2 778.1 1235 804.7 1250.9 831.5 1266.6 858.4 1281.8 885.9 1296.9 914.7 1312.2 943.8 1327.3 972.9 1342 1003 1356.7 1033.9 1371.5 1065.7 1386.2 1096.8 1400.2 1129.9 1414.7 1163.4 1429.1 1197.3 1443.1 1231.3 1456.9 1265.4 1470.4 1301.3 1484.2 1339.2 1498.3 1376.9 1512.1 1416.6 1526.1 1455.8 1539.7 1494.4 1552.6 1534.8 1565.8 1577.1 1579.3 1618.4 1592 1661.5 1605 1703.3 1617.2 1746.7 1629.6 1791.9 1642.2 1835.2 1653.9 1880.2 1665.7 1926.9 1677.6 1971.2 1688.6 2016.9 1699.6 2064.3 1710.7 2113.2 1721.9 2159 1732 2206.3 1742.2 2254.9 1752.3 2305 1762.5 2356.5 1772.6 2409.4 1782.7 2458.4 1791.7 2508.6 1800.6 2560 1809.5 2612.6 1818.3 2660.5 1826.1 2715.5 1834.7 2765.5 1842.2 2822.9 1850.5 2875 1857.8 2928.1 1865 2982.2 1872 3037.2 1878.9 3093.3 1885.6 3150.2 1892.1 3200.9 1897.6 3259.6 1903.8 3311.8 1909 3372.3 1914.7 3425.9 1919.6 3480.1 1924.2 3535 1928.7 3590.5 1932.9 3646.6 1936.9 3703.3 1940.7 3760.5 1944.3 3818.2 1947.7 3876.4 1950.8 3935 1953.7 3994.1 1956.3 4053.6 1958.7 4104.8 1960.5 4165 1962.4 4225.4 1964 4286.1 1965.3 4338.2 1966.2 4399.3 1967 4451.8 1967.5 4513.1 1967.8 4565.7 1967.8 4511.6 1967.8 4449.7 1967.5 4395.7 1967 4334 1966.2 4280.2 1965.2 4218.9 1963.8 4165.5 1962.4 4104.6 1960.5 4051.7 1958.6 3991.5 1956.2 3931.6 1953.5 3872.2 1950.6 3820.5 1947.8 3761.9 1944.4 3703.8 1940.8 3646.3 1936.9 3589.3 1932.8 3532.8 1928.5 3477 1924 3421.7 1919.2 3367.1 1914.3 3313.2 1909.1 3260 1903.8 3200.9 1897.6 3149.2 1892 3091.8 1885.4 3035.4 1878.7 2979.9 1871.7 2925.4 1864.6 2871.8 1857.4 2819.2 1850 2767.6 1842.5 2717 1834.9 2661.8 1826.3 2613.3 1818.4 2560.5 1809.6 2508.9 1800.7 2458.5 1791.7 2409.2 1782.6 2356.4 1772.6 2309.7 1763.4 2259.5 1753.3 2210.8 1743.1 2163.4 1733 2117.3 1722.8 2068.5 1711.7 2021.2 1700.6 1975.4 1689.6 1931 1678.6 1884.4 1666.8 1839.5 1655 1792.9 1642.4 1748 1630 1704.8 1617.7 1663.1 1605.5 1620.3 1592.6 1579.1 1579.9 1537.1 1566.5 1496.8 1553.4 1455.9 1539.7 1416.8 1526.2 1377.4 1512.2 1339.8 1498.6 1302 1484.4 1266.1 1470.7 1232 1457.2 1197.9 1443.4 1163.9 1429.3 1130.3 1414.9 1098.5 1401 1067.1 1386.8 1035 1372 1004.8 1357.6 974.2 1342.6 944.5 1327.7 915.8 1312.8 887.2 1297.6 859.8 1282.6 831.9 1266.8 805.5 1251.4 778.5 1235.2 752.5 1219.1 727.1 1202.8 702.4 1186.5 678.2 1169.9 654.7 1153.2 632.4 1136.8 610.8 1120.3 591.9 1105.2 574.6 1090.8 558.8 1077.1 543.9 1063.4 529.2 1049.1 514.2 1033.7 499.3 1017.7 484.9 1001.3 469.5 983 455.1 965 440.8 946 427.8 927.6 415.5 909.3 403.5 890.3 392 870.9 381.8 852.5 372.4 834.2 363.2 815 354.6 795.2 347 776.3 340.1 757.5 333.8 738 328.2 718.4 323.4 699.4 320.4 685.9 317.9 672.6 315.6 659.2 313.8 646.2 312.2 632.9 311 619.7 310.1 606.4 309.6 593.3 309.4 581 309.6 571.6 309.6 562.3 310.1 550.4 310.8 537.7 312 524.2 313.6 510.3 315.5 496.3 317.6 483.7 319.9 471.6 322.7 458.4 326.2 443.9 329.5 431.1 333.4 417.7 337.8 403.9 342.6 389.8 346.8 378.4 351.1 367.2 356.7 353.6 362.4 340.5 368.1 328.3 373.5 317.1 379.4 305.1 386.3 292 398 270.2 399.8 266.5 400.4 264.9 400.2 264.8 399.6 265.2 397.3 267.9 388.9 279.3 378.5 294.4 368.3 310.2 359.8 323.9 351.8 337.6 344.3 351.4 337.1 365.2Z" fill="#ff0000" fill-opacity="0.2" clip-path="url(#dom_h)"/>
<path d="M301.2 656.3L299.2 641.5 297.7 626.6 296.6 611.7 295.6 591.8 295.1 592.2 294.6 593.2 294.5 593.1 293.1 594.7 292.7 595.8M305.6 656.3L303.6 641.5 302.1 626.6 300.7 606.7 299.9 586 299.8 585.8 299.4 586.3M310 656.3L307.5 636.5 305.7 616.7 304.6 596.8 304.4 586.8 304.4 579.5 306.2 577.4 306.8 576.1 308.9 573.8 309.8 572.2 310.9 571 317.9 561.7 332.5 543.1 350.4 521.4 363.1 506.5M314.4 656.3L311.9 636.5 310 616.7 309 596.8 308.7 586.8 308.7 576.8M318.8 656.3L316.8 641.5 315.7 631.6 314.1 611.7 313.2 591.8 313.1 581.8 313.2 571.8M323.3 656.3L321.2 641.5 320.1 631.6 318.5 611.7 317.7 596.8 317.5 586.8 317.5 576.8 317.8 566.8M327.7 656.3L325.7 641.5 324.5 631.6 323.2 616.7 322.6 606.7 322 591.8 321.9 581.8 322 571.8 322.5 561.9M332.1 656.3L330.1 641.5 328.9 631.6 327.6 616.7 327 606.7 326.4 591.8 326.3 581.8 326.5 566.8 327.2 556.9M336.5 656.3L334.5 641.5 332.9 626.6 331.7 611.7 331.1 601.8 330.7 586.8 330.7 576.8 331.2 561.9 331.9 551.9M340.9 656.3L338.9 641.5 337.3 626.6 336.1 611.7 335.3 596.8 335.1 581.8 335.3 566.8 336.3 551.9 337.5 542M345.4 656.3L342.7 636.6 341.2 621.7 339.9 601.8 339.5 586.8 339.7 566.8 340.6 551.9 341.7 542 342.5 537.1 343.7 532.3M349.8 656.3L347.1 636.6 345.7 621.7 344.6 606.8 344 591.8 343.9 576.8 344.4 561.9 345.4 546.9 346.7 537.1M354.2 656.3L351.6 636.6 349.7 616.7 348.6 596.8 348.3 581.8 348.4 571.8 348.8 561.9 349.8 546.9 350.9 537 351.7 532.1 352.7 527.3 353.9 522.5M358.6 656.3L356 636.6 354.1 616.7 353 596.8 352.7 581.8 353.2 561.9 354.2 546.9 356 532.1 357.8 522.4 359.1 517.6M363.1 656.3L361 641.5 359.8 631.6 358.1 611.7 357.3 591.8 357.3 571.8 357.6 561.9 358.2 551.9 359.1 542 360.3 532.1 362 522.3 363 517.5 364.3 512.7 366.6 506.5M367.5 656.3L364.8 636.6 362.9 616.7 361.8 596.8 361.6 576.8 361.8 566.8 362.3 556.9 363.5 542 365.4 527.2 367.2 517.4 368.3 512.6M371.9 656.3L369.2 636.6 367.3 616.7 366.2 596.8 366 576.8 366.7 556.9 367.4 546.9 368.4 537 370.5 522.2 372.4 512.5 374 506.5M376.3 656.3L373.6 636.6 372.1 621.7 371.1 606.8 370.5 591.8 370.4 576.8 370.8 561.9 371.8 546.9 373.4 532.1M380.7 656.3L378.1 636.6 376.2 616.7 375.1 596.8 374.8 576.8 375.5 556.9 376.2 546.9 377.2 537 379.2 522.2 380.9 512.5 382.2 506.5M385.2 656.3L382.5 636.6 380.6 616.7 379.5 596.8 379.3 576.8 379.9 556.9 381.1 542 382.1 532.1 383.5 522.2 386.5 506.5M389.6 656.3L386.9 636.6 385 616.7 383.9 596.8 383.7 576.8 384.3 556.9 385.5 542 386.5 532.1 387.9 522.2 390.8 506.5M394 656.3L391.3 636.6 389.4 616.7 388.3 596.8 388.1 576.8 388.8 556.9 389.9 542 390.9 532.1 392.3 522.2 395.1 506.5M398.4 656.3L395.7 636.6 393.8 616.7 392.8 596.8 392.5 576.8 393.2 556.9 394.3 542 395.3 532.1 396.7 522.2 399.4 506.5M402.8 656.3L400.2 636.6 398.3 616.7 397.2 596.8 396.9 576.8 397.6 556.9 398.7 542 399.8 532.1 401.1 522.2 403.7 506.5M407.3 656.3L404.6 636.6 402.7 616.7 401.6 596.8 401.4 576.8 402 556.9 403.1 542 404.2 532.1 405.5 522.2 408.1 506.5M411.7 656.3L409 636.6 407.1 616.7 406 596.8 405.8 576.8 406.4 556.9 407.5 542 408.6 532.1 409.9 522.2 412.5 506.5M416.1 656.3L413.4 636.6 411.5 616.7 410.4 596.8 410.2 576.8 410.9 556.9 412 542 413 532 414.3 522.2 416.8 506.5M420.5 656.3L417.8 636.6 415.9 616.7 414.9 596.8 414.6 581.8 415 561.9 415.9 546.9 416.8 537 418 527.1 420.5 510.4M420.5 635.6L419.1 620.7 418.3 610.8M420.5 604.6L420 589.7 419.9 579.7 420.1 569.7 420.5 558.5M418.7 552.2L420.5 532.3M345.4 506.5L345 516.5 345.4 521.4 345.7 522.7 346.2 523.5 346.9 523.7 347.6 523.5M340.9 506.5L340.3 516.5 340.1 521.5 340.2 526.4 340.7 529.3M336.5 506.5L335.6 516.5 335.1 526.4 335.1 531.4 335.3 534.8M332.1 506.5L330.7 521.4 330 536.4M327.7 506.5L326.1 521.4 325.4 531.3 324.9 541.3 324.9 546.3 325.1 549.5M323.3 506.5L321.6 521.4 320.8 531.3 320.2 541.3 319.9 551.2M318.8 506.5L317.1 521.4 316.2 531.3 315.3 546.2 314.9 556.2M314.4 506.5L312.7 521.4 311.3 536.2 310.4 551.2 310.1 561.2M310 506.5L308.2 521.3 306.8 536.2 305.8 551.2 305.3 566.1M305.6 506.5L303.2 526.3 301.6 546.2 300.8 561.1 300.5 581.1M301.2 506.5L298.7 526.3 297.1 546.2 296.1 566.1 295.9 590.7 295.9 591.1 295.4 591.7M374.4 521.4L376.3 511.7 377.5 506.5M298.1 506.5L296.2 521.8M298.7 656.3L296.7 640.8" fill="none" stroke="#6a97ea" stroke-width="0.6" stroke-linejoin="round"/>
<path d="M297.2 620.3L298.4 622.7L296.4 622.8ZM301.6 620.3L302.7 622.7L300.8 622.8ZM309.9 572L309.4 574.6L307.8 573.5ZM309.9 615.4L311.1 617.7L309.1 617.9ZM314.3 615.4L315.5 617.7L313.5 617.9ZM318.4 610.4L319.5 612.8L317.5 612.9ZM322.8 610.4L323.9 612.8L321.9 612.9ZM326.9 605.4L328 607.8L326 607.9ZM331.3 605.4L332.4 607.8L330.4 607.9ZM335.5 600.4L336.6 602.8L334.6 602.9ZM339.7 595.5L340.8 597.9L338.8 597.9ZM344.1 595.5L345.2 597.9L343.2 597.9ZM348.4 590.5L349.4 592.9L347.5 592.9ZM352.8 590.5L353.9 592.9L351.9 592.9ZM357.2 580.5L358.1 582.9L356.2 582.9ZM361.6 585.5L362.6 587.9L360.6 587.9ZM366 580.5L367 582.9L365 582.9ZM370.6 595.5L371.7 597.9L369.7 597.9ZM374.8 580.5L375.8 582.9L373.8 582.9ZM379.2 580.5L380.2 582.9L378.2 582.9ZM383.7 580.5L384.6 582.9L382.7 582.9ZM388.1 580.5L389.1 582.9L387.1 582.9ZM392.5 580.5L393.5 582.9L391.5 582.9ZM396.9 580.5L397.9 582.9L395.9 582.9ZM401.3 580.5L402.3 582.9L400.3 582.9ZM405.8 580.5L406.7 582.9L404.8 582.9ZM410.2 580.5L411.2 582.9L409.2 582.9ZM414.6 585.5L415.6 587.9L413.7 587.9ZM419.4 624.4L420.6 626.7L418.6 626.9ZM420 583.4L420.9 585.8L419 585.8ZM419.2 545.9L420 548.4L418 548.2ZM345.1 512.8L344.1 510.4L346.1 510.4ZM340.2 517.8L339.3 515.3L341.3 515.4ZM335.6 517.8L334.7 515.3L336.7 515.4ZM330.6 522.7L329.8 520.2L331.8 520.4ZM325.6 527.7L324.8 525.2L326.8 525.3ZM321.1 527.7L320.3 525.2L322.3 525.3ZM316.1 532.6L315.3 530.1L317.3 530.3ZM311.6 532.6L310.8 530.1L312.8 530.3ZM306.7 537.5L305.9 535.1L307.9 535.2ZM301.8 542.5L301 540L303 540.2ZM297 547.5L296.1 545L298.1 545.1ZM375.6 515.2L376.1 517.8L374.1 517.4ZM297.2 513.2L296.5 510.7L298.5 510.9ZM297.8 649.4L299.1 651.6L297.1 651.9Z" fill="#6a97ea"/>
<path d="M303 581.9L303.4 599.4 304.3 617 305.9 634.8 308.1 652.1 310.8 669.5 314.1 687 318 704.6 322.5 722.2 327.7 739.9 333.2 757 339.6 774.7 346.3 791.9 353.9 809.6 361.8 826.7 370.3 843.7 379.6 861.2 389.4 878.5 399.7 895.6 410.8 912.8 422.3 929.9 434.1 946.4 446.7 963 459.4 979 472.3 994.3 483.6 1007 495.1 1019.2 507.4 1031.5 521.3 1044.7 537.5 1059.5 554.5 1074.4 572.2 1089.4 590.5 1104.3 610.8 1120.3 631.5 1136.1 652.8 1151.8 674.9 1167.6 697.8 1183.4 720.9 1198.8 744.8 1214.2 768.8 1229.2 793.7 1244.4 819.6 1259.7 845.5 1274.6 872.7 1289.7 899.5 1304.2 927.4 1318.9 956.4 1333.8 985.3 1348.1 1015.1 1362.6 1045.6 1376.9 1075.4 1390.6 1107.1 1404.8 1139.2 1418.8 1171.7 1432.5 1204.3 1446 1236.9 1459.1 1271.2 1472.6 1305.4 1485.7 1339.2 1498.3 1374.6 1511.2 1409.4 1523.6 1445.8 1536.2 1484 1549.1 1521.2 1561.4 1560 1573.9 1597.6 1585.6 1636.7 1597.6 1674.2 1608.8 1713.1 1620.1 1753.5 1631.5 1795.4 1643.1 1835.2 1653.9 1876.4 1664.7 1915 1674.6 1958.9 1685.6 2000.1 1695.6 2042.6 1705.7 2086.3 1715.8 2131.4 1725.9 2173.1 1735.1 2215.9 1744.2 2259.8 1753.3 2305 1762.5 2351.2 1771.6 2398.7 1780.6 2441.9 1788.7 2486.1 1796.7 2531.3 1804.6 2577.4 1812.5 2624.5 1820.3 2672.6 1828 2721.7 1835.6 2771.8 1843.1 2816.5 1849.6 2868.4 1856.9 2914.7 1863.2 2968.6 1870.3 3016.5 1876.3 3065.1 1882.3 3114.5 1888 3164.6 1893.7 3215.5 1899.2 3267.1 1904.6 3311.8 1909 3364.7 1914 3418.2 1918.9 3472.3 1923.6 3519.3 1927.4 3574.6 1931.7 3622.5 1935.2 3678.9 1939.1 3727.7 1942.3 3785.1 1945.8 3834.7 1948.6 3884.7 1951.2 3935 1953.7 3994.1 1956.3 4045.1 1958.3 4096.3 1960.2 4147.7 1961.8 4199.4 1963.3 4251.3 1964.6 4303.4 1965.6 4355.7 1966.5 4408 1967.1 4460.5 1967.6 4513.1 1967.8 4565.7 1967.8" fill="none" stroke="#f4561e" stroke-width="0.85"/>
<path d="M303 580.9L303.1 567.9 303.5 554.9 304.2 542.1 305.3 529.3 306.6 516.7 308.3 504.2 310.2 491.8 312.3 479.6 314.7 467.5 317.4 455.6 320.3 443.9 323.3 432.4 326.6 421.1 330 410.1 333.6 399.3 337.3 388.8 341 378.7 344.8 369 352.4 350.8 359.5 334.9 365.7 321.7 376.5 299.7 377.6 297.2 378 296.2 378 296 377.6 296.3 376.6 297.6 372 304.4 365.1 315.2 358.3 326.4 352.7 336.1 347.3 345.8 342.1 355.5 337.1 365.2" fill="none" stroke="#f4561e" stroke-width="0.85"/>
<path d="M303 581.4L292.5 596.1" fill="none" stroke="#ee1111" stroke-width="0.9"/>
<path d="M303 581.4L317.1 562.5 331.8 543.6 347.4 524.7 363.7 505.8" fill="none" stroke="#ee1111" stroke-width="1.4"/>
<path d="M292.5 595.9L307.3 575.5 318.9 559.7" fill="none" stroke="#111" stroke-width="0.6"/>
<path d="M334.6 540.1L333.1 545.4L329.8 542.8Z" fill="#ee1111"/>
</g>
</g>
<rect x="274.8" y="490.8" width="168.8" height="181.2" fill="none" stroke="#333" stroke-width="0.4"/>
<text x="292.3" y="679.7" font-size="6.7" text-anchor="middle">−1.00</text>
<text x="335.1" y="679.7" font-size="6.7" text-anchor="middle">−0.99</text>
<text x="377.8" y="679.7" font-size="6.7" text-anchor="middle">−0.98</text>
<text x="420.5" y="679.7" font-size="6.7" text-anchor="middle">−0.97</text>
<text x="272.6" y="673.8" font-size="6.7" text-anchor="end">−0.06</text>
<text x="272.6" y="643.8" font-size="6.7" text-anchor="end">−0.04</text>
<text x="272.6" y="613.9" font-size="6.7" text-anchor="end">−0.02</text>
<text x="272.6" y="583.9" font-size="6.7" text-anchor="end">0.00</text>
<text x="272.6" y="553.9" font-size="6.7" text-anchor="end">0.02</text>
<text x="272.6" y="524" font-size="6.7" text-anchor="end">0.04</text>
<text x="272.6" y="494" font-size="6.7" text-anchor="end">0.06</text>
<path d="M292.3 672v2.4M335.1 672v2.4M377.8 672v2.4M420.5 672v2.4M274.8 671.3h-2.4M274.8 641.3h-2.4M274.8 611.4h-2.4M274.8 581.4h-2.4M274.8 551.4h-2.4M274.8 521.5h-2.4M274.8 491.5h-2.4" stroke="#000" stroke-width="0.55" fill="none"/>
<rect x="302.1" y="580.5" width="1.8" height="1.8" fill="#000"/>
<rect x="291.8" y="595.3" width="1.5" height="1.5" fill="#000"/>
<text x="304.5" y="589.6" font-size="9.6" font-style="italic" text-anchor="start">B<tspan dx="0.3" dy="3" font-size="8.16" font-style="normal">−</tspan></text>
<text x="282" y="604.1" font-size="9.6" font-style="italic" text-anchor="start">F<tspan dx="0.3" dy="3" font-size="8.16" font-style="normal">−</tspan></text>
</g>
<text x="359.2" y="691" font-size="11" font-style="italic" text-anchor="middle">ϕ<tspan font-size="7" dy="2">p</tspan></text>
<text transform="translate(247 581.4) rotate(-90)" font-size="11" font-style="italic" text-anchor="middle">z<tspan font-size="7" dy="2">p</tspan></text>
<g id="panel_i">
<clipPath id="clip_i"><rect x="512.3" y="490.8" width="168.5" height="181.2"/></clipPath>
<rect x="512.3" y="490.8" width="168.5" height="181.2" fill="#fff"/>
<g clip-path="url(#clip_i)">
<rect x="512.3" y="490.8" width="168.5" height="181.2" fill="#808080"/>
<clipPath id="disk_i"><ellipse cx="596.5" cy="581.4" rx="80.2" ry="86.1"/></clipPath>
<ellipse cx="596.5" cy="581.4" rx="80.2" ry="86.1" fill="#fff"/>
<path d="M584 673.8L682.5 673.8 682.5 614.6 674.6 616.9 667.3 619.2 660.4 621.7 653.6 624.4 647 627.2 640.8 630.2 634.6 633.5 628.8 636.8 622.6 640.7 616.7 644.7 610.8 649.1 605.3 653.5 599.5 658.5 593.6 663.9 586 671.4 583.7 673.8 584 673.8ZM511 548.1L518.5 545.9 525.8 543.6 532.7 541.1 539.5 538.4 546.1 535.6 552.3 532.6 558.5 529.3 564.3 526 570.2 522.3 576.1 518.3 581.6 514.3 587.1 509.9 592.6 505.2 598.1 500.2 603.6 494.9 609.4 489 510.6 489 510.6 548.2 511 548.1Z" fill="#d2d2d2" fill-rule="evenodd" clip-path="url(#disk_i)"/>
<path d="M578.5 673.8L583.7 673.8 590.9 666.5 597.8 660 604.6 654 611.9 648.2 611.3 648.3 610.6 648.6 605 651.8 600.2 655 595.3 658.5 590.5 662.4 585.7 666.6 579.5 672.5 578.2 673.8 578.5 673.8ZM612.2 648L612.4 647.9 612.1 647.9 612.2 648ZM580.9 514.9L581 514.9 580.9 514.8 580.7 514.9 580.9 514.9ZM581.2 514.6L581.8 514.5 582.5 514.2 588.1 511 592.6 508.1 597.4 504.6 601.9 501 606 497.5 610.5 493.3 614.9 489 609.4 489 602.2 496.3 595.3 502.8 588.5 508.8 581.2 514.6Z" fill="#ffff00" fill-rule="evenodd" clip-path="url(#disk_i)"/>
<path d="M511 673.8L576.4 673.8 602.6 649.9 628.8 626.8 655.3 604.3 682.5 582 682.5 489 616.7 489 590.5 512.9 564.3 536 537.8 558.5 510.6 580.8 510.6 673.8 511 673.8Z" fill="#c9f8b0" fill-rule="evenodd" clip-path="url(#disk_i)"/>
<path d="M511 673.8L574.7 673.8 581.9 667.6 589.5 660.7 597.1 653.2 604.6 645.3 613.9 634.9 623.2 623.7 632.2 612.2 640.8 600.3 649.1 588 656.6 576 663.5 563.9 669.8 552 673.5 544.2 677 536.4 680 529 682.5 522.2 682.5 489 618.4 489 611.2 495.2 603.6 502.1 596 509.6 588.5 517.5 578.8 528.3 569.5 539.5 560.6 551 551.9 563 543.7 575.3 536.1 587.5 529.2 599.5 523 611.4 519.4 619 516.1 626.4 513.1 633.8 510.6 640.6 510.6 673.8 511 673.8Z" fill="#80fa62" fill-rule="evenodd" clip-path="url(#disk_i)"/>
<path d="M581 664.9L573.9 662.4 567 659.1 560.5 655.1 557.4 652.9 551.5 648 546 642.5 543.4 639.6 538.6 633.4 536.4 630.2 532.3 623.5 525.7 611.6 524.9 610.7 524.2 610.6 523.6 610.9 522.8 612.1M588.9 663.8L585.6 661.9 582.6 659.5 579.8 656.8 577.2 653.9 574.8 650.8 572.6 647.6 568.6 640.8 566.8 637.2 563.6 629.9 562.2 626.2 559.8 618.6 557.7 610.8 556.1 603 554.6 591 554.2 583 554.2 578.9 554.8 570.9 555.4 567 556.3 563.1 557.5 559.2 558.9 555.5 562.3 548.3 568.4 538.2 575 528.5 584.4 515.9 591.8 506.9M668.7 617.4L671.2 609.8 673.1 602 674.5 594.1 675.2 586.1 675.3 578 674.7 570 673.4 562.1 671.1 552M612.1 497.9L619.2 500.4 622.7 501.9 629.3 505.6 635.7 509.9 638.7 512.3 644.4 517.5 649.7 523.2 652.1 526.3 656.7 532.6 660.8 539.3 667.4 551.2M604.2 499L607.5 500.9 610.5 503.3 613.3 506 615.9 508.9 618.3 512 620.5 515.2 624.5 522 626.3 525.6 629.5 532.9 630.9 536.6 633.3 544.2 635.4 552 637 559.8 638.5 571.8 638.9 579.8 638.9 583.9 638.3 591.9 637.7 595.8 636.8 599.7 635.6 603.6 634.2 607.3 630.8 614.5 624.7 624.6 618.1 634.3 608.7 646.9 601.3 655.9M524.4 545.4L521.9 553 520 560.8 518.6 568.7 517.9 576.7 517.8 584.8 518.4 592.8 519.7 600.7 521.5 608.6M576.9 661.5L570.4 657.6 564.3 652.9 558.6 647.6 556 644.8 551 638.7 546.5 632.3 542.5 625.5 538.8 618.5 533.9 607.7 532.1 604.1 531.2 602.6 530.3 601.8 529.4 601.8 528.7 602.2 528 603 526 606.2M590.8 661.7L588.9 659.6 586.7 656.4 584.8 652.9 581.7 645.6 579.2 638 577.2 630.2 575 618.4 573.8 610.5 572.7 598.4 572.1 586.4 572.1 578.3 572.6 566.3 573.3 558.2 574.4 550.3 575.9 542.4 578 534.7 580.7 527.2M592.7 659.6L591.1 656 588.9 648.3 587.3 640.5 586.1 632.5 585.1 624.5 584.1 612.5 583.1 592.4 583 580.3 583.2 568.2 583.7 556.2 584.3 548.1 585.1 540.1 586.2 532.2 587.6 524.3 589.5 516.5M596.8 504L597.1 516.1 597.4 540.2 597.5 600.6 597.1 649 596.8 658.1 596.6 659.6 596.3 658.2M668.6 605.9L669.9 598 670.4 594 670.8 590 671.1 582 670.8 573.9 669.3 557.9 669.2 555.1M661.8 534.5L665.7 541.4 669.3 548.5 669.9 549.5 670.4 549.9M616.2 501.3L622.7 505.2 628.8 509.9 634.5 515.2 637.1 518 642.1 524.1 646.6 530.5 650.6 537.3 654.3 544.3 659.2 555.1 661 558.7 661.9 560.2 662.8 561 663.7 561 664.4 560.6 665.1 559.8 667.1 556.6M602.3 501.1L604.2 503.2 606.4 506.4 608.3 509.9 611.4 517.2 613.9 524.8 615.9 532.6 618.1 544.4 619.3 552.3 620.4 564.4 621 576.4 621 584.5 620.5 596.5 619.8 604.6 618.7 612.5 617.2 620.4 615.1 628.1 612.4 635.6M600.4 503.2L602 506.8 604.2 514.5 605.8 522.3 607 530.3 608 538.3 609 550.3 610 570.4 610.1 582.5 609.9 594.6 609.4 606.6 608.8 614.7 608 622.7 606.9 630.6 605.5 638.5 603.6 646.3M524.5 556.9L523.2 564.8 522.7 568.8 522.3 572.8 522 580.8 522.3 588.9 523.8 604.9 523.9 607.7M531.3 628.3L527.4 621.4 523.8 614.3 523.2 613.3 522.7 612.9M573.6 655.5L568.1 650 563.3 643.9 558.9 637.3 556.9 633.9 553.3 626.9 550.2 619.6 546.3 608.2 543.4 596.6 542 588.7 541.5 584.7 541.4 580.7 541.6 579.4 542.8 576.7 547.5 568.8 558.1 552.2M664.6 617.3L664.8 614.2 667.3 598.3M665.5 593.8L665.9 581.7 665.7 565.6M619.5 507.3L625 512.8 629.8 518.9 634.2 525.5 636.2 528.9 639.8 535.9 642.9 543.2 646.8 554.6 649.7 566.2 651.1 574.1 651.6 578.1 651.7 582.1 651.5 583.4 650.3 586.1 645.6 594 635 610.6M528.5 545.5L528.3 548.6 525.8 564.5M527.6 569L527.2 581.1 527.4 597.2M592.7 651.4L591.2 639.4 589.8 619.4 589 599.3 588.9 579.1 589.2 559 590.1 538.9 591.5 522.8 592.6 514.9 593.3 510.9M661.7 618.5L661.2 615.5 662.9 592.7 663.3 568.5M600.4 511.4L601.9 523.4 603.3 543.4 604.1 563.5 604.2 583.7 603.9 603.8 603 623.9 601.6 640 600.5 647.9 599.8 651.9M531.4 544.3L531.9 547.3 530.2 570.1 529.8 594.3M549.7 649.8L544 644.6 541.3 641.8 536.2 635.9M562.1 647.3L559.6 644.3 554.9 638 552.7 634.7 548.8 627.9 546.9 624.4 543.6 617.2 540.7 609.8 536.8 598.5 535.1 594.8 534.3 593.9 533.6 593.9M579.3 650.8L577.4 647.3 574.1 640.1 572.6 636.4 570.1 628.8 568 621.1 566.3 613.2 565 605.3 564.1 597.3 563.5 589.3 563.3 581.2 563.8 569.2 564.8 561.2 565.5 557.2 567.4 549.4 568.6 545.6M641.1 629.5L630.9 634.5 624.3 638.3 618 642.6 611.9 647.3M657.8 618.5L657.1 615.3 656.9 612.1 657 596 656.8 579.9 657.1 576.9 657.7 574.9 658.7 572.7M634.9 520.7L639.4 527.1 641.5 530.5 645.3 537.4 650.1 548.3 652.9 555.8 656.4 566.2 657.8 569 658.8 569.7 659.5 569.4M653.8 533.4L657.8 540.2 663.4 550.7M632 505L638.5 509 641.6 511.3 647.4 516.3 652.9 521.8 655.4 524.8 660.1 531.1M613.8 512L615.7 515.5 619 522.7 620.5 526.4 623 534 625.1 541.7 626.8 549.6 628.1 557.5 629 565.5 629.6 573.5 629.8 581.6 629.3 593.6 628.3 601.6 627.6 605.6 625.7 613.4 624.5 617.2M552 533.3L562.2 528.3 568.8 524.5 575.1 520.2 581.2 515.5M535.3 544.3L536 547.5 536.2 550.7 536.1 566.8 536.3 582.9 536 585.9 535.4 587.9 534.4 590.1M539.3 629.4L535.3 622.6 529.7 612.1M556 648.7L550.6 643.2 548 640.2 543.3 634M654 622.6L650.9 622 648.3 620.3 646.4 618.1 644.1 615 642.2 613 640.6 612.2 638.8 612.3 637.3 612.9 635.6 614 633.6 615.9 631 618.8M659.1 621.4L657.6 621.3 656.1 620.9 654.9 619.9 654 618.5 652.8 614.7 650.6 599 649.7 595.1 649.1 593.8 648.3 593.1M654.2 606L653.5 594 653.1 590 652.5 586M637.1 514.1L642.5 519.6 645.1 522.6 649.8 528.8M539.1 540.2L542.2 540.8 544.8 542.5 546.7 544.7 549 547.8 550.9 549.8 552.5 550.6 554.3 550.5 555.8 549.9 557.5 548.8 559.5 546.9 562.1 544M534 541.4L535.5 541.5 537 541.9 538.2 542.9 539.1 544.3 540.3 548.1 542.5 563.8 543.4 567.7 544 569 544.8 569.7M538.9 556.8L539.6 568.8 540 572.8 540.6 576.8M646.3 622.6L639.5 619.4 637.3 619.1 635 619.6 632.9 620.6 630.7 622.3 627.9 624.7M642.4 553.8L644.2 561.6 645.6 569.5 646.4 577.5 646.5 581.5 646.3 585.5M546.8 540.2L553.6 543.4 555.8 543.7 558.1 543.2 560.2 542.2 562.4 540.5 565.2 538.1M550.7 609L548.9 601.2 547.5 593.3 546.7 585.3 546.6 581.3 546.8 577.3M583.9 642.6L581.2 630.8 579.4 618.9 577.8 602.9 577.1 586.8 577.2 570.7 577.6 562.7 578.3 554.6 579.9 542.7 581.4 534.8 582.3 530.9M592.7 630.8L591.9 606.7 591.7 578.5 592 554.3 592.8 530.2M600.3 530.2L601.2 554.3 601.5 582.5 601.2 606.7 600.4 630.8M648.8 625.1L634.1 627.7 630.5 629 627.2 630.8 624.1 633M642.6 565.8L643.6 573.8 643.9 581.8 643.8 585.8 643.3 589.8 642.5 593.8M609.2 520.2L611.9 532 613.7 543.9 615.3 559.9 616 576 615.9 592.1 615.5 600.1 614.8 608.2 613.2 620.1 611.7 628 610.8 631.9M544.3 537.7L559 535.1 562.6 533.8 565.9 532 569 529.8M550.5 597L549.5 589 549.2 581 549.3 577 549.8 573 550.6 569M561.5 633.9L559.8 630.4 556.8 623 555.5 619.2 553.1 611.6M568.6 634.2L565.9 626.7 562.7 615.1 560.4 603.3 559.1 591.3 558.8 583.3 558.8 579.2 559.2 571.2 560.3 563.2 562.1 555.4M629.9 526.3L631.6 529.8 634.8 537.1 637.5 544.6 639.7 552.3M624.5 528.6L627.2 536.1 630.4 547.7 632.7 559.5 634 571.5 634.3 579.5 634.3 583.6 633.9 591.6 632.8 599.6 631 607.4M613.3 594.3L612.6 606.3 611.9 614.3M627.3 569.6L627.7 581.7 627.2 593.8M579.8 568.5L580.5 556.5 581.2 548.5M565.8 593.2L565.4 581.1 565.9 569M573.7 629.9L571.9 622.1 569.7 610.2 568.7 602.2 567.8 590.2M618.4 530.4L620.4 538.2 622.7 550 624.2 562 625 574 625.1 586.1 624.7 594.1 623.4 606.1 621.9 614M568 584.8L568.2 572.7 568.7 564.7 569.7 556.7 571.2 548.8M585.1 593.8L585 573.6M608 569.5L608 589.6" fill="none" stroke="#6a97ea" stroke-width="0.6" stroke-linejoin="round"/>
<path d="M547.8 644.3L550.2 645.4L548.8 646.8ZM554.3 585.7L555.4 588.1L553.4 588.1ZM675.2 584.7L676.2 587.2L674.2 587.1ZM645.3 518.5L642.9 517.4L644.3 516ZM638.8 577.1L637.7 574.7L639.7 574.7ZM517.9 578.1L516.9 575.6L518.9 575.7ZM548 634.5L550.2 635.9L548.5 637ZM572.6 597.1L573.7 599.5L571.7 599.6ZM583 587.1L584 589.5L582.1 589.5ZM597.6 581.8L596.6 579.4L598.6 579.4ZM671 580.7L672.1 583.1L670.1 583.1ZM666.3 542.6L664.4 540.8L666.1 539.9ZM645.1 528.3L642.9 526.9L644.6 525.8ZM620.5 565.7L619.4 563.3L621.4 563.2ZM610.1 575.7L609.1 573.3L611 573.3ZM522.1 582.1L521 579.7L523 579.7ZM526.8 620.2L528.7 622L527 622.9ZM545.9 607L547.5 609L545.6 609.6ZM665.7 608.9L666.3 611.5L664.3 611.1ZM665.9 580.4L666.9 582.8L664.9 582.8ZM647.2 555.8L645.6 553.8L647.5 553.2ZM527.4 553.9L526.8 551.3L528.8 551.7ZM527.2 582.4L526.2 580L528.2 580ZM588.9 581.8L589.8 584.2L587.9 584.2ZM662.8 595.4L663.6 597.9L661.6 597.8ZM604.2 581L603.3 578.6L605.2 578.6ZM530.3 567.4L529.5 564.9L531.5 565ZM543 643.7L545.4 644.7L544 646.1ZM546.4 623.2L548.3 625L546.5 625.8ZM564.4 600L565.6 602.3L563.6 602.5ZM626.4 637L628 634.9L629 636.6ZM657 594.7L658 597.1L656 597.1ZM649.1 545.8L647.3 544L649.1 543.2ZM658.5 541.4L656.4 539.7L658.2 538.8ZM648.4 517.2L646 516.2L647.4 514.8ZM628.7 562.8L627.5 560.5L629.5 560.3ZM566.7 525.8L565.1 527.9L564.1 526.2ZM536.1 568.1L535.1 565.7L537.1 565.7ZM534.6 621.4L536.7 623.1L534.9 624ZM549.7 642.2L552.1 643.4L550.6 644.7ZM643.1 614L645.5 615.1L644.1 616.4ZM652 609.7L653.3 612L651.3 612.2ZM653.7 596.7L654.8 599L652.9 599.1ZM643.4 520.6L641 519.4L642.5 518.1ZM550 548.8L547.6 547.7L549 546.4ZM541.1 553.1L539.8 550.8L541.8 550.6ZM539.4 566.1L538.3 563.8L540.2 563.7ZM636 619.4L638.1 618L638.5 619.9ZM645.8 570.8L644.5 568.5L646.4 568.3ZM557.1 543.4L555 544.8L554.6 542.9ZM547.3 592L548.6 594.3L546.7 594.5ZM577.1 585.5L578.1 587.9L576.1 587.9ZM591.7 581.2L592.7 583.6L590.7 583.6ZM601.5 579.8L600.5 577.4L602.4 577.4ZM636.4 627.2L638.6 625.8L639 627.7ZM643.8 579.1L642.8 576.7L644.8 576.7ZM616 577.3L615 574.9L617 574.9ZM556.7 535.6L554.5 537L554.1 535.1ZM549.3 583.7L550.3 586.1L548.3 586.1ZM556.4 621.7L558.1 623.7L556.2 624.4ZM559.3 594L560.5 596.3L558.6 596.5ZM635.3 538.4L633.5 536.4L635.3 535.7ZM633.8 568.8L632.6 566.5L634.5 566.3ZM612.8 603.6L612 601.2L614 601.3ZM627.6 579L626.6 576.6L628.6 576.6ZM580.3 559.2L581.1 561.6L579.1 561.5ZM565.5 583.8L566.5 586.2L564.5 586.2ZM569.6 608.9L570.9 611.2L568.9 611.5ZM624.9 571.3L623.8 568.9L625.7 568.8ZM568.5 567.4L569.3 569.9L567.3 569.7ZM584.9 584.4L585.9 586.8L584 586.8ZM608.1 578.9L607.1 576.5L609.1 576.5Z" fill="#6a97ea"/>
<path d="M539.8 581.4L540.9 588.8 542.3 596.3 544.1 603.7 546.2 610.7 548.5 617.2 551.4 624.3 554.4 630.5 557.8 636.6 561.5 642.3 565.3 647.3 569.4 651.9 573.3 655.7 577.7 659.2 582.3 662.2 584.5 663.4 586.8 664.4 588.8 665.1 590.2 665.4" fill="none" stroke="#f4561e" stroke-width="0.85"/>
<path d="M653.3 581.4L652.2 574 650.8 566.5 649 559.1 646.9 552.1 644.6 545.6 641.7 538.5 638.7 532.3 635.3 526.2 631.6 520.5 627.8 515.5 623.7 510.9 619.8 507.1 615.4 503.6 610.8 500.6 608.6 499.4 606.3 498.4 604.3 497.7 602.9 497.4" fill="none" stroke="#f4561e" stroke-width="0.85"/>
<path d="M539.8 581.4L539.1 575 538.7 569.1 538 549.5 537.6 546.4 537 544.3 536.3 543.1 535.5 542.3 534.4 541.8 533.3 541.7 531.9 541.8 530.2 542.1 524.2 544.1" fill="none" stroke="#f4561e" stroke-width="0.85"/>
<path d="M653.3 581.4L654 587.8 654.4 593.7 655.1 613.3 655.5 616.4 656.1 618.5 656.8 619.7 657.6 620.5 658.7 621 659.8 621.1 661.2 621 662.9 620.7 668.9 618.7" fill="none" stroke="#f4561e" stroke-width="0.85"/>
<path d="M539.8 581.4L531.2 596.5 522.1 613.4" fill="none" stroke="#d83a14" stroke-width="0.75"/>
<path d="M653.3 581.4L661.9 566.3 671 549.4" fill="none" stroke="#d83a14" stroke-width="0.75"/>
<path d="M539.8 581.4L545.6 571.8 551.5 562.4 557.4 553.2 563.4 544.3 569.7 535.4 575.8 527.1 582 518.9 587.8 511.6" fill="none" stroke="#ee1111" stroke-width="1.4" stroke-linecap="round"/>
<path d="M587.8 511.6L593.3 505.1 596.5 501.7" fill="none" stroke="#f4561e" stroke-width="0.85"/>
<path d="M558 552.3L556.8 558.1L553.1 555.7Z" fill="#ee1111"/>
<path d="M653.3 581.4L647.5 591 641.6 600.4 635.7 609.6 629.7 618.5 623.4 627.4 617.3 635.7 611.1 643.9 605.3 651.2" fill="none" stroke="#ee1111" stroke-width="1.4" stroke-linecap="round"/>
<path d="M605.3 651.2L599.8 657.7 596.6 661.1" fill="none" stroke="#f4561e" stroke-width="0.85"/>
<path d="M635.1 610.5L636.3 604.7L640 607.1Z" fill="#ee1111"/>
<path d="M596.6 501.7L596.7 501.6 596.8 501.8 597.1 502.7 597.6 506.9 598.1 514.4 598.5 524.4 599.1 550.6 599.4 581.4 599.1 611.7 598.5 637.2 598.1 646.9 597.7 654.2 597.1 659.1 596.8 660.5 596.6 661.1" fill="none" stroke="#f4561e" stroke-width="0.85"/>
<path d="M599.4 582.8L598.3 580.2L600.4 580.2Z" fill="#f4561e"/>
<path d="M596.5 661.1L596.3 661 596.1 660 595.6 655.8 595.2 648.3 594.9 638.3 594.3 612.2 594.1 581.4 594.3 551.2 594.8 525.6 595.2 515.8 595.6 508.5 596.1 503.7 596.3 502.3 596.5 501.7" fill="none" stroke="#f4561e" stroke-width="0.85"/>
<path d="M594.1 580L595.2 582.6L593.1 582.6Z" fill="#f4561e"/>
</g>
<rect x="512.3" y="490.8" width="168.5" height="181.2" fill="none" stroke="#333" stroke-width="0.4"/>
<text x="516.3" y="679.7" font-size="6.7" text-anchor="middle">−1.0</text>
<text x="556.4" y="679.7" font-size="6.7" text-anchor="middle">−0.5</text>
<text x="596.5" y="679.7" font-size="6.7" text-anchor="middle">0.0</text>
<text x="636.7" y="679.7" font-size="6.7" text-anchor="middle">0.5</text>
<text x="676.8" y="679.7" font-size="6.7" text-anchor="middle">1.0</text>
<text x="510.1" y="670" font-size="6.7" text-anchor="end">−1.00</text>
<text x="510.1" y="648.5" font-size="6.7" text-anchor="end">−0.75</text>
<text x="510.1" y="627" font-size="6.7" text-anchor="end">−0.50</text>
<text x="510.1" y="605.4" font-size="6.7" text-anchor="end">−0.25</text>
<text x="510.1" y="583.9" font-size="6.7" text-anchor="end">0.00</text>
<text x="510.1" y="562.4" font-size="6.7" text-anchor="end">0.25</text>
<text x="510.1" y="540.8" font-size="6.7" text-anchor="end">0.50</text>
<text x="510.1" y="519.3" font-size="6.7" text-anchor="end">0.75</text>
<text x="510.1" y="497.8" font-size="6.7" text-anchor="end">1.00</text>
<path d="M516.3 672v2.4M556.4 672v2.4M596.5 672v2.4M636.7 672v2.4M676.8 672v2.4M512.3 667.5h-2.4M512.3 646h-2.4M512.3 624.5h-2.4M512.3 602.9h-2.4M512.3 581.4h-2.4M512.3 559.9h-2.4M512.3 538.3h-2.4M512.3 516.8h-2.4M512.3 495.3h-2.4" stroke="#000" stroke-width="0.55" fill="none"/>
<rect x="595.6" y="580.5" width="1.8" height="1.8" fill="#000"/>
<text x="598.1" y="589.6" font-size="9.6" text-anchor="start">A</text>
<rect x="538.9" y="580.5" width="1.8" height="1.8" fill="#000"/>
<rect x="652.4" y="580.5" width="1.8" height="1.8" fill="#000"/>
<text x="542" y="589.6" font-size="9.6" font-style="italic" text-anchor="start">B<tspan dx="0.3" dy="3" font-size="8.16" font-style="normal">−</tspan></text>
<text x="655.5" y="589.6" font-size="9.6" font-style="italic" text-anchor="start">B<tspan dx="1.6" dy="2" font-size="6.912" font-style="normal">+</tspan></text>
<rect x="668.1" y="618" width="1.5" height="1.5" fill="#000"/>
<rect x="523.5" y="543.3" width="1.5" height="1.5" fill="#000"/>
<rect x="602.2" y="494.8" width="1.5" height="1.5" fill="#000"/>
<rect x="589.4" y="666.5" width="1.5" height="1.5" fill="#000"/>
<rect x="670.3" y="548.7" width="1.5" height="1.5" fill="#000"/>
<rect x="521.3" y="612.6" width="1.5" height="1.5" fill="#000"/>
<text x="512.5" y="552.1" font-size="9.6" font-style="italic" text-anchor="start">D<tspan dx="0.3" dy="3" font-size="8.16" font-style="normal">−</tspan></text>
<text x="670.4" y="626.7" font-size="9.6" font-style="italic" text-anchor="start">D<tspan dx="1.6" dy="2" font-size="6.912" font-style="normal">+</tspan></text>
<text x="604.8" y="503" font-size="9.6" font-style="italic" text-anchor="start">E<tspan dx="1.6" dy="2" font-size="6.912" font-style="normal">+</tspan></text>
<text x="592.1" y="664.8" font-size="9.6" font-style="italic" text-anchor="start">E<tspan dx="0.3" dy="3" font-size="8.16" font-style="normal">−</tspan></text>
<text x="672.8" y="556.8" font-size="9.6" font-style="italic" text-anchor="start">F<tspan dx="1.6" dy="2" font-size="6.912" font-style="normal">+</tspan></text>
<text x="512.6" y="620.8" font-size="9.6" font-style="italic" text-anchor="start">F<tspan dx="0.3" dy="3" font-size="8.16" font-style="normal">−</tspan></text>
<text x="537.7" y="550" font-size="10" font-style="italic" letter-spacing="0.5">(II<tspan dx="0.8" dy="2.4" font-size="7.2" font-style="normal">−</tspan><tspan dx="0.8" dy="-2.4">)</tspan></text>
<text x="518.5" y="579.9" font-size="10" font-style="italic" letter-spacing="0.5">(I<tspan dx="0.8" dy="2.4" font-size="7.2" font-style="normal">−</tspan><tspan dx="0.8" dy="-2.4">)</tspan></text>
<text x="565.3" y="587.2" font-size="10" font-style="italic" letter-spacing="0.5">(II<tspan dx="0.8" dy="2.4" font-size="7.2" font-style="normal">+</tspan><tspan dx="0.8" dy="-2.4">)</tspan></text>
<text x="645.2" y="550.4" font-size="10" font-style="italic" letter-spacing="0.5">(III<tspan dx="0.8" dy="2.4" font-size="7.2" font-style="normal">−</tspan><tspan dx="0.8" dy="-2.4">)</tspan></text>
<text x="617.6" y="581.4" font-size="10" font-style="italic" letter-spacing="0.5">(II<tspan dx="0.8" dy="2.4" font-size="7.2" font-style="normal">−</tspan><tspan dx="0.8" dy="-2.4">)</tspan></text>
<text x="655.3" y="602.6" font-size="10" font-style="italic" letter-spacing="0.5">(I<tspan dx="0.8" dy="2.4" font-size="7.2" font-style="normal">+</tspan><tspan dx="0.8" dy="-2.4">)</tspan></text>
<text x="630.8" y="624.5" font-size="10" font-style="italic" letter-spacing="0.5">(II<tspan dx="0.8" dy="2.4" font-size="7.2" font-style="normal">+</tspan><tspan dx="0.8" dy="-2.4">)</tspan></text>
<text x="524" y="618.5" font-size="10" font-style="italic" letter-spacing="0.5">(III<tspan dx="0.8" dy="2.4" font-size="7.2" font-style="normal">+</tspan><tspan dx="0.8" dy="-2.4">)</tspan></text>
</g>
<text x="596.5" y="691" font-size="11" font-style="italic" text-anchor="middle">ϕ<tspan font-size="7" dy="2">p</tspan></text>
<text transform="translate(484 581.4) rotate(-90)" font-size="11" font-style="italic" text-anchor="middle">z<tspan font-size="7" dy="2">p</tspan></text>
<text x="118.2" y="220.8" style="font-family:'Liberation Serif',serif" font-weight="bold" font-size="13" text-anchor="middle">(a)</text>
<text x="359.4" y="220.8" style="font-family:'Liberation Serif',serif" font-weight="bold" font-size="13" text-anchor="middle">(b)</text>
<text x="594.8" y="220.8" style="font-family:'Liberation Serif',serif" font-weight="bold" font-size="13" text-anchor="middle">(c)</text>
<text x="118.2" y="463" style="font-family:'Liberation Serif',serif" font-weight="bold" font-size="13" text-anchor="middle">(d)</text>
<text x="359.4" y="463" style="font-family:'Liberation Serif',serif" font-weight="bold" font-size="13" text-anchor="middle">(e)</text>
<text x="594.8" y="463" style="font-family:'Liberation Serif',serif" font-weight="bold" font-size="13" text-anchor="middle">(f)</text>
<text x="118.2" y="708.6" style="font-family:'Liberation Serif',serif" font-weight="bold" font-size="13" text-anchor="middle">(g)</text>
<text x="359.4" y="708.6" style="font-family:'Liberation Serif',serif" font-weight="bold" font-size="13" text-anchor="middle">(h)</text>
<text x="594.8" y="708.6" style="font-family:'Liberation Serif',serif" font-weight="bold" font-size="13" text-anchor="middle">(i)</text>
</svg>
</body></html>
